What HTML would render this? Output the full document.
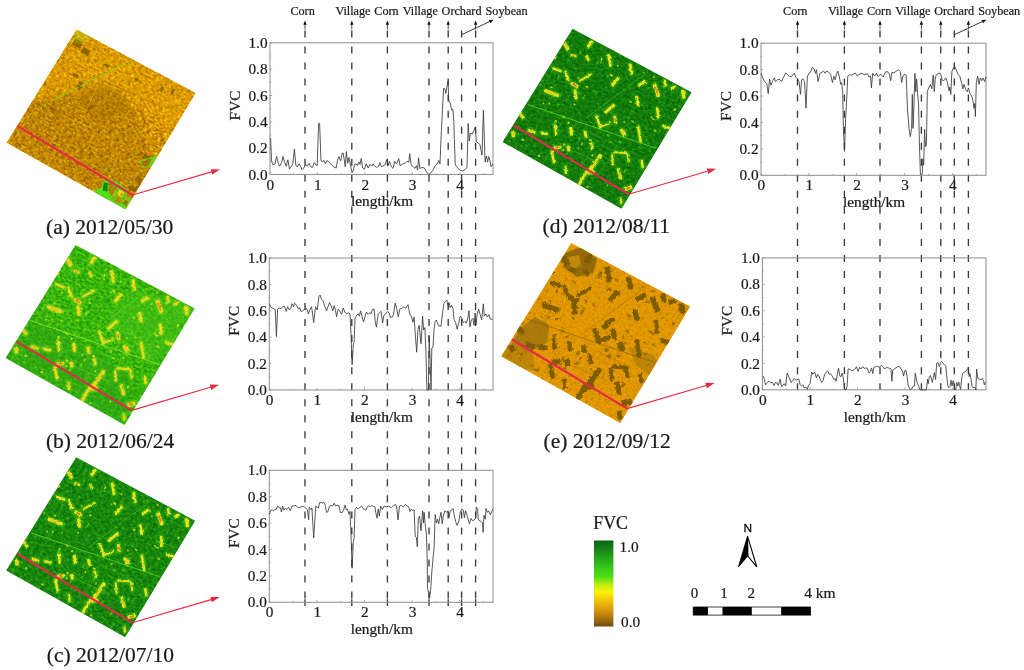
<!DOCTYPE html>
<html lang="en"><head><meta charset="utf-8"><title>FVC profiles 2012</title>
<style>html,body{margin:0;padding:0;background:#fff}body{width:1024px;height:670px;overflow:hidden}svg{display:block}</style></head><body>
<svg width="1024" height="670" viewBox="0 0 1024 670">
<rect width="1024" height="670" fill="#fff"/>
<defs>
<clipPath id="tp"><polygon points="0.0,0.0 119.0,63.5 49.0,180.0 -70.0,113.2"/></clipPath>
<filter id="texA" x="-110" y="-110" width="330" height="330" filterUnits="userSpaceOnUse" color-interpolation-filters="sRGB"><feTurbulence type="fractalNoise" baseFrequency="0.3 0.5" numOctaves="2" seed="3"/><feColorMatrix type="matrix" values="2.6 0 0 0 -0.8  2.6 0 0 0 -0.8  2.6 0 0 0 -0.8  0 0 0 0 1"/><feComponentTransfer><feFuncR type="table" tableValues="0.588 0.690 0.776 0.839 0.878 0.918 0.965"/><feFuncG type="table" tableValues="0.369 0.447 0.518 0.573 0.612 0.690 0.816"/><feFuncB type="table" tableValues="0.000 0.000 0.000 0.000 0.000 0.016 0.055"/></feComponentTransfer></filter>
<filter id="texB" x="-110" y="-110" width="330" height="330" filterUnits="userSpaceOnUse" color-interpolation-filters="sRGB"><feTurbulence type="fractalNoise" baseFrequency="0.3 0.45" numOctaves="2" seed="5"/><feColorMatrix type="matrix" values="2.4 0 0 0 -0.7  2.4 0 0 0 -0.7  2.4 0 0 0 -0.7  0 0 0 0 1"/><feComponentTransfer><feFuncR type="table" tableValues="0.118 0.157 0.196 0.235 0.282 0.361"/><feFuncG type="table" tableValues="0.588 0.635 0.682 0.729 0.776 0.831"/><feFuncB type="table" tableValues="0.039 0.039 0.039 0.047 0.055 0.078"/></feComponentTransfer></filter>
<filter id="texC" x="-110" y="-110" width="330" height="330" filterUnits="userSpaceOnUse" color-interpolation-filters="sRGB"><feTurbulence type="fractalNoise" baseFrequency="0.3 0.45" numOctaves="2" seed="6"/><feColorMatrix type="matrix" values="1.9 0 0 0 -0.44999999999999996  1.9 0 0 0 -0.44999999999999996  1.9 0 0 0 -0.44999999999999996  0 0 0 0 1"/><feComponentTransfer><feFuncR type="table" tableValues="0.031 0.055 0.078 0.102 0.133 0.188"/><feFuncG type="table" tableValues="0.400 0.455 0.502 0.549 0.596 0.675"/><feFuncB type="table" tableValues="0.031 0.039 0.047 0.055 0.063 0.094"/></feComponentTransfer></filter>
<filter id="texD" x="-110" y="-110" width="330" height="330" filterUnits="userSpaceOnUse" color-interpolation-filters="sRGB"><feTurbulence type="fractalNoise" baseFrequency="0.3 0.45" numOctaves="2" seed="7"/><feColorMatrix type="matrix" values="1.9 0 0 0 -0.44999999999999996  1.9 0 0 0 -0.44999999999999996  1.9 0 0 0 -0.44999999999999996  0 0 0 0 1"/><feComponentTransfer><feFuncR type="table" tableValues="0.016 0.039 0.063 0.082 0.110 0.157"/><feFuncG type="table" tableValues="0.361 0.416 0.463 0.502 0.549 0.627"/><feFuncB type="table" tableValues="0.031 0.031 0.039 0.047 0.063 0.086"/></feComponentTransfer></filter>
<filter id="texE" x="-110" y="-110" width="330" height="330" filterUnits="userSpaceOnUse" color-interpolation-filters="sRGB"><feTurbulence type="fractalNoise" baseFrequency="0.35 0.5" numOctaves="2" seed="8"/><feColorMatrix type="matrix" values="1.7 0 0 0 -0.35  1.7 0 0 0 -0.35  1.7 0 0 0 -0.35  0 0 0 0 1"/><feComponentTransfer><feFuncR type="table" tableValues="0.769 0.831 0.871 0.894 0.910 0.933"/><feFuncG type="table" tableValues="0.518 0.557 0.588 0.604 0.620 0.659"/><feFuncB type="table" tableValues="0.000 0.000 0.000 0.000 0.000 0.016"/></feComponentTransfer></filter>
<filter id="spGreenA" x="-110" y="-110" width="330" height="330" filterUnits="userSpaceOnUse" color-interpolation-filters="sRGB"><feTurbulence type="fractalNoise" baseFrequency="0.5" numOctaves="2" seed="21"/><feColorMatrix type="matrix" values="0 0 0 0 0.373  0 0 0 0 0.878  0 0 0 0 0.118  5 0 0 0 -3.25"/></filter>
<filter id="spYellA" x="-110" y="-110" width="330" height="330" filterUnits="userSpaceOnUse" color-interpolation-filters="sRGB"><feTurbulence type="fractalNoise" baseFrequency="0.55" numOctaves="2" seed="22"/><feColorMatrix type="matrix" values="0 0 0 0 1.000  0 0 0 0 0.878  0 0 0 0 0.063  5 0 0 0 -3.0"/></filter>
<filter id="spDarkA" x="-110" y="-110" width="330" height="330" filterUnits="userSpaceOnUse" color-interpolation-filters="sRGB"><feTurbulence type="fractalNoise" baseFrequency="0.35" numOctaves="2" seed="23"/><feColorMatrix type="matrix" values="0 0 0 0 0.478  0 0 0 0 0.314  0 0 0 0 0.000  5 0 0 0 -3.1"/></filter>
<filter id="spLightG" x="-110" y="-110" width="330" height="330" filterUnits="userSpaceOnUse" color-interpolation-filters="sRGB"><feTurbulence type="fractalNoise" baseFrequency="0.45" numOctaves="2" seed="24"/><feColorMatrix type="matrix" values="0 0 0 0 0.431  0 0 0 0 0.878  0 0 0 0 0.118  5 0 0 0 -3.1"/></filter>
<filter id="spDarkE" x="-110" y="-110" width="330" height="330" filterUnits="userSpaceOnUse" color-interpolation-filters="sRGB"><feTurbulence type="fractalNoise" baseFrequency="0.4" numOctaves="2" seed="25"/><feColorMatrix type="matrix" values="0 0 0 0 0.486  0 0 0 0 0.353  0 0 0 0 0.031  5 0 0 0 -3.1"/></filter>
<filter id="rough" x="-110" y="-110" width="330" height="330" filterUnits="userSpaceOnUse"><feTurbulence type="fractalNoise" baseFrequency="0.35" numOctaves="2" seed="31" result="t"/><feDisplacementMap in="SourceGraphic" in2="t" scale="3.2" xChannelSelector="R" yChannelSelector="G"/></filter>
<filter id="roughE" x="-110" y="-110" width="330" height="330" filterUnits="userSpaceOnUse"><feTurbulence type="fractalNoise" baseFrequency="0.3" numOctaves="2" seed="33" result="t"/><feDisplacementMap in="SourceGraphic" in2="t" scale="4" xChannelSelector="R" yChannelSelector="G"/></filter>
<filter id="blur1" x="-50%" y="-50%" width="200%" height="200%"><feGaussianBlur stdDeviation="1.0"/></filter>
<filter id="blur04" x="-110" y="-110" width="330" height="330" filterUnits="userSpaceOnUse"><feGaussianBlur stdDeviation="0.45"/></filter>
<filter id="blur05" x="-50%" y="-50%" width="200%" height="200%"><feGaussianBlur stdDeviation="0.5"/></filter>
<filter id="blur2" x="-50%" y="-50%" width="200%" height="200%"><feGaussianBlur stdDeviation="2.5"/></filter>
</defs>
<g transform="translate(76.6,29.5)">
<g clip-path="url(#tp)">
<rect x="-100" y="-100" width="310" height="310" transform="rotate(28)" filter="url(#texA)"/>
<polygon points="0,0 119,63.5 95,105 40,60 -20,70 -45,72" fill="#f0ac00" opacity="0.38" filter="url(#blur2)"/>
<polygon points="-70,113 -46,74 -10,62 25,52 45,62 62,90 74,118 80,135 49,180" fill="#9a6600" opacity="0.3" filter="url(#blur2)"/>
<polygon points="2,70 22,56 46,66 60,86 40,84 20,96" fill="#a87000" opacity="0.3" filter="url(#blur1)"/>
<line x1="45.8" y1="72.7" x2="65.3" y2="45.2" stroke="#f4c80c" stroke-width="0.7" opacity="0.48"/><line x1="-10.8" y1="28.6" x2="30.8" y2="48.8" stroke="#f4c80c" stroke-width="0.7" opacity="0.37"/><line x1="12.8" y1="48.6" x2="55.7" y2="64.8" stroke="#f4c80c" stroke-width="0.7" opacity="0.38"/><line x1="25.7" y1="80.9" x2="40.9" y2="52.8" stroke="#f4c80c" stroke-width="0.7" opacity="0.27"/><line x1="30.7" y1="72.2" x2="50.9" y2="35.1" stroke="#f4c80c" stroke-width="0.7" opacity="0.48"/><line x1="73.4" y1="108.8" x2="81.3" y2="92.6" stroke="#f4c80c" stroke-width="0.7" opacity="0.51"/><line x1="-24.4" y1="119.3" x2="1.9" y2="131.2" stroke="#f4c80c" stroke-width="0.7" opacity="0.26"/><line x1="67.8" y1="68.2" x2="98.6" y2="23.4" stroke="#f4c80c" stroke-width="0.7" opacity="0.40"/><line x1="-31.3" y1="123.3" x2="-9.5" y2="84.9" stroke="#f4c80c" stroke-width="0.7" opacity="0.38"/><line x1="35.3" y1="110.4" x2="53.4" y2="80.0" stroke="#f4c80c" stroke-width="0.7" opacity="0.55"/><line x1="-12.7" y1="62.8" x2="-18.4" y2="80.3" stroke="#f4c80c" stroke-width="0.7" opacity="0.26"/><line x1="-30.1" y1="137.5" x2="-20.0" y2="120.6" stroke="#f4c80c" stroke-width="0.7" opacity="0.50"/><line x1="43.8" y1="121.3" x2="27.2" y2="160.3" stroke="#f4c80c" stroke-width="0.7" opacity="0.57"/><line x1="-54.6" y1="139.9" x2="-28.2" y2="96.8" stroke="#f4c80c" stroke-width="0.7" opacity="0.30"/><line x1="44.1" y1="157.2" x2="59.9" y2="164.6" stroke="#f4c80c" stroke-width="0.7" opacity="0.44"/><line x1="64.2" y1="106.7" x2="108.6" y2="124.9" stroke="#f4c80c" stroke-width="0.7" opacity="0.28"/><line x1="77.5" y1="80.7" x2="110.5" y2="95.0" stroke="#f4c80c" stroke-width="0.7" opacity="0.53"/><line x1="74.6" y1="77.0" x2="119.5" y2="100.1" stroke="#f4c80c" stroke-width="0.7" opacity="0.25"/><line x1="11.3" y1="144.5" x2="19.5" y2="129.9" stroke="#f4c80c" stroke-width="0.7" opacity="0.37"/><line x1="44.5" y1="96.0" x2="77.7" y2="111.1" stroke="#f4c80c" stroke-width="0.7" opacity="0.37"/><line x1="84.8" y1="106.2" x2="97.9" y2="78.0" stroke="#f4c80c" stroke-width="0.7" opacity="0.47"/><line x1="43.3" y1="102.2" x2="61.8" y2="109.3" stroke="#f4c80c" stroke-width="0.7" opacity="0.37"/><line x1="4.3" y1="93.3" x2="21.1" y2="55.0" stroke="#f4c80c" stroke-width="0.7" opacity="0.54"/><line x1="0.0" y1="96.9" x2="34.4" y2="110.1" stroke="#f4c80c" stroke-width="0.7" opacity="0.36"/><line x1="18.7" y1="120.8" x2="39.3" y2="131.4" stroke="#f4c80c" stroke-width="0.7" opacity="0.59"/><line x1="59.1" y1="93.6" x2="85.3" y2="57.5" stroke="#f4c80c" stroke-width="0.7" opacity="0.40"/><line x1="57.2" y1="80.3" x2="63.8" y2="65.3" stroke="#f4c80c" stroke-width="0.7" opacity="0.56"/><line x1="77.7" y1="117.0" x2="67.7" y2="146.8" stroke="#f4c80c" stroke-width="0.7" opacity="0.41"/><line x1="-32.1" y1="77.6" x2="11.1" y2="96.8" stroke="#f4c80c" stroke-width="0.7" opacity="0.47"/><line x1="-68.3" y1="118.6" x2="-45.0" y2="82.9" stroke="#f4c80c" stroke-width="0.7" opacity="0.59"/><line x1="64.8" y1="104.6" x2="77.7" y2="73.5" stroke="#f4c80c" stroke-width="0.7" opacity="0.59"/><line x1="-9.0" y1="-1.8" x2="33.9" y2="17.1" stroke="#f4c80c" stroke-width="0.7" opacity="0.28"/><line x1="-9.9" y1="27.1" x2="38.2" y2="45.9" stroke="#f4c80c" stroke-width="0.7" opacity="0.52"/><line x1="64.0" y1="64.8" x2="85.1" y2="72.6" stroke="#f4c80c" stroke-width="0.7" opacity="0.43"/><line x1="15.3" y1="157.3" x2="26.3" y2="141.5" stroke="#f4c80c" stroke-width="0.7" opacity="0.43"/><line x1="-72.6" y1="118.4" x2="-50.7" y2="87.3" stroke="#f4c80c" stroke-width="0.7" opacity="0.42"/><line x1="-10.0" y1="13.7" x2="25.2" y2="27.7" stroke="#f4c80c" stroke-width="0.7" opacity="0.56"/><line x1="57.4" y1="44.9" x2="75.8" y2="53.6" stroke="#f4c80c" stroke-width="0.7" opacity="0.27"/><line x1="-14.3" y1="74.1" x2="8.6" y2="82.6" stroke="#f4c80c" stroke-width="0.7" opacity="0.50"/><line x1="-15.3" y1="76.7" x2="29.6" y2="99.0" stroke="#f4c80c" stroke-width="0.7" opacity="0.50"/>
<line x1="-44.3" y1="70.6" x2="-6.6" y2="87.7" stroke="#8a5c00" stroke-width="0.8" opacity="0.31"/><line x1="-3.8" y1="83.1" x2="13.4" y2="51.2" stroke="#8a5c00" stroke-width="0.8" opacity="0.47"/><line x1="-7.5" y1="146.9" x2="8.0" y2="118.2" stroke="#8a5c00" stroke-width="0.8" opacity="0.43"/><line x1="-8.4" y1="4.5" x2="21.2" y2="18.2" stroke="#8a5c00" stroke-width="0.8" opacity="0.43"/><line x1="-25.1" y1="67.8" x2="3.7" y2="80.5" stroke="#8a5c00" stroke-width="0.8" opacity="0.42"/><line x1="-27.1" y1="53.7" x2="-42.1" y2="93.4" stroke="#8a5c00" stroke-width="0.8" opacity="0.43"/><line x1="48.8" y1="117.6" x2="68.8" y2="74.9" stroke="#8a5c00" stroke-width="0.8" opacity="0.38"/><line x1="-24.9" y1="23.4" x2="8.8" y2="39.4" stroke="#8a5c00" stroke-width="0.8" opacity="0.40"/><line x1="25.2" y1="122.1" x2="9.5" y2="164.0" stroke="#8a5c00" stroke-width="0.8" opacity="0.47"/><line x1="7.1" y1="122.1" x2="-1.7" y2="143.7" stroke="#8a5c00" stroke-width="0.8" opacity="0.34"/><line x1="-26.6" y1="94.7" x2="-6.8" y2="64.2" stroke="#8a5c00" stroke-width="0.8" opacity="0.59"/><line x1="29.2" y1="87.9" x2="40.6" y2="69.3" stroke="#8a5c00" stroke-width="0.8" opacity="0.28"/><line x1="32.5" y1="168.1" x2="48.2" y2="140.7" stroke="#8a5c00" stroke-width="0.8" opacity="0.56"/><line x1="-12.3" y1="41.5" x2="9.2" y2="51.7" stroke="#8a5c00" stroke-width="0.8" opacity="0.40"/><line x1="-28.2" y1="59.1" x2="-5.0" y2="67.6" stroke="#8a5c00" stroke-width="0.8" opacity="0.35"/><line x1="-53.5" y1="90.2" x2="-27.7" y2="100.3" stroke="#8a5c00" stroke-width="0.8" opacity="0.50"/><line x1="10.5" y1="43.4" x2="54.1" y2="64.2" stroke="#8a5c00" stroke-width="0.8" opacity="0.49"/><line x1="-3.5" y1="7.4" x2="-17.4" y2="37.9" stroke="#8a5c00" stroke-width="0.8" opacity="0.54"/><line x1="37.7" y1="55.5" x2="83.5" y2="77.4" stroke="#8a5c00" stroke-width="0.8" opacity="0.50"/><line x1="22.9" y1="135.9" x2="29.5" y2="122.2" stroke="#8a5c00" stroke-width="0.8" opacity="0.35"/><line x1="-25.4" y1="98.0" x2="-13.4" y2="76.7" stroke="#8a5c00" stroke-width="0.8" opacity="0.31"/><line x1="-11.7" y1="13.1" x2="11.9" y2="23.9" stroke="#8a5c00" stroke-width="0.8" opacity="0.52"/>
<rect x="-4.5" y="-3.5" width="9" height="7" fill="#8a5e04" opacity="0.9" transform="translate(1,14) rotate(28)"/>
<rect x="-4.0" y="-3.0" width="8" height="6" fill="#8a5e04" opacity="0.9" transform="translate(9,22) rotate(28)"/>
<rect x="-4.0" y="-2.25" width="8" height="4.5" fill="#8a5e04" opacity="0.9" transform="translate(3,56) rotate(-60)"/>
<rect x="-3.0" y="-1.5" width="6" height="3" fill="#8a5e04" opacity="0.9" transform="translate(-1,46) rotate(28)"/>
<rect x="-3.0" y="-1.5" width="6" height="3" fill="#8a5e04" opacity="0.9" transform="translate(-24,80) rotate(30)"/>
<rect x="-2.5" y="-1.5" width="5" height="3" fill="#8a5e04" opacity="0.9" transform="translate(30,36) rotate(28)"/>
<rect x="-3.0" y="-1.5" width="6" height="3" fill="#8a5e04" opacity="0.9" transform="translate(85,60) rotate(-60)"/>
<rect x="-2.5" y="-1.5" width="5" height="3" fill="#8a5e04" opacity="0.9" transform="translate(96,62) rotate(-60)"/>
<rect x="-2.0" y="-1.5" width="4" height="3" fill="#8a5e04" opacity="0.9" transform="translate(60,50) rotate(28)"/>
<rect x="-4.0" y="-2.5" width="8" height="5" fill="#8a5e04" opacity="0.9" transform="translate(70,128) rotate(28)"/>
<rect x="-3.0" y="-2.5" width="6" height="5" fill="#8a5e04" opacity="0.9" transform="translate(62,150) rotate(28)"/>
<rect x="-3.5" y="-1.5" width="7" height="3" fill="#8a5e04" opacity="0.9" transform="translate(14,78) rotate(-30)"/>
<line x1="58" y1="29" x2="-28" y2="73" stroke="#7be01e" stroke-width="1.1" stroke-dasharray="5 2 2 3 7 2" opacity="0.9"/>
<line x1="-30" y1="74" x2="-52" y2="93" stroke="#a8e01e" stroke-width="1" stroke-dasharray="3 3" opacity="0.8"/>
<polygon points="0,0 14,7 6,14 -8,12" fill="#9fe01e" opacity="0.28" filter="url(#blur05)"/>
<polygon points="17.9,160.9 25.2,158.1 27.1,150.6 32.2,151.0 33.1,158.7 32.4,164.0 37.5,168.7 50.4,178.8 48.7,180.5 17.9,163.1" fill="#4fe01a" filter="url(#blur05)"/>
<polygon points="27.4,153.1 31.3,153.6 30.8,162.2 25.9,161.1" fill="#0f8a14" filter="url(#blur05)"/>
<polygon points="34.1,150.6 40.8,152.2 47.0,157.3 50.9,159.8 49.5,163.7 42.7,160.3 35.8,155.5" fill="#58e01c" filter="url(#blur05)" opacity="0.9"/>
<polygon points="35.8,155.3 50.4,159.8 54.8,166.5 53.2,173.2 49.8,179.0 37.5,168.7" fill="#5ade1e" opacity="0.7"/>
<rect x="-3.1" y="-3.1" width="6.3" height="6.3" fill="#b07c06" transform="translate(35.5,158.9) rotate(30)" />
<rect x="-2.8" y="-2.8" width="5.6" height="5.6" fill="#f2d414" transform="translate(43.9,164.0) rotate(30)" />
<rect x="-1.2" y="-1.2" width="2.5" height="2.5" fill="#e89a10" transform="translate(44.8,165.1) rotate(30)" />
<rect x="-1.9" y="-1.9" width="3.8" height="3.8" fill="#b88406" transform="translate(52.0,166.2) rotate(30)" />
<rect x="-2.8" y="-2.8" width="5.6" height="5.6" fill="#b88406" transform="translate(41.4,170.6) rotate(30)" />
<rect x="-2.0" y="-2.0" width="4.0" height="4.0" fill="#9a6c06" transform="translate(49.0,173.0) rotate(30)" />
<polygon points="51.5,157.0 56.5,155.9 59.9,158.7 58.2,162.6 52.6,160.9" fill="#8e6004" filter="url(#blur05)" opacity="0.9"/>
<polygon points="63.2,130.7 81.0,126.0 76.1,137.2 65.8,138.5" fill="#62e01e" opacity="0.85"/>
<polygon points="64.7,132.0 74.8,129.3 72.5,136.5 66.5,137.6" fill="#a47206" filter="url(#blur05)"/>
<polygon points="28.0,139.1 30.2,138.5 30.8,140.5 28.9,141.0" fill="#58e01c" opacity="0.8"/>
<polygon points="53.2,151.4 55.7,151.4 55.7,153.9 53.5,153.9" fill="#7be01c" opacity="0.7"/>
<rect x="-100" y="-100" width="310" height="310" transform="rotate(28)" filter="url(#spDarkA)" opacity="0.6"/>
<rect x="-100" y="-100" width="310" height="310" transform="rotate(28)" filter="url(#spYellA)" opacity="0.6"/>
<rect x="-100" y="-100" width="310" height="310" transform="rotate(28)" filter="url(#spGreenA)" opacity="0.85"/>
<line x1="-59.3" y1="96.4" x2="56" y2="165.5" stroke="#e8284a" stroke-width="2.1"/>
</g>
<line x1="56" y1="165.5" x2="134.9" y2="142.4" stroke="#e82a40" stroke-width="1.1"/>
<polygon points="143.5,139.9 135.6,145.1 134.1,139.7" fill="#e82a40"/>
</g>
<g transform="translate(75.6,244.9)">
<g clip-path="url(#tp)">
<rect x="-100" y="-100" width="310" height="310" transform="rotate(28)" filter="url(#texB)"/>
<polygon points="-70,113 -45,72 60,128 49,180" fill="#2aa012" opacity="0.5" filter="url(#blur2)"/>
<polygon points="30,70 60,44 119,63.5 100,100 75,120" fill="#48c41e" opacity="0.45" filter="url(#blur2)"/>
<line x1="-27.6" y1="35.4" x2="-2.0" y2="46.9" stroke="#86e02e" stroke-width="0.55" opacity="0.45"/><line x1="15.4" y1="102.9" x2="60.1" y2="124.3" stroke="#86e02e" stroke-width="0.55" opacity="0.42"/><line x1="-28.1" y1="84.0" x2="-18.0" y2="62.0" stroke="#86e02e" stroke-width="0.55" opacity="0.51"/><line x1="96.9" y1="55.8" x2="121.0" y2="64.6" stroke="#86e02e" stroke-width="0.55" opacity="0.28"/><line x1="20.1" y1="112.4" x2="66.0" y2="134.0" stroke="#86e02e" stroke-width="0.55" opacity="0.46"/><line x1="60.0" y1="81.3" x2="41.1" y2="123.4" stroke="#86e02e" stroke-width="0.55" opacity="0.44"/><line x1="21.0" y1="41.8" x2="35.6" y2="16.9" stroke="#86e02e" stroke-width="0.55" opacity="0.40"/><line x1="34.9" y1="41.1" x2="50.6" y2="13.5" stroke="#86e02e" stroke-width="0.55" opacity="0.53"/><line x1="-22.3" y1="36.3" x2="-32.4" y2="59.1" stroke="#86e02e" stroke-width="0.55" opacity="0.23"/><line x1="22.0" y1="107.7" x2="48.3" y2="119.1" stroke="#86e02e" stroke-width="0.55" opacity="0.29"/><line x1="9.8" y1="136.5" x2="22.1" y2="112.8" stroke="#86e02e" stroke-width="0.55" opacity="0.49"/><line x1="84.8" y1="76.2" x2="105.2" y2="47.1" stroke="#86e02e" stroke-width="0.55" opacity="0.47"/><line x1="104.0" y1="79.9" x2="118.0" y2="49.8" stroke="#86e02e" stroke-width="0.55" opacity="0.24"/><line x1="25.5" y1="146.6" x2="42.3" y2="122.7" stroke="#86e02e" stroke-width="0.55" opacity="0.47"/><line x1="-39.6" y1="125.0" x2="5.4" y2="140.8" stroke="#86e02e" stroke-width="0.55" opacity="0.26"/><line x1="-33.5" y1="141.6" x2="-10.6" y2="101.5" stroke="#86e02e" stroke-width="0.55" opacity="0.52"/><line x1="2.8" y1="123.3" x2="35.2" y2="137.5" stroke="#86e02e" stroke-width="0.55" opacity="0.53"/><line x1="-8.1" y1="112.5" x2="-23.2" y2="155.1" stroke="#86e02e" stroke-width="0.55" opacity="0.30"/><line x1="63.7" y1="148.7" x2="78.0" y2="128.3" stroke="#86e02e" stroke-width="0.55" opacity="0.28"/><line x1="43.0" y1="77.5" x2="28.2" y2="113.7" stroke="#86e02e" stroke-width="0.55" opacity="0.40"/><line x1="18.9" y1="35.0" x2="50.2" y2="51.9" stroke="#86e02e" stroke-width="0.55" opacity="0.27"/><line x1="-42.2" y1="81.9" x2="-18.7" y2="39.1" stroke="#86e02e" stroke-width="0.55" opacity="0.39"/><line x1="-29.4" y1="80.9" x2="-13.0" y2="55.9" stroke="#86e02e" stroke-width="0.55" opacity="0.28"/><line x1="-17.0" y1="109.1" x2="10.5" y2="121.1" stroke="#86e02e" stroke-width="0.55" opacity="0.26"/><line x1="-41.4" y1="110.6" x2="-22.6" y2="67.1" stroke="#86e02e" stroke-width="0.55" opacity="0.31"/><line x1="-6.5" y1="119.1" x2="8.3" y2="125.2" stroke="#86e02e" stroke-width="0.55" opacity="0.30"/><line x1="-13.3" y1="116.4" x2="32.0" y2="135.7" stroke="#86e02e" stroke-width="0.55" opacity="0.41"/><line x1="102.3" y1="74.1" x2="114.9" y2="51.8" stroke="#86e02e" stroke-width="0.55" opacity="0.49"/><line x1="-6.4" y1="83.3" x2="-19.2" y2="110.8" stroke="#86e02e" stroke-width="0.55" opacity="0.40"/><line x1="18.0" y1="109.8" x2="7.6" y2="137.8" stroke="#86e02e" stroke-width="0.55" opacity="0.24"/><line x1="36.9" y1="80.8" x2="51.1" y2="86.4" stroke="#86e02e" stroke-width="0.55" opacity="0.26"/><line x1="17.3" y1="76.2" x2="53.1" y2="88.7" stroke="#86e02e" stroke-width="0.55" opacity="0.47"/><line x1="-16.8" y1="89.9" x2="11.1" y2="43.4" stroke="#86e02e" stroke-width="0.55" opacity="0.29"/><line x1="78.9" y1="83.3" x2="118.6" y2="96.3" stroke="#86e02e" stroke-width="0.55" opacity="0.46"/>
<line x1="-45.2" y1="75.6" x2="83.8" y2="119.6" stroke="#86e02e" stroke-width="0.95" opacity="0.95"/>
<line x1="12.9" y1="89.8" x2="75.3" y2="43.0" stroke="#86e02e" stroke-width="0.7" opacity="0.7"/>
<line x1="-29.6" y1="38.8" x2="21.4" y2="129.5" stroke="#86e02e" stroke-width="0.5" opacity="0.4"/>
<g filter="url(#blur1)" opacity="0.6"><rect x="-5.4" y="-2.8" width="10.7" height="5.6" rx="1.5" fill="#a4e624" transform="translate(-6.4,17.5) rotate(60)"/><rect x="-4.2" y="-2.3" width="8.4" height="4.6" rx="1.5" fill="#a4e624" transform="translate(1.0,26.8) rotate(20)"/><rect x="-5.4" y="-2.5" width="10.7" height="5.1" rx="1.5" fill="#a4e624" transform="translate(17.2,15.5) rotate(-55)"/><rect x="-3.9" y="-2.3" width="7.9" height="4.6" rx="1.5" fill="#a4e624" transform="translate(15.2,29.7) rotate(60)"/><rect x="-7.5" y="-2.5" width="15.0" height="5.1" rx="1.5" fill="#a4e624" transform="translate(37.0,31.7) rotate(80)"/><rect x="-6.8" y="-2.5" width="13.5" height="5.1" rx="1.5" fill="#a4e624" transform="translate(58.3,40.2) rotate(80)"/><rect x="-6.1" y="-2.3" width="12.1" height="4.6" rx="1.5" fill="#a4e624" transform="translate(-15.5,41.0) rotate(20)"/><rect x="-6.8" y="-2.3" width="13.5" height="4.6" rx="1.5" fill="#a4e624" transform="translate(-5.5,47.3) rotate(70)"/><rect x="-8.2" y="-2.1" width="16.4" height="4.1" rx="1.5" fill="#a4e624" transform="translate(12.9,48.7) rotate(-30)"/><rect x="-5.4" y="-2.8" width="10.7" height="5.6" rx="1.5" fill="#a4e624" transform="translate(2.1,56.3) rotate(30)"/><rect x="-6.1" y="-2.5" width="12.1" height="5.1" rx="1.5" fill="#a4e624" transform="translate(3.0,65.7) rotate(80)"/><rect x="-8.9" y="-2.8" width="17.8" height="5.6" rx="1.5" fill="#a4e624" transform="translate(-21.1,64.3) rotate(20)"/><rect x="-6.8" y="-2.5" width="13.5" height="5.1" rx="1.5" fill="#a4e624" transform="translate(42.7,52.9) rotate(-50)"/><rect x="-5.4" y="-2.5" width="10.7" height="5.1" rx="1.5" fill="#a4e624" transform="translate(69.6,54.4) rotate(-30)"/><rect x="-8.2" y="-2.8" width="16.4" height="5.6" rx="1.5" fill="#a4e624" transform="translate(83.8,61.4) rotate(70)"/><rect x="-4.6" y="-2.3" width="9.3" height="4.6" rx="1.5" fill="#a4e624" transform="translate(92.3,54.4) rotate(80)"/><rect x="-3.9" y="-2.3" width="7.9" height="4.6" rx="1.5" fill="#a4e624" transform="translate(100.8,58.6) rotate(-20)"/><rect x="-5.4" y="-2.8" width="10.7" height="5.6" rx="1.5" fill="#a4e624" transform="translate(110.8,65.7) rotate(80)"/><rect x="-6.1" y="-2.5" width="12.1" height="5.1" rx="1.5" fill="#a4e624" transform="translate(64.8,72.2) rotate(80)"/><rect x="-6.8" y="-2.3" width="13.5" height="4.6" rx="1.5" fill="#a4e624" transform="translate(85.2,84.1) rotate(85)"/><rect x="-5.4" y="-2.3" width="10.7" height="4.6" rx="1.5" fill="#a4e624" transform="translate(93.8,98.3) rotate(15)"/><rect x="-7.5" y="-2.5" width="15.0" height="5.1" rx="1.5" fill="#a4e624" transform="translate(37.0,79.9) rotate(-40)"/><rect x="-8.2" y="-2.3" width="16.4" height="4.6" rx="1.5" fill="#a4e624" transform="translate(25.7,92.7) rotate(70)"/><rect x="-5.4" y="-2.5" width="10.7" height="5.1" rx="1.5" fill="#a4e624" transform="translate(42.7,91.2) rotate(80)"/><rect x="-6.8" y="-2.1" width="13.5" height="4.1" rx="1.5" fill="#a4e624" transform="translate(32.8,96.1) rotate(-20)"/><rect x="-5.4" y="-2.8" width="10.7" height="5.6" rx="1.5" fill="#a4e624" transform="translate(50.4,104.0) rotate(60)"/><rect x="-9.6" y="-2.3" width="19.2" height="4.6" rx="1.5" fill="#a4e624" transform="translate(66.8,105.4) rotate(80)"/><rect x="-4.6" y="-2.5" width="9.3" height="5.1" rx="1.5" fill="#a4e624" transform="translate(-50.9,87.0) rotate(50)"/><rect x="-3.9" y="-2.8" width="7.9" height="5.6" rx="1.5" fill="#a4e624" transform="translate(-59.4,105.4) rotate(80)"/><rect x="-5.4" y="-2.5" width="10.7" height="5.1" rx="1.5" fill="#a4e624" transform="translate(-41.0,102.6) rotate(20)"/><rect x="-4.6" y="-2.5" width="9.3" height="5.1" rx="1.5" fill="#a4e624" transform="translate(-28.2,104.6) rotate(10)"/><rect x="-6.1" y="-2.3" width="12.1" height="4.6" rx="1.5" fill="#a4e624" transform="translate(-16.9,101.2) rotate(85)"/><rect x="-5.4" y="-2.5" width="10.7" height="5.1" rx="1.5" fill="#a4e624" transform="translate(-1.3,102.6) rotate(85)"/><rect x="-4.6" y="-2.5" width="9.3" height="5.1" rx="1.5" fill="#a4e624" transform="translate(12.9,105.4) rotate(80)"/><rect x="-4.6" y="-2.5" width="9.3" height="5.1" rx="1.5" fill="#a4e624" transform="translate(-15.5,118.8) rotate(0)"/><rect x="-3.9" y="-2.5" width="7.9" height="5.1" rx="1.5" fill="#a4e624" transform="translate(-4.1,119.6) rotate(80)"/><rect x="-4.6" y="-2.3" width="9.3" height="4.6" rx="1.5" fill="#a4e624" transform="translate(19.1,116.8) rotate(80)"/><rect x="-7.5" y="-2.3" width="15.0" height="4.6" rx="1.5" fill="#a4e624" transform="translate(-19.7,128.1) rotate(80)"/><rect x="-11.0" y="-2.8" width="22.1" height="5.6" rx="1.5" fill="#a4e624" transform="translate(22.8,133.8) rotate(-55)"/><rect x="-9.6" y="-2.5" width="19.2" height="5.1" rx="1.5" fill="#a4e624" transform="translate(10.1,149.4) rotate(-60)"/><rect x="-5.4" y="-2.3" width="10.7" height="4.6" rx="1.5" fill="#a4e624" transform="translate(-7.0,140.9) rotate(85)"/><rect x="-4.6" y="-2.8" width="9.3" height="5.6" rx="1.5" fill="#a4e624" transform="translate(18.6,143.7) rotate(-10)"/><rect x="-8.2" y="-2.1" width="16.4" height="4.1" rx="1.5" fill="#a4e624" transform="translate(48.4,123.9) rotate(5)"/><rect x="-6.8" y="-2.1" width="13.5" height="4.1" rx="1.5" fill="#a4e624" transform="translate(39.9,131.0) rotate(85)"/><rect x="-5.4" y="-2.1" width="10.7" height="4.1" rx="1.5" fill="#a4e624" transform="translate(55.5,129.5) rotate(80)"/><rect x="-5.4" y="-2.3" width="10.7" height="4.6" rx="1.5" fill="#a4e624" transform="translate(69.6,135.2) rotate(80)"/><rect x="-6.8" y="-2.5" width="13.5" height="5.1" rx="1.5" fill="#a4e624" transform="translate(46.9,145.1) rotate(75)"/><rect x="-5.4" y="-2.8" width="10.7" height="5.6" rx="1.5" fill="#a4e624" transform="translate(55.5,159.3) rotate(-10)"/><rect x="-4.6" y="-2.3" width="9.3" height="4.6" rx="1.5" fill="#a4e624" transform="translate(48.4,172.1) rotate(80)"/></g><g filter="url(#blur04)"><g filter="url(#rough)"><rect x="-4.3" y="-1.7" width="8.5" height="3.4" rx="0.8" fill="#f0d81c" opacity="1" transform="translate(-6.4,17.5) rotate(60)"/><rect x="-3.1" y="-1.2" width="6.2" height="2.4" rx="0.8" fill="#f0d81c" opacity="1" transform="translate(1.0,26.8) rotate(20)"/><rect x="-4.3" y="-1.4" width="8.5" height="2.9" rx="0.8" fill="#f0d81c" opacity="1" transform="translate(17.2,15.5) rotate(-55)"/><rect x="-2.8" y="-1.2" width="5.7" height="2.4" rx="0.8" fill="#f0d81c" opacity="1" transform="translate(15.2,29.7) rotate(60)"/><rect x="-6.4" y="-1.4" width="12.8" height="2.9" rx="0.8" fill="#f0d81c" opacity="1" transform="translate(37.0,31.7) rotate(80)"/><rect x="-5.7" y="-1.4" width="11.3" height="2.9" rx="0.8" fill="#f0d81c" opacity="1" transform="translate(58.3,40.2) rotate(80)"/><rect x="-5.0" y="-1.2" width="9.9" height="2.4" rx="0.8" fill="#f0d81c" opacity="1" transform="translate(-15.5,41.0) rotate(20)"/><rect x="-5.7" y="-1.2" width="11.3" height="2.4" rx="0.8" fill="#f0d81c" opacity="1" transform="translate(-5.5,47.3) rotate(70)"/><rect x="-7.1" y="-1.0" width="14.2" height="1.9" rx="0.8" fill="#f0d81c" opacity="1" transform="translate(12.9,48.7) rotate(-30)"/><rect x="-4.3" y="-1.7" width="8.5" height="3.4" rx="0.8" fill="#f0d81c" opacity="1" transform="translate(2.1,56.3) rotate(30)"/><rect x="-5.0" y="-1.4" width="9.9" height="2.9" rx="0.8" fill="#f0d81c" opacity="1" transform="translate(3.0,65.7) rotate(80)"/><rect x="-7.8" y="-1.7" width="15.6" height="3.4" rx="0.8" fill="#f0d81c" opacity="1" transform="translate(-21.1,64.3) rotate(20)"/><rect x="-5.7" y="-1.4" width="11.3" height="2.9" rx="0.8" fill="#f0d81c" opacity="1" transform="translate(42.7,52.9) rotate(-50)"/><rect x="-4.3" y="-1.4" width="8.5" height="2.9" rx="0.8" fill="#f0d81c" opacity="1" transform="translate(69.6,54.4) rotate(-30)"/><rect x="-7.1" y="-1.7" width="14.2" height="3.4" rx="0.8" fill="#f0d81c" opacity="1" transform="translate(83.8,61.4) rotate(70)"/><rect x="-3.5" y="-1.2" width="7.1" height="2.4" rx="0.8" fill="#f0d81c" opacity="1" transform="translate(92.3,54.4) rotate(80)"/><rect x="-2.8" y="-1.2" width="5.7" height="2.4" rx="0.8" fill="#f0d81c" opacity="1" transform="translate(100.8,58.6) rotate(-20)"/><rect x="-4.3" y="-1.7" width="8.5" height="3.4" rx="0.8" fill="#f0d81c" opacity="1" transform="translate(110.8,65.7) rotate(80)"/><rect x="-5.0" y="-1.4" width="9.9" height="2.9" rx="0.8" fill="#f0d81c" opacity="1" transform="translate(64.8,72.2) rotate(80)"/><rect x="-5.7" y="-1.2" width="11.3" height="2.4" rx="0.8" fill="#f0d81c" opacity="1" transform="translate(85.2,84.1) rotate(85)"/><rect x="-4.3" y="-1.2" width="8.5" height="2.4" rx="0.8" fill="#f0d81c" opacity="1" transform="translate(93.8,98.3) rotate(15)"/><rect x="-6.4" y="-1.4" width="12.8" height="2.9" rx="0.8" fill="#f0d81c" opacity="1" transform="translate(37.0,79.9) rotate(-40)"/><rect x="-7.1" y="-1.2" width="14.2" height="2.4" rx="0.8" fill="#f0d81c" opacity="1" transform="translate(25.7,92.7) rotate(70)"/><rect x="-4.3" y="-1.4" width="8.5" height="2.9" rx="0.8" fill="#f0d81c" opacity="1" transform="translate(42.7,91.2) rotate(80)"/><rect x="-5.7" y="-1.0" width="11.3" height="1.9" rx="0.8" fill="#f0d81c" opacity="1" transform="translate(32.8,96.1) rotate(-20)"/><rect x="-4.3" y="-1.7" width="8.5" height="3.4" rx="0.8" fill="#f0d81c" opacity="1" transform="translate(50.4,104.0) rotate(60)"/><rect x="-8.5" y="-1.2" width="17.0" height="2.4" rx="0.8" fill="#f0d81c" opacity="1" transform="translate(66.8,105.4) rotate(80)"/><rect x="-3.5" y="-1.4" width="7.1" height="2.9" rx="0.8" fill="#f0d81c" opacity="1" transform="translate(-50.9,87.0) rotate(50)"/><rect x="-2.8" y="-1.7" width="5.7" height="3.4" rx="0.8" fill="#f0d81c" opacity="1" transform="translate(-59.4,105.4) rotate(80)"/><rect x="-4.3" y="-1.4" width="8.5" height="2.9" rx="0.8" fill="#f0d81c" opacity="1" transform="translate(-41.0,102.6) rotate(20)"/><rect x="-3.5" y="-1.4" width="7.1" height="2.9" rx="0.8" fill="#f0d81c" opacity="1" transform="translate(-28.2,104.6) rotate(10)"/><rect x="-5.0" y="-1.2" width="9.9" height="2.4" rx="0.8" fill="#f0d81c" opacity="1" transform="translate(-16.9,101.2) rotate(85)"/><rect x="-4.3" y="-1.4" width="8.5" height="2.9" rx="0.8" fill="#f0d81c" opacity="1" transform="translate(-1.3,102.6) rotate(85)"/><rect x="-3.5" y="-1.4" width="7.1" height="2.9" rx="0.8" fill="#f0d81c" opacity="1" transform="translate(12.9,105.4) rotate(80)"/><rect x="-3.5" y="-1.4" width="7.1" height="2.9" rx="0.8" fill="#f0d81c" opacity="1" transform="translate(-15.5,118.8) rotate(0)"/><rect x="-2.8" y="-1.4" width="5.7" height="2.9" rx="0.8" fill="#f0d81c" opacity="1" transform="translate(-4.1,119.6) rotate(80)"/><rect x="-3.5" y="-1.2" width="7.1" height="2.4" rx="0.8" fill="#f0d81c" opacity="1" transform="translate(19.1,116.8) rotate(80)"/><rect x="-6.4" y="-1.2" width="12.8" height="2.4" rx="0.8" fill="#f0d81c" opacity="1" transform="translate(-19.7,128.1) rotate(80)"/><rect x="-9.9" y="-1.7" width="19.9" height="3.4" rx="0.8" fill="#f0d81c" opacity="1" transform="translate(22.8,133.8) rotate(-55)"/><rect x="-8.5" y="-1.4" width="17.0" height="2.9" rx="0.8" fill="#f0d81c" opacity="1" transform="translate(10.1,149.4) rotate(-60)"/><rect x="-4.3" y="-1.2" width="8.5" height="2.4" rx="0.8" fill="#f0d81c" opacity="1" transform="translate(-7.0,140.9) rotate(85)"/><rect x="-3.5" y="-1.7" width="7.1" height="3.4" rx="0.8" fill="#f0d81c" opacity="1" transform="translate(18.6,143.7) rotate(-10)"/><rect x="-7.1" y="-1.0" width="14.2" height="1.9" rx="0.8" fill="#f0d81c" opacity="1" transform="translate(48.4,123.9) rotate(5)"/><rect x="-5.7" y="-1.0" width="11.3" height="1.9" rx="0.8" fill="#f0d81c" opacity="1" transform="translate(39.9,131.0) rotate(85)"/><rect x="-4.3" y="-1.0" width="8.5" height="1.9" rx="0.8" fill="#f0d81c" opacity="1" transform="translate(55.5,129.5) rotate(80)"/><rect x="-4.3" y="-1.2" width="8.5" height="2.4" rx="0.8" fill="#f0d81c" opacity="1" transform="translate(69.6,135.2) rotate(80)"/><rect x="-5.7" y="-1.4" width="11.3" height="2.9" rx="0.8" fill="#f0d81c" opacity="1" transform="translate(46.9,145.1) rotate(75)"/><rect x="-4.3" y="-1.7" width="8.5" height="3.4" rx="0.8" fill="#f0d81c" opacity="1" transform="translate(55.5,159.3) rotate(-10)"/><rect x="-3.5" y="-1.2" width="7.1" height="2.4" rx="0.8" fill="#f0d81c" opacity="1" transform="translate(48.4,172.1) rotate(80)"/><rect x="-2.1" y="-0.8" width="4.3" height="1.7" rx="0.6" fill="#f4c018" transform="translate(-6.4,17.5) rotate(60)"/><rect x="-1.6" y="-0.6" width="3.1" height="1.2" rx="0.6" fill="#e07a1a" transform="translate(1.0,26.8) rotate(20)"/><rect x="-2.1" y="-0.8" width="4.3" height="1.7" rx="0.6" fill="#e07a1a" transform="translate(2.1,56.3) rotate(30)"/><rect x="-3.9" y="-0.8" width="7.8" height="1.7" rx="0.6" fill="#f4c018" transform="translate(-21.1,64.3) rotate(20)"/><rect x="-3.5" y="-0.8" width="7.1" height="1.7" rx="0.6" fill="#e07a1a" transform="translate(83.8,61.4) rotate(70)"/><rect x="-2.1" y="-0.7" width="4.3" height="1.4" rx="0.6" fill="#e07a1a" transform="translate(42.7,91.2) rotate(80)"/><rect x="-2.1" y="-0.8" width="4.3" height="1.7" rx="0.6" fill="#f4c018" transform="translate(50.4,104.0) rotate(60)"/><rect x="-1.8" y="-0.7" width="3.5" height="1.4" rx="0.6" fill="#f4c018" transform="translate(-50.9,87.0) rotate(50)"/><rect x="-1.4" y="-0.8" width="2.8" height="1.7" rx="0.6" fill="#f4c018" transform="translate(-59.4,105.4) rotate(80)"/><rect x="-2.1" y="-0.7" width="4.3" height="1.4" rx="0.6" fill="#f4c018" transform="translate(-41.0,102.6) rotate(20)"/><rect x="-1.8" y="-0.7" width="3.5" height="1.4" rx="0.6" fill="#e07a1a" transform="translate(-15.5,118.8) rotate(0)"/><rect x="-5.0" y="-0.8" width="9.9" height="1.7" rx="0.6" fill="#f4c018" transform="translate(22.8,133.8) rotate(-55)"/><rect x="-1.8" y="-0.8" width="3.5" height="1.7" rx="0.6" fill="#e07a1a" transform="translate(18.6,143.7) rotate(-10)"/><rect x="-2.8" y="-0.7" width="5.7" height="1.4" rx="0.6" fill="#f4c018" transform="translate(46.9,145.1) rotate(75)"/><rect x="-2.1" y="-0.8" width="4.3" height="1.7" rx="0.6" fill="#e07a1a" transform="translate(55.5,159.3) rotate(-10)"/><rect x="-1.8" y="-0.6" width="3.5" height="1.2" rx="0.6" fill="#f4c018" transform="translate(48.4,172.1) rotate(80)"/></g></g>
<g filter="url(#blur05)"><rect x="-1.3" y="-1.1" width="2.5" height="2.2" fill="#e6e61e" opacity="0.76" transform="translate(-8.5,115.8) rotate(-61)"/><rect x="-1.0" y="-0.9" width="2.1" height="1.8" fill="#e6e61e" opacity="0.88" transform="translate(-49.9,111.1) rotate(22)"/><rect x="-1.2" y="-0.8" width="2.3" height="1.5" fill="#e6e61e" opacity="0.71" transform="translate(78.8,88.7) rotate(25)"/><rect x="-0.6" y="-1.1" width="1.2" height="2.2" fill="#e6e61e" opacity="0.84" transform="translate(19.7,126.4) rotate(32)"/><rect x="-1.2" y="-0.9" width="2.3" height="1.8" fill="#e6e61e" opacity="0.86" transform="translate(-33.7,127.2) rotate(32)"/><rect x="-0.7" y="-0.8" width="1.4" height="1.7" fill="#e6e61e" opacity="0.64" transform="translate(71.2,43.6) rotate(-67)"/><rect x="-1.5" y="-1.0" width="2.9" height="2.0" fill="#e6e61e" opacity="0.64" transform="translate(82.5,101.8) rotate(31)"/><rect x="-0.9" y="-1.1" width="1.8" height="2.1" fill="#e6e61e" opacity="0.65" transform="translate(45.3,37.0) rotate(-61)"/><rect x="-1.0" y="-0.7" width="2.0" height="1.4" fill="#e6e61e" opacity="0.71" transform="translate(-23.2,74.7) rotate(-54)"/><rect x="-0.9" y="-0.7" width="1.8" height="1.5" fill="#e6e61e" opacity="0.80" transform="translate(-29.2,74.6) rotate(21)"/><rect x="-1.0" y="-1.0" width="2.0" height="2.1" fill="#e6e61e" opacity="0.66" transform="translate(81.3,48.0) rotate(-61)"/><rect x="-1.0" y="-0.9" width="2.1" height="1.9" fill="#e6e61e" opacity="0.90" transform="translate(-5.9,50.7) rotate(-62)"/><rect x="-0.7" y="-1.0" width="1.3" height="2.0" fill="#e6e61e" opacity="0.55" transform="translate(-12.0,117.6) rotate(31)"/><rect x="-1.1" y="-1.0" width="2.2" height="2.0" fill="#e6e61e" opacity="0.68" transform="translate(-9.3,121.2) rotate(-55)"/><rect x="-1.1" y="-1.0" width="2.2" height="2.1" fill="#e6e61e" opacity="0.82" transform="translate(-4.0,93.9) rotate(-55)"/><rect x="-1.1" y="-0.8" width="2.3" height="1.6" fill="#e6e61e" opacity="0.76" transform="translate(-21.1,58.4) rotate(35)"/><rect x="-0.7" y="-1.1" width="1.5" height="2.2" fill="#e6e61e" opacity="0.86" transform="translate(57.4,36.1) rotate(33)"/><rect x="-0.8" y="-0.7" width="1.6" height="1.4" fill="#e6e61e" opacity="0.82" transform="translate(0.3,102.1) rotate(26)"/><rect x="-1.3" y="-0.8" width="2.6" height="1.5" fill="#e6e61e" opacity="0.88" transform="translate(14.2,58.1) rotate(32)"/><rect x="-1.6" y="-0.8" width="3.1" height="1.7" fill="#e6e61e" opacity="0.71" transform="translate(80.8,90.4) rotate(21)"/><rect x="-0.8" y="-0.6" width="1.6" height="1.3" fill="#e6e61e" opacity="0.75" transform="translate(-0.4,132.6) rotate(25)"/><rect x="-1.5" y="-0.9" width="3.0" height="1.9" fill="#e6e61e" opacity="0.55" transform="translate(-9.0,88.3) rotate(36)"/><rect x="-1.1" y="-0.9" width="2.2" height="1.8" fill="#e6e61e" opacity="0.64" transform="translate(-2.7,99.8) rotate(20)"/><rect x="-0.7" y="-1.0" width="1.4" height="2.1" fill="#e6e61e" opacity="0.85" transform="translate(1.9,75.5) rotate(-66)"/><rect x="-1.4" y="-0.9" width="2.9" height="1.8" fill="#e6e61e" opacity="0.75" transform="translate(102.3,80.7) rotate(-57)"/><rect x="-0.7" y="-1.1" width="1.3" height="2.2" fill="#e6e61e" opacity="0.60" transform="translate(-32.1,55.9) rotate(36)"/><rect x="-1.5" y="-1.0" width="3.1" height="2.1" fill="#e6e61e" opacity="0.73" transform="translate(38.5,46.3) rotate(35)"/><rect x="-1.4" y="-0.8" width="2.8" height="1.7" fill="#e6e61e" opacity="0.89" transform="translate(18.0,111.2) rotate(22)"/><rect x="-1.5" y="-0.7" width="2.9" height="1.4" fill="#e6e61e" opacity="0.85" transform="translate(29.0,30.6) rotate(-65)"/><rect x="-1.3" y="-1.1" width="2.6" height="2.1" fill="#e6e61e" opacity="0.64" transform="translate(58.0,72.9) rotate(21)"/><rect x="-0.7" y="-1.0" width="1.4" height="2.0" fill="#e6e61e" opacity="0.83" transform="translate(-16.6,91.9) rotate(-69)"/><rect x="-1.6" y="-0.6" width="3.2" height="1.2" fill="#e6e61e" opacity="0.74" transform="translate(60.0,92.6) rotate(31)"/><rect x="-1.4" y="-0.7" width="2.7" height="1.4" fill="#e6e61e" opacity="0.76" transform="translate(9.3,115.0) rotate(-61)"/><rect x="-1.1" y="-0.7" width="2.2" height="1.4" fill="#e6e61e" opacity="0.63" transform="translate(34.7,156.7) rotate(-60)"/><rect x="-0.7" y="-1.1" width="1.3" height="2.2" fill="#e6e61e" opacity="0.63" transform="translate(5.5,48.8) rotate(-60)"/><rect x="-1.5" y="-1.1" width="3.0" height="2.1" fill="#e6e61e" opacity="0.89" transform="translate(-17.4,29.2) rotate(-58)"/><rect x="-0.9" y="-0.9" width="1.8" height="1.9" fill="#e6e61e" opacity="0.66" transform="translate(51.8,93.4) rotate(-70)"/><rect x="-0.7" y="-0.7" width="1.4" height="1.5" fill="#e6e61e" opacity="0.75" transform="translate(-57.4,104.5) rotate(24)"/><rect x="-1.1" y="-0.9" width="2.1" height="1.9" fill="#e6e61e" opacity="0.68" transform="translate(15.0,158.1) rotate(29)"/><rect x="-0.8" y="-1.1" width="1.6" height="2.1" fill="#e6e61e" opacity="0.86" transform="translate(17.0,13.5) rotate(-56)"/><rect x="-0.8" y="-0.6" width="1.6" height="1.2" fill="#a4e624" opacity="0.61" transform="translate(77.1,122.3) rotate(-62)"/><rect x="-1.3" y="-1.0" width="2.7" height="2.0" fill="#a4e624" opacity="0.65" transform="translate(5.7,119.7) rotate(-58)"/><rect x="-1.2" y="-1.1" width="2.5" height="2.3" fill="#a4e624" opacity="0.78" transform="translate(35.3,106.6) rotate(31)"/><rect x="-1.7" y="-0.9" width="3.4" height="1.7" fill="#a4e624" opacity="0.72" transform="translate(-15.4,121.5) rotate(-61)"/><rect x="-0.8" y="-0.8" width="1.7" height="1.6" fill="#a4e624" opacity="0.56" transform="translate(24.7,34.2) rotate(32)"/><rect x="-0.9" y="-0.6" width="1.8" height="1.2" fill="#a4e624" opacity="0.49" transform="translate(-32.2,124.9) rotate(-60)"/><rect x="-1.4" y="-0.7" width="2.9" height="1.4" fill="#a4e624" opacity="0.50" transform="translate(73.6,99.8) rotate(28)"/><rect x="-0.9" y="-0.7" width="1.8" height="1.4" fill="#a4e624" opacity="0.68" transform="translate(-40.1,122.0) rotate(32)"/><rect x="-1.7" y="-0.6" width="3.4" height="1.3" fill="#a4e624" opacity="0.78" transform="translate(-17.0,63.8) rotate(24)"/><rect x="-1.0" y="-1.0" width="1.9" height="2.1" fill="#a4e624" opacity="0.57" transform="translate(-62.9,112.1) rotate(-65)"/><rect x="-1.0" y="-1.0" width="1.9" height="2.1" fill="#a4e624" opacity="0.63" transform="translate(91.3,58.4) rotate(24)"/><rect x="-0.9" y="-0.8" width="1.7" height="1.7" fill="#a4e624" opacity="0.66" transform="translate(68.1,103.5) rotate(-61)"/><rect x="-1.6" y="-1.2" width="3.2" height="2.3" fill="#a4e624" opacity="0.59" transform="translate(6.9,109.7) rotate(-66)"/><rect x="-1.1" y="-0.7" width="2.3" height="1.3" fill="#a4e624" opacity="0.70" transform="translate(74.0,111.2) rotate(-64)"/><rect x="-1.1" y="-1.1" width="2.2" height="2.3" fill="#a4e624" opacity="0.65" transform="translate(75.9,59.0) rotate(21)"/><rect x="-1.1" y="-1.1" width="2.2" height="2.1" fill="#a4e624" opacity="0.66" transform="translate(28.4,33.9) rotate(24)"/><rect x="-1.4" y="-1.2" width="2.8" height="2.3" fill="#a4e624" opacity="0.64" transform="translate(-32.6,103.4) rotate(34)"/><rect x="-1.3" y="-1.0" width="2.6" height="2.0" fill="#a4e624" opacity="0.60" transform="translate(-12.2,66.9) rotate(-65)"/><rect x="-1.1" y="-1.2" width="2.3" height="2.4" fill="#a4e624" opacity="0.54" transform="translate(-49.6,80.3) rotate(-64)"/><rect x="-1.4" y="-1.0" width="2.9" height="2.0" fill="#a4e624" opacity="0.71" transform="translate(6.2,64.0) rotate(34)"/><rect x="-1.5" y="-0.9" width="3.0" height="1.8" fill="#a4e624" opacity="0.56" transform="translate(53.6,101.0) rotate(-64)"/><rect x="-1.0" y="-1.0" width="2.0" height="2.0" fill="#a4e624" opacity="0.79" transform="translate(-14.3,75.7) rotate(-58)"/><rect x="-1.7" y="-1.0" width="3.4" height="2.1" fill="#a4e624" opacity="0.75" transform="translate(52.2,142.0) rotate(-55)"/><rect x="-1.2" y="-0.7" width="2.5" height="1.5" fill="#a4e624" opacity="0.70" transform="translate(-54.2,105.2) rotate(-65)"/><rect x="-1.3" y="-0.8" width="2.7" height="1.7" fill="#a4e624" opacity="0.78" transform="translate(-17.3,93.0) rotate(31)"/><rect x="-1.5" y="-0.6" width="3.0" height="1.3" fill="#a4e624" opacity="0.70" transform="translate(35.1,47.4) rotate(-66)"/><rect x="-1.3" y="-0.6" width="2.7" height="1.3" fill="#a4e624" opacity="0.58" transform="translate(-51.1,117.3) rotate(28)"/><rect x="-1.4" y="-0.8" width="2.7" height="1.6" fill="#a4e624" opacity="0.58" transform="translate(3.1,39.7) rotate(29)"/><rect x="-1.4" y="-0.9" width="2.7" height="1.7" fill="#a4e624" opacity="0.58" transform="translate(7.7,23.7) rotate(-69)"/><rect x="-1.2" y="-0.8" width="2.5" height="1.6" fill="#a4e624" opacity="0.58" transform="translate(-5.9,125.1) rotate(-60)"/><rect x="-1.7" y="-1.0" width="3.4" height="2.1" fill="#a4e624" opacity="0.69" transform="translate(38.1,113.1) rotate(31)"/><rect x="-0.9" y="-0.7" width="1.8" height="1.4" fill="#a4e624" opacity="0.65" transform="translate(91.5,74.7) rotate(-65)"/><rect x="-1.5" y="-0.9" width="3.0" height="1.8" fill="#a4e624" opacity="0.69" transform="translate(-18.0,94.8) rotate(-59)"/><rect x="-1.3" y="-0.6" width="2.5" height="1.3" fill="#a4e624" opacity="0.57" transform="translate(23.0,62.4) rotate(28)"/><rect x="-1.5" y="-1.2" width="2.9" height="2.3" fill="#a4e624" opacity="0.67" transform="translate(10.6,69.1) rotate(-65)"/><rect x="-1.6" y="-0.7" width="3.2" height="1.4" fill="#a4e624" opacity="0.77" transform="translate(-14.0,48.0) rotate(-67)"/><rect x="-1.2" y="-1.2" width="2.3" height="2.3" fill="#a4e624" opacity="0.79" transform="translate(47.8,113.0) rotate(-56)"/><rect x="-0.8" y="-1.1" width="1.5" height="2.2" fill="#a4e624" opacity="0.63" transform="translate(-50.4,111.1) rotate(-56)"/><rect x="-1.1" y="-0.8" width="2.3" height="1.6" fill="#a4e624" opacity="0.67" transform="translate(55.9,88.5) rotate(21)"/><rect x="-1.1" y="-0.7" width="2.1" height="1.5" fill="#a4e624" opacity="0.75" transform="translate(12.3,66.7) rotate(-70)"/></g>
<rect x="-100" y="-100" width="310" height="310" transform="rotate(28)" filter="url(#spLightG)" opacity="0.55"/>
<line x1="-59.3" y1="96.4" x2="56" y2="165.5" stroke="#e8284a" stroke-width="2.1"/>
</g>
<line x1="56" y1="165.5" x2="134.9" y2="142.4" stroke="#e82a40" stroke-width="1.1"/>
<polygon points="143.5,139.9 135.6,145.1 134.1,139.7" fill="#e82a40"/>
</g>
<g transform="translate(76.2,457.2)">
<g clip-path="url(#tp)">
<rect x="-100" y="-100" width="310" height="310" transform="rotate(28)" filter="url(#texC)"/>
<line x1="-27.6" y1="35.4" x2="-2.0" y2="46.9" stroke="#5ad226" stroke-width="0.55" opacity="0.49"/><line x1="15.4" y1="102.9" x2="60.1" y2="124.3" stroke="#5ad226" stroke-width="0.55" opacity="0.46"/><line x1="-28.1" y1="84.0" x2="-18.0" y2="62.0" stroke="#5ad226" stroke-width="0.55" opacity="0.57"/><line x1="96.9" y1="55.8" x2="121.0" y2="64.6" stroke="#5ad226" stroke-width="0.55" opacity="0.31"/><line x1="20.1" y1="112.4" x2="66.0" y2="134.0" stroke="#5ad226" stroke-width="0.55" opacity="0.52"/><line x1="60.0" y1="81.3" x2="41.1" y2="123.4" stroke="#5ad226" stroke-width="0.55" opacity="0.49"/><line x1="21.0" y1="41.8" x2="35.6" y2="16.9" stroke="#5ad226" stroke-width="0.55" opacity="0.45"/><line x1="34.9" y1="41.1" x2="50.6" y2="13.5" stroke="#5ad226" stroke-width="0.55" opacity="0.59"/><line x1="-22.3" y1="36.3" x2="-32.4" y2="59.1" stroke="#5ad226" stroke-width="0.55" opacity="0.25"/><line x1="22.0" y1="107.7" x2="48.3" y2="119.1" stroke="#5ad226" stroke-width="0.55" opacity="0.32"/><line x1="9.8" y1="136.5" x2="22.1" y2="112.8" stroke="#5ad226" stroke-width="0.55" opacity="0.54"/><line x1="84.8" y1="76.2" x2="105.2" y2="47.1" stroke="#5ad226" stroke-width="0.55" opacity="0.52"/><line x1="104.0" y1="79.9" x2="118.0" y2="49.8" stroke="#5ad226" stroke-width="0.55" opacity="0.26"/><line x1="25.5" y1="146.6" x2="42.3" y2="122.7" stroke="#5ad226" stroke-width="0.55" opacity="0.53"/><line x1="-39.6" y1="125.0" x2="5.4" y2="140.8" stroke="#5ad226" stroke-width="0.55" opacity="0.29"/><line x1="-33.5" y1="141.6" x2="-10.6" y2="101.5" stroke="#5ad226" stroke-width="0.55" opacity="0.57"/><line x1="2.8" y1="123.3" x2="35.2" y2="137.5" stroke="#5ad226" stroke-width="0.55" opacity="0.59"/><line x1="-8.1" y1="112.5" x2="-23.2" y2="155.1" stroke="#5ad226" stroke-width="0.55" opacity="0.33"/><line x1="63.7" y1="148.7" x2="78.0" y2="128.3" stroke="#5ad226" stroke-width="0.55" opacity="0.31"/><line x1="43.0" y1="77.5" x2="28.2" y2="113.7" stroke="#5ad226" stroke-width="0.55" opacity="0.44"/><line x1="18.9" y1="35.0" x2="50.2" y2="51.9" stroke="#5ad226" stroke-width="0.55" opacity="0.30"/><line x1="-42.2" y1="81.9" x2="-18.7" y2="39.1" stroke="#5ad226" stroke-width="0.55" opacity="0.44"/><line x1="-29.4" y1="80.9" x2="-13.0" y2="55.9" stroke="#5ad226" stroke-width="0.55" opacity="0.31"/><line x1="-17.0" y1="109.1" x2="10.5" y2="121.1" stroke="#5ad226" stroke-width="0.55" opacity="0.29"/><line x1="-41.4" y1="110.6" x2="-22.6" y2="67.1" stroke="#5ad226" stroke-width="0.55" opacity="0.34"/><line x1="-6.5" y1="119.1" x2="8.3" y2="125.2" stroke="#5ad226" stroke-width="0.55" opacity="0.33"/><line x1="-13.3" y1="116.4" x2="32.0" y2="135.7" stroke="#5ad226" stroke-width="0.55" opacity="0.45"/><line x1="102.3" y1="74.1" x2="114.9" y2="51.8" stroke="#5ad226" stroke-width="0.55" opacity="0.55"/><line x1="-6.4" y1="83.3" x2="-19.2" y2="110.8" stroke="#5ad226" stroke-width="0.55" opacity="0.44"/><line x1="18.0" y1="109.8" x2="7.6" y2="137.8" stroke="#5ad226" stroke-width="0.55" opacity="0.27"/><line x1="36.9" y1="80.8" x2="51.1" y2="86.4" stroke="#5ad226" stroke-width="0.55" opacity="0.29"/><line x1="17.3" y1="76.2" x2="53.1" y2="88.7" stroke="#5ad226" stroke-width="0.55" opacity="0.53"/><line x1="-16.8" y1="89.9" x2="11.1" y2="43.4" stroke="#5ad226" stroke-width="0.55" opacity="0.32"/><line x1="78.9" y1="83.3" x2="118.6" y2="96.3" stroke="#5ad226" stroke-width="0.55" opacity="0.51"/>
<line x1="-45.2" y1="75.6" x2="83.8" y2="119.6" stroke="#5ad226" stroke-width="0.95" opacity="0.95"/>
<line x1="12.9" y1="89.8" x2="75.3" y2="43.0" stroke="#5ad226" stroke-width="0.7" opacity="0.7"/>
<line x1="-29.6" y1="38.8" x2="21.4" y2="129.5" stroke="#5ad226" stroke-width="0.5" opacity="0.4"/>
<g filter="url(#blur1)" opacity="0.6"><rect x="-5.4" y="-2.8" width="10.7" height="5.6" rx="1.5" fill="#56d01e" transform="translate(-6.4,17.5) rotate(60)"/><rect x="-4.2" y="-2.3" width="8.4" height="4.6" rx="1.5" fill="#56d01e" transform="translate(1.0,26.8) rotate(20)"/><rect x="-5.4" y="-2.5" width="10.7" height="5.1" rx="1.5" fill="#56d01e" transform="translate(17.2,15.5) rotate(-55)"/><rect x="-3.9" y="-2.3" width="7.9" height="4.6" rx="1.5" fill="#56d01e" transform="translate(15.2,29.7) rotate(60)"/><rect x="-7.5" y="-2.5" width="15.0" height="5.1" rx="1.5" fill="#56d01e" transform="translate(37.0,31.7) rotate(80)"/><rect x="-6.8" y="-2.5" width="13.5" height="5.1" rx="1.5" fill="#56d01e" transform="translate(58.3,40.2) rotate(80)"/><rect x="-6.1" y="-2.3" width="12.1" height="4.6" rx="1.5" fill="#56d01e" transform="translate(-15.5,41.0) rotate(20)"/><rect x="-6.8" y="-2.3" width="13.5" height="4.6" rx="1.5" fill="#56d01e" transform="translate(-5.5,47.3) rotate(70)"/><rect x="-8.2" y="-2.1" width="16.4" height="4.1" rx="1.5" fill="#56d01e" transform="translate(12.9,48.7) rotate(-30)"/><rect x="-5.4" y="-2.8" width="10.7" height="5.6" rx="1.5" fill="#56d01e" transform="translate(2.1,56.3) rotate(30)"/><rect x="-6.1" y="-2.5" width="12.1" height="5.1" rx="1.5" fill="#56d01e" transform="translate(3.0,65.7) rotate(80)"/><rect x="-8.9" y="-2.8" width="17.8" height="5.6" rx="1.5" fill="#56d01e" transform="translate(-21.1,64.3) rotate(20)"/><rect x="-6.8" y="-2.5" width="13.5" height="5.1" rx="1.5" fill="#56d01e" transform="translate(42.7,52.9) rotate(-50)"/><rect x="-5.4" y="-2.5" width="10.7" height="5.1" rx="1.5" fill="#56d01e" transform="translate(69.6,54.4) rotate(-30)"/><rect x="-8.2" y="-2.8" width="16.4" height="5.6" rx="1.5" fill="#56d01e" transform="translate(83.8,61.4) rotate(70)"/><rect x="-4.6" y="-2.3" width="9.3" height="4.6" rx="1.5" fill="#56d01e" transform="translate(92.3,54.4) rotate(80)"/><rect x="-3.9" y="-2.3" width="7.9" height="4.6" rx="1.5" fill="#56d01e" transform="translate(100.8,58.6) rotate(-20)"/><rect x="-5.4" y="-2.8" width="10.7" height="5.6" rx="1.5" fill="#56d01e" transform="translate(110.8,65.7) rotate(80)"/><rect x="-6.1" y="-2.5" width="12.1" height="5.1" rx="1.5" fill="#56d01e" transform="translate(64.8,72.2) rotate(80)"/><rect x="-6.8" y="-2.3" width="13.5" height="4.6" rx="1.5" fill="#56d01e" transform="translate(85.2,84.1) rotate(85)"/><rect x="-5.4" y="-2.3" width="10.7" height="4.6" rx="1.5" fill="#56d01e" transform="translate(93.8,98.3) rotate(15)"/><rect x="-7.5" y="-2.5" width="15.0" height="5.1" rx="1.5" fill="#56d01e" transform="translate(37.0,79.9) rotate(-40)"/><rect x="-8.2" y="-2.3" width="16.4" height="4.6" rx="1.5" fill="#56d01e" transform="translate(25.7,92.7) rotate(70)"/><rect x="-5.4" y="-2.5" width="10.7" height="5.1" rx="1.5" fill="#56d01e" transform="translate(42.7,91.2) rotate(80)"/><rect x="-6.8" y="-2.1" width="13.5" height="4.1" rx="1.5" fill="#56d01e" transform="translate(32.8,96.1) rotate(-20)"/><rect x="-5.4" y="-2.8" width="10.7" height="5.6" rx="1.5" fill="#56d01e" transform="translate(50.4,104.0) rotate(60)"/><rect x="-9.6" y="-2.3" width="19.2" height="4.6" rx="1.5" fill="#56d01e" transform="translate(66.8,105.4) rotate(80)"/><rect x="-4.6" y="-2.5" width="9.3" height="5.1" rx="1.5" fill="#56d01e" transform="translate(-50.9,87.0) rotate(50)"/><rect x="-3.9" y="-2.8" width="7.9" height="5.6" rx="1.5" fill="#56d01e" transform="translate(-59.4,105.4) rotate(80)"/><rect x="-5.4" y="-2.5" width="10.7" height="5.1" rx="1.5" fill="#56d01e" transform="translate(-41.0,102.6) rotate(20)"/><rect x="-4.6" y="-2.5" width="9.3" height="5.1" rx="1.5" fill="#56d01e" transform="translate(-28.2,104.6) rotate(10)"/><rect x="-6.1" y="-2.3" width="12.1" height="4.6" rx="1.5" fill="#56d01e" transform="translate(-16.9,101.2) rotate(85)"/><rect x="-5.4" y="-2.5" width="10.7" height="5.1" rx="1.5" fill="#56d01e" transform="translate(-1.3,102.6) rotate(85)"/><rect x="-4.6" y="-2.5" width="9.3" height="5.1" rx="1.5" fill="#56d01e" transform="translate(12.9,105.4) rotate(80)"/><rect x="-4.6" y="-2.5" width="9.3" height="5.1" rx="1.5" fill="#56d01e" transform="translate(-15.5,118.8) rotate(0)"/><rect x="-3.9" y="-2.5" width="7.9" height="5.1" rx="1.5" fill="#56d01e" transform="translate(-4.1,119.6) rotate(80)"/><rect x="-4.6" y="-2.3" width="9.3" height="4.6" rx="1.5" fill="#56d01e" transform="translate(19.1,116.8) rotate(80)"/><rect x="-7.5" y="-2.3" width="15.0" height="4.6" rx="1.5" fill="#56d01e" transform="translate(-19.7,128.1) rotate(80)"/><rect x="-11.0" y="-2.8" width="22.1" height="5.6" rx="1.5" fill="#56d01e" transform="translate(22.8,133.8) rotate(-55)"/><rect x="-9.6" y="-2.5" width="19.2" height="5.1" rx="1.5" fill="#56d01e" transform="translate(10.1,149.4) rotate(-60)"/><rect x="-5.4" y="-2.3" width="10.7" height="4.6" rx="1.5" fill="#56d01e" transform="translate(-7.0,140.9) rotate(85)"/><rect x="-4.6" y="-2.8" width="9.3" height="5.6" rx="1.5" fill="#56d01e" transform="translate(18.6,143.7) rotate(-10)"/><rect x="-8.2" y="-2.1" width="16.4" height="4.1" rx="1.5" fill="#56d01e" transform="translate(48.4,123.9) rotate(5)"/><rect x="-6.8" y="-2.1" width="13.5" height="4.1" rx="1.5" fill="#56d01e" transform="translate(39.9,131.0) rotate(85)"/><rect x="-5.4" y="-2.1" width="10.7" height="4.1" rx="1.5" fill="#56d01e" transform="translate(55.5,129.5) rotate(80)"/><rect x="-5.4" y="-2.3" width="10.7" height="4.6" rx="1.5" fill="#56d01e" transform="translate(69.6,135.2) rotate(80)"/><rect x="-6.8" y="-2.5" width="13.5" height="5.1" rx="1.5" fill="#56d01e" transform="translate(46.9,145.1) rotate(75)"/><rect x="-5.4" y="-2.8" width="10.7" height="5.6" rx="1.5" fill="#56d01e" transform="translate(55.5,159.3) rotate(-10)"/><rect x="-4.6" y="-2.3" width="9.3" height="4.6" rx="1.5" fill="#56d01e" transform="translate(48.4,172.1) rotate(80)"/></g><g filter="url(#blur04)"><g filter="url(#rough)"><rect x="-4.3" y="-1.7" width="8.5" height="3.4" rx="0.8" fill="#eae21c" opacity="1" transform="translate(-6.4,17.5) rotate(60)"/><rect x="-3.1" y="-1.2" width="6.2" height="2.4" rx="0.8" fill="#eae21c" opacity="1" transform="translate(1.0,26.8) rotate(20)"/><rect x="-4.3" y="-1.4" width="8.5" height="2.9" rx="0.8" fill="#eae21c" opacity="1" transform="translate(17.2,15.5) rotate(-55)"/><rect x="-2.8" y="-1.2" width="5.7" height="2.4" rx="0.8" fill="#eae21c" opacity="1" transform="translate(15.2,29.7) rotate(60)"/><rect x="-6.4" y="-1.4" width="12.8" height="2.9" rx="0.8" fill="#eae21c" opacity="1" transform="translate(37.0,31.7) rotate(80)"/><rect x="-5.7" y="-1.4" width="11.3" height="2.9" rx="0.8" fill="#eae21c" opacity="1" transform="translate(58.3,40.2) rotate(80)"/><rect x="-5.0" y="-1.2" width="9.9" height="2.4" rx="0.8" fill="#eae21c" opacity="1" transform="translate(-15.5,41.0) rotate(20)"/><rect x="-5.7" y="-1.2" width="11.3" height="2.4" rx="0.8" fill="#eae21c" opacity="1" transform="translate(-5.5,47.3) rotate(70)"/><rect x="-7.1" y="-1.0" width="14.2" height="1.9" rx="0.8" fill="#eae21c" opacity="1" transform="translate(12.9,48.7) rotate(-30)"/><rect x="-4.3" y="-1.7" width="8.5" height="3.4" rx="0.8" fill="#eae21c" opacity="1" transform="translate(2.1,56.3) rotate(30)"/><rect x="-5.0" y="-1.4" width="9.9" height="2.9" rx="0.8" fill="#eae21c" opacity="1" transform="translate(3.0,65.7) rotate(80)"/><rect x="-7.8" y="-1.7" width="15.6" height="3.4" rx="0.8" fill="#eae21c" opacity="1" transform="translate(-21.1,64.3) rotate(20)"/><rect x="-5.7" y="-1.4" width="11.3" height="2.9" rx="0.8" fill="#eae21c" opacity="1" transform="translate(42.7,52.9) rotate(-50)"/><rect x="-4.3" y="-1.4" width="8.5" height="2.9" rx="0.8" fill="#eae21c" opacity="1" transform="translate(69.6,54.4) rotate(-30)"/><rect x="-7.1" y="-1.7" width="14.2" height="3.4" rx="0.8" fill="#eae21c" opacity="1" transform="translate(83.8,61.4) rotate(70)"/><rect x="-3.5" y="-1.2" width="7.1" height="2.4" rx="0.8" fill="#eae21c" opacity="1" transform="translate(92.3,54.4) rotate(80)"/><rect x="-2.8" y="-1.2" width="5.7" height="2.4" rx="0.8" fill="#eae21c" opacity="1" transform="translate(100.8,58.6) rotate(-20)"/><rect x="-4.3" y="-1.7" width="8.5" height="3.4" rx="0.8" fill="#eae21c" opacity="1" transform="translate(110.8,65.7) rotate(80)"/><rect x="-5.0" y="-1.4" width="9.9" height="2.9" rx="0.8" fill="#eae21c" opacity="1" transform="translate(64.8,72.2) rotate(80)"/><rect x="-5.7" y="-1.2" width="11.3" height="2.4" rx="0.8" fill="#eae21c" opacity="1" transform="translate(85.2,84.1) rotate(85)"/><rect x="-4.3" y="-1.2" width="8.5" height="2.4" rx="0.8" fill="#eae21c" opacity="1" transform="translate(93.8,98.3) rotate(15)"/><rect x="-6.4" y="-1.4" width="12.8" height="2.9" rx="0.8" fill="#eae21c" opacity="1" transform="translate(37.0,79.9) rotate(-40)"/><rect x="-7.1" y="-1.2" width="14.2" height="2.4" rx="0.8" fill="#eae21c" opacity="1" transform="translate(25.7,92.7) rotate(70)"/><rect x="-4.3" y="-1.4" width="8.5" height="2.9" rx="0.8" fill="#eae21c" opacity="1" transform="translate(42.7,91.2) rotate(80)"/><rect x="-5.7" y="-1.0" width="11.3" height="1.9" rx="0.8" fill="#eae21c" opacity="1" transform="translate(32.8,96.1) rotate(-20)"/><rect x="-4.3" y="-1.7" width="8.5" height="3.4" rx="0.8" fill="#eae21c" opacity="1" transform="translate(50.4,104.0) rotate(60)"/><rect x="-8.5" y="-1.2" width="17.0" height="2.4" rx="0.8" fill="#eae21c" opacity="1" transform="translate(66.8,105.4) rotate(80)"/><rect x="-3.5" y="-1.4" width="7.1" height="2.9" rx="0.8" fill="#eae21c" opacity="1" transform="translate(-50.9,87.0) rotate(50)"/><rect x="-2.8" y="-1.7" width="5.7" height="3.4" rx="0.8" fill="#eae21c" opacity="1" transform="translate(-59.4,105.4) rotate(80)"/><rect x="-4.3" y="-1.4" width="8.5" height="2.9" rx="0.8" fill="#eae21c" opacity="1" transform="translate(-41.0,102.6) rotate(20)"/><rect x="-3.5" y="-1.4" width="7.1" height="2.9" rx="0.8" fill="#eae21c" opacity="1" transform="translate(-28.2,104.6) rotate(10)"/><rect x="-5.0" y="-1.2" width="9.9" height="2.4" rx="0.8" fill="#eae21c" opacity="1" transform="translate(-16.9,101.2) rotate(85)"/><rect x="-4.3" y="-1.4" width="8.5" height="2.9" rx="0.8" fill="#eae21c" opacity="1" transform="translate(-1.3,102.6) rotate(85)"/><rect x="-3.5" y="-1.4" width="7.1" height="2.9" rx="0.8" fill="#eae21c" opacity="1" transform="translate(12.9,105.4) rotate(80)"/><rect x="-3.5" y="-1.4" width="7.1" height="2.9" rx="0.8" fill="#eae21c" opacity="1" transform="translate(-15.5,118.8) rotate(0)"/><rect x="-2.8" y="-1.4" width="5.7" height="2.9" rx="0.8" fill="#eae21c" opacity="1" transform="translate(-4.1,119.6) rotate(80)"/><rect x="-3.5" y="-1.2" width="7.1" height="2.4" rx="0.8" fill="#eae21c" opacity="1" transform="translate(19.1,116.8) rotate(80)"/><rect x="-6.4" y="-1.2" width="12.8" height="2.4" rx="0.8" fill="#eae21c" opacity="1" transform="translate(-19.7,128.1) rotate(80)"/><rect x="-9.9" y="-1.7" width="19.9" height="3.4" rx="0.8" fill="#eae21c" opacity="1" transform="translate(22.8,133.8) rotate(-55)"/><rect x="-8.5" y="-1.4" width="17.0" height="2.9" rx="0.8" fill="#eae21c" opacity="1" transform="translate(10.1,149.4) rotate(-60)"/><rect x="-4.3" y="-1.2" width="8.5" height="2.4" rx="0.8" fill="#eae21c" opacity="1" transform="translate(-7.0,140.9) rotate(85)"/><rect x="-3.5" y="-1.7" width="7.1" height="3.4" rx="0.8" fill="#eae21c" opacity="1" transform="translate(18.6,143.7) rotate(-10)"/><rect x="-7.1" y="-1.0" width="14.2" height="1.9" rx="0.8" fill="#eae21c" opacity="1" transform="translate(48.4,123.9) rotate(5)"/><rect x="-5.7" y="-1.0" width="11.3" height="1.9" rx="0.8" fill="#eae21c" opacity="1" transform="translate(39.9,131.0) rotate(85)"/><rect x="-4.3" y="-1.0" width="8.5" height="1.9" rx="0.8" fill="#eae21c" opacity="1" transform="translate(55.5,129.5) rotate(80)"/><rect x="-4.3" y="-1.2" width="8.5" height="2.4" rx="0.8" fill="#eae21c" opacity="1" transform="translate(69.6,135.2) rotate(80)"/><rect x="-5.7" y="-1.4" width="11.3" height="2.9" rx="0.8" fill="#eae21c" opacity="1" transform="translate(46.9,145.1) rotate(75)"/><rect x="-4.3" y="-1.7" width="8.5" height="3.4" rx="0.8" fill="#eae21c" opacity="1" transform="translate(55.5,159.3) rotate(-10)"/><rect x="-3.5" y="-1.2" width="7.1" height="2.4" rx="0.8" fill="#eae21c" opacity="1" transform="translate(48.4,172.1) rotate(80)"/><rect x="-2.1" y="-0.8" width="4.3" height="1.7" rx="0.6" fill="#f4c018" transform="translate(-6.4,17.5) rotate(60)"/><rect x="-1.6" y="-0.6" width="3.1" height="1.2" rx="0.6" fill="#e07a1a" transform="translate(1.0,26.8) rotate(20)"/><rect x="-2.1" y="-0.8" width="4.3" height="1.7" rx="0.6" fill="#e07a1a" transform="translate(2.1,56.3) rotate(30)"/><rect x="-3.9" y="-0.8" width="7.8" height="1.7" rx="0.6" fill="#f4c018" transform="translate(-21.1,64.3) rotate(20)"/><rect x="-3.5" y="-0.8" width="7.1" height="1.7" rx="0.6" fill="#e07a1a" transform="translate(83.8,61.4) rotate(70)"/><rect x="-2.1" y="-0.7" width="4.3" height="1.4" rx="0.6" fill="#e07a1a" transform="translate(42.7,91.2) rotate(80)"/><rect x="-2.1" y="-0.8" width="4.3" height="1.7" rx="0.6" fill="#f4c018" transform="translate(50.4,104.0) rotate(60)"/><rect x="-1.8" y="-0.7" width="3.5" height="1.4" rx="0.6" fill="#f4c018" transform="translate(-50.9,87.0) rotate(50)"/><rect x="-1.4" y="-0.8" width="2.8" height="1.7" rx="0.6" fill="#f4c018" transform="translate(-59.4,105.4) rotate(80)"/><rect x="-2.1" y="-0.7" width="4.3" height="1.4" rx="0.6" fill="#f4c018" transform="translate(-41.0,102.6) rotate(20)"/><rect x="-1.8" y="-0.7" width="3.5" height="1.4" rx="0.6" fill="#e07a1a" transform="translate(-15.5,118.8) rotate(0)"/><rect x="-5.0" y="-0.8" width="9.9" height="1.7" rx="0.6" fill="#f4c018" transform="translate(22.8,133.8) rotate(-55)"/><rect x="-1.8" y="-0.8" width="3.5" height="1.7" rx="0.6" fill="#e07a1a" transform="translate(18.6,143.7) rotate(-10)"/><rect x="-2.8" y="-0.7" width="5.7" height="1.4" rx="0.6" fill="#f4c018" transform="translate(46.9,145.1) rotate(75)"/><rect x="-2.1" y="-0.8" width="4.3" height="1.7" rx="0.6" fill="#e07a1a" transform="translate(55.5,159.3) rotate(-10)"/><rect x="-1.8" y="-0.6" width="3.5" height="1.2" rx="0.6" fill="#f4c018" transform="translate(48.4,172.1) rotate(80)"/></g></g>
<g filter="url(#blur05)"><rect x="-1.3" y="-1.1" width="2.5" height="2.2" fill="#e6e61e" opacity="0.76" transform="translate(-8.5,115.8) rotate(-61)"/><rect x="-1.0" y="-0.9" width="2.1" height="1.8" fill="#e6e61e" opacity="0.88" transform="translate(-49.9,111.1) rotate(22)"/><rect x="-1.2" y="-0.8" width="2.3" height="1.5" fill="#e6e61e" opacity="0.71" transform="translate(78.8,88.7) rotate(25)"/><rect x="-0.6" y="-1.1" width="1.2" height="2.2" fill="#e6e61e" opacity="0.84" transform="translate(19.7,126.4) rotate(32)"/><rect x="-1.2" y="-0.9" width="2.3" height="1.8" fill="#e6e61e" opacity="0.86" transform="translate(-33.7,127.2) rotate(32)"/><rect x="-0.7" y="-0.8" width="1.4" height="1.7" fill="#e6e61e" opacity="0.64" transform="translate(71.2,43.6) rotate(-67)"/><rect x="-1.5" y="-1.0" width="2.9" height="2.0" fill="#e6e61e" opacity="0.64" transform="translate(82.5,101.8) rotate(31)"/><rect x="-0.9" y="-1.1" width="1.8" height="2.1" fill="#e6e61e" opacity="0.65" transform="translate(45.3,37.0) rotate(-61)"/><rect x="-1.0" y="-0.7" width="2.0" height="1.4" fill="#e6e61e" opacity="0.71" transform="translate(-23.2,74.7) rotate(-54)"/><rect x="-0.9" y="-0.7" width="1.8" height="1.5" fill="#e6e61e" opacity="0.80" transform="translate(-29.2,74.6) rotate(21)"/><rect x="-1.0" y="-1.0" width="2.0" height="2.1" fill="#e6e61e" opacity="0.66" transform="translate(81.3,48.0) rotate(-61)"/><rect x="-1.0" y="-0.9" width="2.1" height="1.9" fill="#e6e61e" opacity="0.90" transform="translate(-5.9,50.7) rotate(-62)"/><rect x="-0.7" y="-1.0" width="1.3" height="2.0" fill="#e6e61e" opacity="0.55" transform="translate(-12.0,117.6) rotate(31)"/><rect x="-1.1" y="-1.0" width="2.2" height="2.0" fill="#e6e61e" opacity="0.68" transform="translate(-9.3,121.2) rotate(-55)"/><rect x="-1.1" y="-1.0" width="2.2" height="2.1" fill="#e6e61e" opacity="0.82" transform="translate(-4.0,93.9) rotate(-55)"/><rect x="-1.1" y="-0.8" width="2.3" height="1.6" fill="#e6e61e" opacity="0.76" transform="translate(-21.1,58.4) rotate(35)"/><rect x="-0.7" y="-1.1" width="1.5" height="2.2" fill="#e6e61e" opacity="0.86" transform="translate(57.4,36.1) rotate(33)"/><rect x="-0.8" y="-0.7" width="1.6" height="1.4" fill="#e6e61e" opacity="0.82" transform="translate(0.3,102.1) rotate(26)"/><rect x="-1.3" y="-0.8" width="2.6" height="1.5" fill="#e6e61e" opacity="0.88" transform="translate(14.2,58.1) rotate(32)"/><rect x="-1.6" y="-0.8" width="3.1" height="1.7" fill="#e6e61e" opacity="0.71" transform="translate(80.8,90.4) rotate(21)"/><rect x="-0.8" y="-0.6" width="1.6" height="1.3" fill="#e6e61e" opacity="0.75" transform="translate(-0.4,132.6) rotate(25)"/><rect x="-1.5" y="-0.9" width="3.0" height="1.9" fill="#e6e61e" opacity="0.55" transform="translate(-9.0,88.3) rotate(36)"/><rect x="-1.1" y="-0.9" width="2.2" height="1.8" fill="#e6e61e" opacity="0.64" transform="translate(-2.7,99.8) rotate(20)"/><rect x="-0.7" y="-1.0" width="1.4" height="2.1" fill="#e6e61e" opacity="0.85" transform="translate(1.9,75.5) rotate(-66)"/><rect x="-1.4" y="-0.9" width="2.9" height="1.8" fill="#e6e61e" opacity="0.75" transform="translate(102.3,80.7) rotate(-57)"/><rect x="-0.7" y="-1.1" width="1.3" height="2.2" fill="#e6e61e" opacity="0.60" transform="translate(-32.1,55.9) rotate(36)"/><rect x="-1.5" y="-1.0" width="3.1" height="2.1" fill="#e6e61e" opacity="0.73" transform="translate(38.5,46.3) rotate(35)"/><rect x="-1.4" y="-0.8" width="2.8" height="1.7" fill="#e6e61e" opacity="0.89" transform="translate(18.0,111.2) rotate(22)"/><rect x="-1.5" y="-0.7" width="2.9" height="1.4" fill="#e6e61e" opacity="0.85" transform="translate(29.0,30.6) rotate(-65)"/><rect x="-1.3" y="-1.1" width="2.6" height="2.1" fill="#e6e61e" opacity="0.64" transform="translate(58.0,72.9) rotate(21)"/><rect x="-0.7" y="-1.0" width="1.4" height="2.0" fill="#e6e61e" opacity="0.83" transform="translate(-16.6,91.9) rotate(-69)"/><rect x="-1.6" y="-0.6" width="3.2" height="1.2" fill="#e6e61e" opacity="0.74" transform="translate(60.0,92.6) rotate(31)"/><rect x="-1.4" y="-0.7" width="2.7" height="1.4" fill="#e6e61e" opacity="0.76" transform="translate(9.3,115.0) rotate(-61)"/><rect x="-1.1" y="-0.7" width="2.2" height="1.4" fill="#e6e61e" opacity="0.63" transform="translate(34.7,156.7) rotate(-60)"/><rect x="-0.7" y="-1.1" width="1.3" height="2.2" fill="#e6e61e" opacity="0.63" transform="translate(5.5,48.8) rotate(-60)"/><rect x="-1.5" y="-1.1" width="3.0" height="2.1" fill="#e6e61e" opacity="0.89" transform="translate(-17.4,29.2) rotate(-58)"/><rect x="-0.9" y="-0.9" width="1.8" height="1.9" fill="#e6e61e" opacity="0.66" transform="translate(51.8,93.4) rotate(-70)"/><rect x="-0.7" y="-0.7" width="1.4" height="1.5" fill="#e6e61e" opacity="0.75" transform="translate(-57.4,104.5) rotate(24)"/><rect x="-1.1" y="-0.9" width="2.1" height="1.9" fill="#e6e61e" opacity="0.68" transform="translate(15.0,158.1) rotate(29)"/><rect x="-0.8" y="-1.1" width="1.6" height="2.1" fill="#e6e61e" opacity="0.86" transform="translate(17.0,13.5) rotate(-56)"/><rect x="-0.8" y="-0.6" width="1.6" height="1.2" fill="#56d01e" opacity="0.61" transform="translate(77.1,122.3) rotate(-62)"/><rect x="-1.3" y="-1.0" width="2.7" height="2.0" fill="#56d01e" opacity="0.65" transform="translate(5.7,119.7) rotate(-58)"/><rect x="-1.2" y="-1.1" width="2.5" height="2.3" fill="#56d01e" opacity="0.78" transform="translate(35.3,106.6) rotate(31)"/><rect x="-1.7" y="-0.9" width="3.4" height="1.7" fill="#56d01e" opacity="0.72" transform="translate(-15.4,121.5) rotate(-61)"/><rect x="-0.8" y="-0.8" width="1.7" height="1.6" fill="#56d01e" opacity="0.56" transform="translate(24.7,34.2) rotate(32)"/><rect x="-0.9" y="-0.6" width="1.8" height="1.2" fill="#56d01e" opacity="0.49" transform="translate(-32.2,124.9) rotate(-60)"/><rect x="-1.4" y="-0.7" width="2.9" height="1.4" fill="#56d01e" opacity="0.50" transform="translate(73.6,99.8) rotate(28)"/><rect x="-0.9" y="-0.7" width="1.8" height="1.4" fill="#56d01e" opacity="0.68" transform="translate(-40.1,122.0) rotate(32)"/><rect x="-1.7" y="-0.6" width="3.4" height="1.3" fill="#56d01e" opacity="0.78" transform="translate(-17.0,63.8) rotate(24)"/><rect x="-1.0" y="-1.0" width="1.9" height="2.1" fill="#56d01e" opacity="0.57" transform="translate(-62.9,112.1) rotate(-65)"/><rect x="-1.0" y="-1.0" width="1.9" height="2.1" fill="#56d01e" opacity="0.63" transform="translate(91.3,58.4) rotate(24)"/><rect x="-0.9" y="-0.8" width="1.7" height="1.7" fill="#56d01e" opacity="0.66" transform="translate(68.1,103.5) rotate(-61)"/><rect x="-1.6" y="-1.2" width="3.2" height="2.3" fill="#56d01e" opacity="0.59" transform="translate(6.9,109.7) rotate(-66)"/><rect x="-1.1" y="-0.7" width="2.3" height="1.3" fill="#56d01e" opacity="0.70" transform="translate(74.0,111.2) rotate(-64)"/><rect x="-1.1" y="-1.1" width="2.2" height="2.3" fill="#56d01e" opacity="0.65" transform="translate(75.9,59.0) rotate(21)"/><rect x="-1.1" y="-1.1" width="2.2" height="2.1" fill="#56d01e" opacity="0.66" transform="translate(28.4,33.9) rotate(24)"/><rect x="-1.4" y="-1.2" width="2.8" height="2.3" fill="#56d01e" opacity="0.64" transform="translate(-32.6,103.4) rotate(34)"/><rect x="-1.3" y="-1.0" width="2.6" height="2.0" fill="#56d01e" opacity="0.60" transform="translate(-12.2,66.9) rotate(-65)"/><rect x="-1.1" y="-1.2" width="2.3" height="2.4" fill="#56d01e" opacity="0.54" transform="translate(-49.6,80.3) rotate(-64)"/><rect x="-1.4" y="-1.0" width="2.9" height="2.0" fill="#56d01e" opacity="0.71" transform="translate(6.2,64.0) rotate(34)"/><rect x="-1.5" y="-0.9" width="3.0" height="1.8" fill="#56d01e" opacity="0.56" transform="translate(53.6,101.0) rotate(-64)"/><rect x="-1.0" y="-1.0" width="2.0" height="2.0" fill="#56d01e" opacity="0.79" transform="translate(-14.3,75.7) rotate(-58)"/><rect x="-1.7" y="-1.0" width="3.4" height="2.1" fill="#56d01e" opacity="0.75" transform="translate(52.2,142.0) rotate(-55)"/><rect x="-1.2" y="-0.7" width="2.5" height="1.5" fill="#56d01e" opacity="0.70" transform="translate(-54.2,105.2) rotate(-65)"/><rect x="-1.3" y="-0.8" width="2.7" height="1.7" fill="#56d01e" opacity="0.78" transform="translate(-17.3,93.0) rotate(31)"/><rect x="-1.5" y="-0.6" width="3.0" height="1.3" fill="#56d01e" opacity="0.70" transform="translate(35.1,47.4) rotate(-66)"/><rect x="-1.3" y="-0.6" width="2.7" height="1.3" fill="#56d01e" opacity="0.58" transform="translate(-51.1,117.3) rotate(28)"/><rect x="-1.4" y="-0.8" width="2.7" height="1.6" fill="#56d01e" opacity="0.58" transform="translate(3.1,39.7) rotate(29)"/><rect x="-1.4" y="-0.9" width="2.7" height="1.7" fill="#56d01e" opacity="0.58" transform="translate(7.7,23.7) rotate(-69)"/><rect x="-1.2" y="-0.8" width="2.5" height="1.6" fill="#56d01e" opacity="0.58" transform="translate(-5.9,125.1) rotate(-60)"/><rect x="-1.7" y="-1.0" width="3.4" height="2.1" fill="#56d01e" opacity="0.69" transform="translate(38.1,113.1) rotate(31)"/><rect x="-0.9" y="-0.7" width="1.8" height="1.4" fill="#56d01e" opacity="0.65" transform="translate(91.5,74.7) rotate(-65)"/><rect x="-1.5" y="-0.9" width="3.0" height="1.8" fill="#56d01e" opacity="0.69" transform="translate(-18.0,94.8) rotate(-59)"/><rect x="-1.3" y="-0.6" width="2.5" height="1.3" fill="#56d01e" opacity="0.57" transform="translate(23.0,62.4) rotate(28)"/><rect x="-1.5" y="-1.2" width="2.9" height="2.3" fill="#56d01e" opacity="0.67" transform="translate(10.6,69.1) rotate(-65)"/><rect x="-1.6" y="-0.7" width="3.2" height="1.4" fill="#56d01e" opacity="0.77" transform="translate(-14.0,48.0) rotate(-67)"/><rect x="-1.2" y="-1.2" width="2.3" height="2.3" fill="#56d01e" opacity="0.79" transform="translate(47.8,113.0) rotate(-56)"/><rect x="-0.8" y="-1.1" width="1.5" height="2.2" fill="#56d01e" opacity="0.63" transform="translate(-50.4,111.1) rotate(-56)"/><rect x="-1.1" y="-0.8" width="2.3" height="1.6" fill="#56d01e" opacity="0.67" transform="translate(55.9,88.5) rotate(21)"/><rect x="-1.1" y="-0.7" width="2.1" height="1.5" fill="#56d01e" opacity="0.75" transform="translate(12.3,66.7) rotate(-70)"/></g>
<rect x="-100" y="-100" width="310" height="310" transform="rotate(28)" filter="url(#spLightG)" opacity="0.4"/>
<line x1="-59.3" y1="96.4" x2="56" y2="165.5" stroke="#e8284a" stroke-width="2.1"/>
</g>
<line x1="56" y1="165.5" x2="134.9" y2="142.4" stroke="#e82a40" stroke-width="1.1"/>
<polygon points="143.5,139.9 135.6,145.1 134.1,139.7" fill="#e82a40"/>
</g>
<g transform="translate(572.6,28.8)">
<g clip-path="url(#tp)">
<rect x="-100" y="-100" width="310" height="310" transform="rotate(28)" filter="url(#texD)"/>
<line x1="-27.6" y1="35.4" x2="-2.0" y2="46.9" stroke="#56ce24" stroke-width="0.55" opacity="0.49"/><line x1="15.4" y1="102.9" x2="60.1" y2="124.3" stroke="#56ce24" stroke-width="0.55" opacity="0.46"/><line x1="-28.1" y1="84.0" x2="-18.0" y2="62.0" stroke="#56ce24" stroke-width="0.55" opacity="0.57"/><line x1="96.9" y1="55.8" x2="121.0" y2="64.6" stroke="#56ce24" stroke-width="0.55" opacity="0.31"/><line x1="20.1" y1="112.4" x2="66.0" y2="134.0" stroke="#56ce24" stroke-width="0.55" opacity="0.52"/><line x1="60.0" y1="81.3" x2="41.1" y2="123.4" stroke="#56ce24" stroke-width="0.55" opacity="0.49"/><line x1="21.0" y1="41.8" x2="35.6" y2="16.9" stroke="#56ce24" stroke-width="0.55" opacity="0.45"/><line x1="34.9" y1="41.1" x2="50.6" y2="13.5" stroke="#56ce24" stroke-width="0.55" opacity="0.59"/><line x1="-22.3" y1="36.3" x2="-32.4" y2="59.1" stroke="#56ce24" stroke-width="0.55" opacity="0.25"/><line x1="22.0" y1="107.7" x2="48.3" y2="119.1" stroke="#56ce24" stroke-width="0.55" opacity="0.32"/><line x1="9.8" y1="136.5" x2="22.1" y2="112.8" stroke="#56ce24" stroke-width="0.55" opacity="0.54"/><line x1="84.8" y1="76.2" x2="105.2" y2="47.1" stroke="#56ce24" stroke-width="0.55" opacity="0.52"/><line x1="104.0" y1="79.9" x2="118.0" y2="49.8" stroke="#56ce24" stroke-width="0.55" opacity="0.26"/><line x1="25.5" y1="146.6" x2="42.3" y2="122.7" stroke="#56ce24" stroke-width="0.55" opacity="0.53"/><line x1="-39.6" y1="125.0" x2="5.4" y2="140.8" stroke="#56ce24" stroke-width="0.55" opacity="0.29"/><line x1="-33.5" y1="141.6" x2="-10.6" y2="101.5" stroke="#56ce24" stroke-width="0.55" opacity="0.57"/><line x1="2.8" y1="123.3" x2="35.2" y2="137.5" stroke="#56ce24" stroke-width="0.55" opacity="0.59"/><line x1="-8.1" y1="112.5" x2="-23.2" y2="155.1" stroke="#56ce24" stroke-width="0.55" opacity="0.33"/><line x1="63.7" y1="148.7" x2="78.0" y2="128.3" stroke="#56ce24" stroke-width="0.55" opacity="0.31"/><line x1="43.0" y1="77.5" x2="28.2" y2="113.7" stroke="#56ce24" stroke-width="0.55" opacity="0.44"/><line x1="18.9" y1="35.0" x2="50.2" y2="51.9" stroke="#56ce24" stroke-width="0.55" opacity="0.30"/><line x1="-42.2" y1="81.9" x2="-18.7" y2="39.1" stroke="#56ce24" stroke-width="0.55" opacity="0.44"/><line x1="-29.4" y1="80.9" x2="-13.0" y2="55.9" stroke="#56ce24" stroke-width="0.55" opacity="0.31"/><line x1="-17.0" y1="109.1" x2="10.5" y2="121.1" stroke="#56ce24" stroke-width="0.55" opacity="0.29"/><line x1="-41.4" y1="110.6" x2="-22.6" y2="67.1" stroke="#56ce24" stroke-width="0.55" opacity="0.34"/><line x1="-6.5" y1="119.1" x2="8.3" y2="125.2" stroke="#56ce24" stroke-width="0.55" opacity="0.33"/><line x1="-13.3" y1="116.4" x2="32.0" y2="135.7" stroke="#56ce24" stroke-width="0.55" opacity="0.45"/><line x1="102.3" y1="74.1" x2="114.9" y2="51.8" stroke="#56ce24" stroke-width="0.55" opacity="0.55"/><line x1="-6.4" y1="83.3" x2="-19.2" y2="110.8" stroke="#56ce24" stroke-width="0.55" opacity="0.44"/><line x1="18.0" y1="109.8" x2="7.6" y2="137.8" stroke="#56ce24" stroke-width="0.55" opacity="0.27"/><line x1="36.9" y1="80.8" x2="51.1" y2="86.4" stroke="#56ce24" stroke-width="0.55" opacity="0.29"/><line x1="17.3" y1="76.2" x2="53.1" y2="88.7" stroke="#56ce24" stroke-width="0.55" opacity="0.53"/><line x1="-16.8" y1="89.9" x2="11.1" y2="43.4" stroke="#56ce24" stroke-width="0.55" opacity="0.32"/><line x1="78.9" y1="83.3" x2="118.6" y2="96.3" stroke="#56ce24" stroke-width="0.55" opacity="0.51"/>
<line x1="-45.2" y1="75.6" x2="83.8" y2="119.6" stroke="#56ce24" stroke-width="0.95" opacity="0.95"/>
<line x1="12.9" y1="89.8" x2="75.3" y2="43.0" stroke="#56ce24" stroke-width="0.7" opacity="0.7"/>
<line x1="-29.6" y1="38.8" x2="21.4" y2="129.5" stroke="#56ce24" stroke-width="0.5" opacity="0.4"/>
<g filter="url(#blur1)" opacity="0.6"><rect x="-5.4" y="-2.8" width="10.7" height="5.6" rx="1.5" fill="#4ccc1c" transform="translate(-6.4,17.5) rotate(60)"/><rect x="-4.2" y="-2.3" width="8.4" height="4.6" rx="1.5" fill="#4ccc1c" transform="translate(1.0,26.8) rotate(20)"/><rect x="-5.4" y="-2.5" width="10.7" height="5.1" rx="1.5" fill="#4ccc1c" transform="translate(17.2,15.5) rotate(-55)"/><rect x="-3.9" y="-2.3" width="7.9" height="4.6" rx="1.5" fill="#4ccc1c" transform="translate(15.2,29.7) rotate(60)"/><rect x="-7.5" y="-2.5" width="15.0" height="5.1" rx="1.5" fill="#4ccc1c" transform="translate(37.0,31.7) rotate(80)"/><rect x="-6.8" y="-2.5" width="13.5" height="5.1" rx="1.5" fill="#4ccc1c" transform="translate(58.3,40.2) rotate(80)"/><rect x="-6.1" y="-2.3" width="12.1" height="4.6" rx="1.5" fill="#4ccc1c" transform="translate(-15.5,41.0) rotate(20)"/><rect x="-6.8" y="-2.3" width="13.5" height="4.6" rx="1.5" fill="#4ccc1c" transform="translate(-5.5,47.3) rotate(70)"/><rect x="-8.2" y="-2.1" width="16.4" height="4.1" rx="1.5" fill="#4ccc1c" transform="translate(12.9,48.7) rotate(-30)"/><rect x="-5.4" y="-2.8" width="10.7" height="5.6" rx="1.5" fill="#4ccc1c" transform="translate(2.1,56.3) rotate(30)"/><rect x="-6.1" y="-2.5" width="12.1" height="5.1" rx="1.5" fill="#4ccc1c" transform="translate(3.0,65.7) rotate(80)"/><rect x="-8.9" y="-2.8" width="17.8" height="5.6" rx="1.5" fill="#4ccc1c" transform="translate(-21.1,64.3) rotate(20)"/><rect x="-6.8" y="-2.5" width="13.5" height="5.1" rx="1.5" fill="#4ccc1c" transform="translate(42.7,52.9) rotate(-50)"/><rect x="-5.4" y="-2.5" width="10.7" height="5.1" rx="1.5" fill="#4ccc1c" transform="translate(69.6,54.4) rotate(-30)"/><rect x="-8.2" y="-2.8" width="16.4" height="5.6" rx="1.5" fill="#4ccc1c" transform="translate(83.8,61.4) rotate(70)"/><rect x="-4.6" y="-2.3" width="9.3" height="4.6" rx="1.5" fill="#4ccc1c" transform="translate(92.3,54.4) rotate(80)"/><rect x="-3.9" y="-2.3" width="7.9" height="4.6" rx="1.5" fill="#4ccc1c" transform="translate(100.8,58.6) rotate(-20)"/><rect x="-5.4" y="-2.8" width="10.7" height="5.6" rx="1.5" fill="#4ccc1c" transform="translate(110.8,65.7) rotate(80)"/><rect x="-6.1" y="-2.5" width="12.1" height="5.1" rx="1.5" fill="#4ccc1c" transform="translate(64.8,72.2) rotate(80)"/><rect x="-6.8" y="-2.3" width="13.5" height="4.6" rx="1.5" fill="#4ccc1c" transform="translate(85.2,84.1) rotate(85)"/><rect x="-5.4" y="-2.3" width="10.7" height="4.6" rx="1.5" fill="#4ccc1c" transform="translate(93.8,98.3) rotate(15)"/><rect x="-7.5" y="-2.5" width="15.0" height="5.1" rx="1.5" fill="#4ccc1c" transform="translate(37.0,79.9) rotate(-40)"/><rect x="-8.2" y="-2.3" width="16.4" height="4.6" rx="1.5" fill="#4ccc1c" transform="translate(25.7,92.7) rotate(70)"/><rect x="-5.4" y="-2.5" width="10.7" height="5.1" rx="1.5" fill="#4ccc1c" transform="translate(42.7,91.2) rotate(80)"/><rect x="-6.8" y="-2.1" width="13.5" height="4.1" rx="1.5" fill="#4ccc1c" transform="translate(32.8,96.1) rotate(-20)"/><rect x="-5.4" y="-2.8" width="10.7" height="5.6" rx="1.5" fill="#4ccc1c" transform="translate(50.4,104.0) rotate(60)"/><rect x="-9.6" y="-2.3" width="19.2" height="4.6" rx="1.5" fill="#4ccc1c" transform="translate(66.8,105.4) rotate(80)"/><rect x="-4.6" y="-2.5" width="9.3" height="5.1" rx="1.5" fill="#4ccc1c" transform="translate(-50.9,87.0) rotate(50)"/><rect x="-3.9" y="-2.8" width="7.9" height="5.6" rx="1.5" fill="#4ccc1c" transform="translate(-59.4,105.4) rotate(80)"/><rect x="-5.4" y="-2.5" width="10.7" height="5.1" rx="1.5" fill="#4ccc1c" transform="translate(-41.0,102.6) rotate(20)"/><rect x="-4.6" y="-2.5" width="9.3" height="5.1" rx="1.5" fill="#4ccc1c" transform="translate(-28.2,104.6) rotate(10)"/><rect x="-6.1" y="-2.3" width="12.1" height="4.6" rx="1.5" fill="#4ccc1c" transform="translate(-16.9,101.2) rotate(85)"/><rect x="-5.4" y="-2.5" width="10.7" height="5.1" rx="1.5" fill="#4ccc1c" transform="translate(-1.3,102.6) rotate(85)"/><rect x="-4.6" y="-2.5" width="9.3" height="5.1" rx="1.5" fill="#4ccc1c" transform="translate(12.9,105.4) rotate(80)"/><rect x="-4.6" y="-2.5" width="9.3" height="5.1" rx="1.5" fill="#4ccc1c" transform="translate(-15.5,118.8) rotate(0)"/><rect x="-3.9" y="-2.5" width="7.9" height="5.1" rx="1.5" fill="#4ccc1c" transform="translate(-4.1,119.6) rotate(80)"/><rect x="-4.6" y="-2.3" width="9.3" height="4.6" rx="1.5" fill="#4ccc1c" transform="translate(19.1,116.8) rotate(80)"/><rect x="-7.5" y="-2.3" width="15.0" height="4.6" rx="1.5" fill="#4ccc1c" transform="translate(-19.7,128.1) rotate(80)"/><rect x="-11.0" y="-2.8" width="22.1" height="5.6" rx="1.5" fill="#4ccc1c" transform="translate(22.8,133.8) rotate(-55)"/><rect x="-9.6" y="-2.5" width="19.2" height="5.1" rx="1.5" fill="#4ccc1c" transform="translate(10.1,149.4) rotate(-60)"/><rect x="-5.4" y="-2.3" width="10.7" height="4.6" rx="1.5" fill="#4ccc1c" transform="translate(-7.0,140.9) rotate(85)"/><rect x="-4.6" y="-2.8" width="9.3" height="5.6" rx="1.5" fill="#4ccc1c" transform="translate(18.6,143.7) rotate(-10)"/><rect x="-8.2" y="-2.1" width="16.4" height="4.1" rx="1.5" fill="#4ccc1c" transform="translate(48.4,123.9) rotate(5)"/><rect x="-6.8" y="-2.1" width="13.5" height="4.1" rx="1.5" fill="#4ccc1c" transform="translate(39.9,131.0) rotate(85)"/><rect x="-5.4" y="-2.1" width="10.7" height="4.1" rx="1.5" fill="#4ccc1c" transform="translate(55.5,129.5) rotate(80)"/><rect x="-5.4" y="-2.3" width="10.7" height="4.6" rx="1.5" fill="#4ccc1c" transform="translate(69.6,135.2) rotate(80)"/><rect x="-6.8" y="-2.5" width="13.5" height="5.1" rx="1.5" fill="#4ccc1c" transform="translate(46.9,145.1) rotate(75)"/><rect x="-5.4" y="-2.8" width="10.7" height="5.6" rx="1.5" fill="#4ccc1c" transform="translate(55.5,159.3) rotate(-10)"/><rect x="-4.6" y="-2.3" width="9.3" height="4.6" rx="1.5" fill="#4ccc1c" transform="translate(48.4,172.1) rotate(80)"/></g><g filter="url(#blur04)"><g filter="url(#rough)"><rect x="-4.3" y="-1.7" width="8.5" height="3.4" rx="0.8" fill="#eae21c" opacity="1" transform="translate(-6.4,17.5) rotate(60)"/><rect x="-3.1" y="-1.2" width="6.2" height="2.4" rx="0.8" fill="#eae21c" opacity="1" transform="translate(1.0,26.8) rotate(20)"/><rect x="-4.3" y="-1.4" width="8.5" height="2.9" rx="0.8" fill="#eae21c" opacity="1" transform="translate(17.2,15.5) rotate(-55)"/><rect x="-2.8" y="-1.2" width="5.7" height="2.4" rx="0.8" fill="#eae21c" opacity="1" transform="translate(15.2,29.7) rotate(60)"/><rect x="-6.4" y="-1.4" width="12.8" height="2.9" rx="0.8" fill="#eae21c" opacity="1" transform="translate(37.0,31.7) rotate(80)"/><rect x="-5.7" y="-1.4" width="11.3" height="2.9" rx="0.8" fill="#eae21c" opacity="1" transform="translate(58.3,40.2) rotate(80)"/><rect x="-5.0" y="-1.2" width="9.9" height="2.4" rx="0.8" fill="#eae21c" opacity="1" transform="translate(-15.5,41.0) rotate(20)"/><rect x="-5.7" y="-1.2" width="11.3" height="2.4" rx="0.8" fill="#eae21c" opacity="1" transform="translate(-5.5,47.3) rotate(70)"/><rect x="-7.1" y="-1.0" width="14.2" height="1.9" rx="0.8" fill="#eae21c" opacity="1" transform="translate(12.9,48.7) rotate(-30)"/><rect x="-4.3" y="-1.7" width="8.5" height="3.4" rx="0.8" fill="#eae21c" opacity="1" transform="translate(2.1,56.3) rotate(30)"/><rect x="-5.0" y="-1.4" width="9.9" height="2.9" rx="0.8" fill="#eae21c" opacity="1" transform="translate(3.0,65.7) rotate(80)"/><rect x="-7.8" y="-1.7" width="15.6" height="3.4" rx="0.8" fill="#eae21c" opacity="1" transform="translate(-21.1,64.3) rotate(20)"/><rect x="-5.7" y="-1.4" width="11.3" height="2.9" rx="0.8" fill="#eae21c" opacity="1" transform="translate(42.7,52.9) rotate(-50)"/><rect x="-4.3" y="-1.4" width="8.5" height="2.9" rx="0.8" fill="#eae21c" opacity="1" transform="translate(69.6,54.4) rotate(-30)"/><rect x="-7.1" y="-1.7" width="14.2" height="3.4" rx="0.8" fill="#eae21c" opacity="1" transform="translate(83.8,61.4) rotate(70)"/><rect x="-3.5" y="-1.2" width="7.1" height="2.4" rx="0.8" fill="#eae21c" opacity="1" transform="translate(92.3,54.4) rotate(80)"/><rect x="-2.8" y="-1.2" width="5.7" height="2.4" rx="0.8" fill="#eae21c" opacity="1" transform="translate(100.8,58.6) rotate(-20)"/><rect x="-4.3" y="-1.7" width="8.5" height="3.4" rx="0.8" fill="#eae21c" opacity="1" transform="translate(110.8,65.7) rotate(80)"/><rect x="-5.0" y="-1.4" width="9.9" height="2.9" rx="0.8" fill="#eae21c" opacity="1" transform="translate(64.8,72.2) rotate(80)"/><rect x="-5.7" y="-1.2" width="11.3" height="2.4" rx="0.8" fill="#eae21c" opacity="1" transform="translate(85.2,84.1) rotate(85)"/><rect x="-4.3" y="-1.2" width="8.5" height="2.4" rx="0.8" fill="#eae21c" opacity="1" transform="translate(93.8,98.3) rotate(15)"/><rect x="-6.4" y="-1.4" width="12.8" height="2.9" rx="0.8" fill="#eae21c" opacity="1" transform="translate(37.0,79.9) rotate(-40)"/><rect x="-7.1" y="-1.2" width="14.2" height="2.4" rx="0.8" fill="#eae21c" opacity="1" transform="translate(25.7,92.7) rotate(70)"/><rect x="-4.3" y="-1.4" width="8.5" height="2.9" rx="0.8" fill="#eae21c" opacity="1" transform="translate(42.7,91.2) rotate(80)"/><rect x="-5.7" y="-1.0" width="11.3" height="1.9" rx="0.8" fill="#eae21c" opacity="1" transform="translate(32.8,96.1) rotate(-20)"/><rect x="-4.3" y="-1.7" width="8.5" height="3.4" rx="0.8" fill="#eae21c" opacity="1" transform="translate(50.4,104.0) rotate(60)"/><rect x="-8.5" y="-1.2" width="17.0" height="2.4" rx="0.8" fill="#eae21c" opacity="1" transform="translate(66.8,105.4) rotate(80)"/><rect x="-3.5" y="-1.4" width="7.1" height="2.9" rx="0.8" fill="#eae21c" opacity="1" transform="translate(-50.9,87.0) rotate(50)"/><rect x="-2.8" y="-1.7" width="5.7" height="3.4" rx="0.8" fill="#eae21c" opacity="1" transform="translate(-59.4,105.4) rotate(80)"/><rect x="-4.3" y="-1.4" width="8.5" height="2.9" rx="0.8" fill="#eae21c" opacity="1" transform="translate(-41.0,102.6) rotate(20)"/><rect x="-3.5" y="-1.4" width="7.1" height="2.9" rx="0.8" fill="#eae21c" opacity="1" transform="translate(-28.2,104.6) rotate(10)"/><rect x="-5.0" y="-1.2" width="9.9" height="2.4" rx="0.8" fill="#eae21c" opacity="1" transform="translate(-16.9,101.2) rotate(85)"/><rect x="-4.3" y="-1.4" width="8.5" height="2.9" rx="0.8" fill="#eae21c" opacity="1" transform="translate(-1.3,102.6) rotate(85)"/><rect x="-3.5" y="-1.4" width="7.1" height="2.9" rx="0.8" fill="#eae21c" opacity="1" transform="translate(12.9,105.4) rotate(80)"/><rect x="-3.5" y="-1.4" width="7.1" height="2.9" rx="0.8" fill="#eae21c" opacity="1" transform="translate(-15.5,118.8) rotate(0)"/><rect x="-2.8" y="-1.4" width="5.7" height="2.9" rx="0.8" fill="#eae21c" opacity="1" transform="translate(-4.1,119.6) rotate(80)"/><rect x="-3.5" y="-1.2" width="7.1" height="2.4" rx="0.8" fill="#eae21c" opacity="1" transform="translate(19.1,116.8) rotate(80)"/><rect x="-6.4" y="-1.2" width="12.8" height="2.4" rx="0.8" fill="#eae21c" opacity="1" transform="translate(-19.7,128.1) rotate(80)"/><rect x="-9.9" y="-1.7" width="19.9" height="3.4" rx="0.8" fill="#eae21c" opacity="1" transform="translate(22.8,133.8) rotate(-55)"/><rect x="-8.5" y="-1.4" width="17.0" height="2.9" rx="0.8" fill="#eae21c" opacity="1" transform="translate(10.1,149.4) rotate(-60)"/><rect x="-4.3" y="-1.2" width="8.5" height="2.4" rx="0.8" fill="#eae21c" opacity="1" transform="translate(-7.0,140.9) rotate(85)"/><rect x="-3.5" y="-1.7" width="7.1" height="3.4" rx="0.8" fill="#eae21c" opacity="1" transform="translate(18.6,143.7) rotate(-10)"/><rect x="-7.1" y="-1.0" width="14.2" height="1.9" rx="0.8" fill="#eae21c" opacity="1" transform="translate(48.4,123.9) rotate(5)"/><rect x="-5.7" y="-1.0" width="11.3" height="1.9" rx="0.8" fill="#eae21c" opacity="1" transform="translate(39.9,131.0) rotate(85)"/><rect x="-4.3" y="-1.0" width="8.5" height="1.9" rx="0.8" fill="#eae21c" opacity="1" transform="translate(55.5,129.5) rotate(80)"/><rect x="-4.3" y="-1.2" width="8.5" height="2.4" rx="0.8" fill="#eae21c" opacity="1" transform="translate(69.6,135.2) rotate(80)"/><rect x="-5.7" y="-1.4" width="11.3" height="2.9" rx="0.8" fill="#eae21c" opacity="1" transform="translate(46.9,145.1) rotate(75)"/><rect x="-4.3" y="-1.7" width="8.5" height="3.4" rx="0.8" fill="#eae21c" opacity="1" transform="translate(55.5,159.3) rotate(-10)"/><rect x="-3.5" y="-1.2" width="7.1" height="2.4" rx="0.8" fill="#eae21c" opacity="1" transform="translate(48.4,172.1) rotate(80)"/><rect x="-2.1" y="-0.8" width="4.3" height="1.7" rx="0.6" fill="#f4c018" transform="translate(-6.4,17.5) rotate(60)"/><rect x="-1.6" y="-0.6" width="3.1" height="1.2" rx="0.6" fill="#e07a1a" transform="translate(1.0,26.8) rotate(20)"/><rect x="-2.1" y="-0.8" width="4.3" height="1.7" rx="0.6" fill="#e07a1a" transform="translate(2.1,56.3) rotate(30)"/><rect x="-3.9" y="-0.8" width="7.8" height="1.7" rx="0.6" fill="#f4c018" transform="translate(-21.1,64.3) rotate(20)"/><rect x="-3.5" y="-0.8" width="7.1" height="1.7" rx="0.6" fill="#e07a1a" transform="translate(83.8,61.4) rotate(70)"/><rect x="-2.1" y="-0.7" width="4.3" height="1.4" rx="0.6" fill="#e07a1a" transform="translate(42.7,91.2) rotate(80)"/><rect x="-2.1" y="-0.8" width="4.3" height="1.7" rx="0.6" fill="#f4c018" transform="translate(50.4,104.0) rotate(60)"/><rect x="-1.8" y="-0.7" width="3.5" height="1.4" rx="0.6" fill="#f4c018" transform="translate(-50.9,87.0) rotate(50)"/><rect x="-1.4" y="-0.8" width="2.8" height="1.7" rx="0.6" fill="#f4c018" transform="translate(-59.4,105.4) rotate(80)"/><rect x="-2.1" y="-0.7" width="4.3" height="1.4" rx="0.6" fill="#f4c018" transform="translate(-41.0,102.6) rotate(20)"/><rect x="-1.8" y="-0.7" width="3.5" height="1.4" rx="0.6" fill="#e07a1a" transform="translate(-15.5,118.8) rotate(0)"/><rect x="-5.0" y="-0.8" width="9.9" height="1.7" rx="0.6" fill="#f4c018" transform="translate(22.8,133.8) rotate(-55)"/><rect x="-1.8" y="-0.8" width="3.5" height="1.7" rx="0.6" fill="#e07a1a" transform="translate(18.6,143.7) rotate(-10)"/><rect x="-2.8" y="-0.7" width="5.7" height="1.4" rx="0.6" fill="#f4c018" transform="translate(46.9,145.1) rotate(75)"/><rect x="-2.1" y="-0.8" width="4.3" height="1.7" rx="0.6" fill="#e07a1a" transform="translate(55.5,159.3) rotate(-10)"/><rect x="-1.8" y="-0.6" width="3.5" height="1.2" rx="0.6" fill="#f4c018" transform="translate(48.4,172.1) rotate(80)"/></g></g>
<g filter="url(#blur05)"><rect x="-1.3" y="-1.1" width="2.5" height="2.2" fill="#e6e61e" opacity="0.76" transform="translate(-8.5,115.8) rotate(-61)"/><rect x="-1.0" y="-0.9" width="2.1" height="1.8" fill="#e6e61e" opacity="0.88" transform="translate(-49.9,111.1) rotate(22)"/><rect x="-1.2" y="-0.8" width="2.3" height="1.5" fill="#e6e61e" opacity="0.71" transform="translate(78.8,88.7) rotate(25)"/><rect x="-0.6" y="-1.1" width="1.2" height="2.2" fill="#e6e61e" opacity="0.84" transform="translate(19.7,126.4) rotate(32)"/><rect x="-1.2" y="-0.9" width="2.3" height="1.8" fill="#e6e61e" opacity="0.86" transform="translate(-33.7,127.2) rotate(32)"/><rect x="-0.7" y="-0.8" width="1.4" height="1.7" fill="#e6e61e" opacity="0.64" transform="translate(71.2,43.6) rotate(-67)"/><rect x="-1.5" y="-1.0" width="2.9" height="2.0" fill="#e6e61e" opacity="0.64" transform="translate(82.5,101.8) rotate(31)"/><rect x="-0.9" y="-1.1" width="1.8" height="2.1" fill="#e6e61e" opacity="0.65" transform="translate(45.3,37.0) rotate(-61)"/><rect x="-1.0" y="-0.7" width="2.0" height="1.4" fill="#e6e61e" opacity="0.71" transform="translate(-23.2,74.7) rotate(-54)"/><rect x="-0.9" y="-0.7" width="1.8" height="1.5" fill="#e6e61e" opacity="0.80" transform="translate(-29.2,74.6) rotate(21)"/><rect x="-1.0" y="-1.0" width="2.0" height="2.1" fill="#e6e61e" opacity="0.66" transform="translate(81.3,48.0) rotate(-61)"/><rect x="-1.0" y="-0.9" width="2.1" height="1.9" fill="#e6e61e" opacity="0.90" transform="translate(-5.9,50.7) rotate(-62)"/><rect x="-0.7" y="-1.0" width="1.3" height="2.0" fill="#e6e61e" opacity="0.55" transform="translate(-12.0,117.6) rotate(31)"/><rect x="-1.1" y="-1.0" width="2.2" height="2.0" fill="#e6e61e" opacity="0.68" transform="translate(-9.3,121.2) rotate(-55)"/><rect x="-1.1" y="-1.0" width="2.2" height="2.1" fill="#e6e61e" opacity="0.82" transform="translate(-4.0,93.9) rotate(-55)"/><rect x="-1.1" y="-0.8" width="2.3" height="1.6" fill="#e6e61e" opacity="0.76" transform="translate(-21.1,58.4) rotate(35)"/><rect x="-0.7" y="-1.1" width="1.5" height="2.2" fill="#e6e61e" opacity="0.86" transform="translate(57.4,36.1) rotate(33)"/><rect x="-0.8" y="-0.7" width="1.6" height="1.4" fill="#e6e61e" opacity="0.82" transform="translate(0.3,102.1) rotate(26)"/><rect x="-1.3" y="-0.8" width="2.6" height="1.5" fill="#e6e61e" opacity="0.88" transform="translate(14.2,58.1) rotate(32)"/><rect x="-1.6" y="-0.8" width="3.1" height="1.7" fill="#e6e61e" opacity="0.71" transform="translate(80.8,90.4) rotate(21)"/><rect x="-0.8" y="-0.6" width="1.6" height="1.3" fill="#e6e61e" opacity="0.75" transform="translate(-0.4,132.6) rotate(25)"/><rect x="-1.5" y="-0.9" width="3.0" height="1.9" fill="#e6e61e" opacity="0.55" transform="translate(-9.0,88.3) rotate(36)"/><rect x="-1.1" y="-0.9" width="2.2" height="1.8" fill="#e6e61e" opacity="0.64" transform="translate(-2.7,99.8) rotate(20)"/><rect x="-0.7" y="-1.0" width="1.4" height="2.1" fill="#e6e61e" opacity="0.85" transform="translate(1.9,75.5) rotate(-66)"/><rect x="-1.4" y="-0.9" width="2.9" height="1.8" fill="#e6e61e" opacity="0.75" transform="translate(102.3,80.7) rotate(-57)"/><rect x="-0.7" y="-1.1" width="1.3" height="2.2" fill="#e6e61e" opacity="0.60" transform="translate(-32.1,55.9) rotate(36)"/><rect x="-1.5" y="-1.0" width="3.1" height="2.1" fill="#e6e61e" opacity="0.73" transform="translate(38.5,46.3) rotate(35)"/><rect x="-1.4" y="-0.8" width="2.8" height="1.7" fill="#e6e61e" opacity="0.89" transform="translate(18.0,111.2) rotate(22)"/><rect x="-1.5" y="-0.7" width="2.9" height="1.4" fill="#e6e61e" opacity="0.85" transform="translate(29.0,30.6) rotate(-65)"/><rect x="-1.3" y="-1.1" width="2.6" height="2.1" fill="#e6e61e" opacity="0.64" transform="translate(58.0,72.9) rotate(21)"/><rect x="-0.7" y="-1.0" width="1.4" height="2.0" fill="#e6e61e" opacity="0.83" transform="translate(-16.6,91.9) rotate(-69)"/><rect x="-1.6" y="-0.6" width="3.2" height="1.2" fill="#e6e61e" opacity="0.74" transform="translate(60.0,92.6) rotate(31)"/><rect x="-1.4" y="-0.7" width="2.7" height="1.4" fill="#e6e61e" opacity="0.76" transform="translate(9.3,115.0) rotate(-61)"/><rect x="-1.1" y="-0.7" width="2.2" height="1.4" fill="#e6e61e" opacity="0.63" transform="translate(34.7,156.7) rotate(-60)"/><rect x="-0.7" y="-1.1" width="1.3" height="2.2" fill="#e6e61e" opacity="0.63" transform="translate(5.5,48.8) rotate(-60)"/><rect x="-1.5" y="-1.1" width="3.0" height="2.1" fill="#e6e61e" opacity="0.89" transform="translate(-17.4,29.2) rotate(-58)"/><rect x="-0.9" y="-0.9" width="1.8" height="1.9" fill="#e6e61e" opacity="0.66" transform="translate(51.8,93.4) rotate(-70)"/><rect x="-0.7" y="-0.7" width="1.4" height="1.5" fill="#e6e61e" opacity="0.75" transform="translate(-57.4,104.5) rotate(24)"/><rect x="-1.1" y="-0.9" width="2.1" height="1.9" fill="#e6e61e" opacity="0.68" transform="translate(15.0,158.1) rotate(29)"/><rect x="-0.8" y="-1.1" width="1.6" height="2.1" fill="#e6e61e" opacity="0.86" transform="translate(17.0,13.5) rotate(-56)"/><rect x="-0.8" y="-0.6" width="1.6" height="1.2" fill="#4ccc1c" opacity="0.61" transform="translate(77.1,122.3) rotate(-62)"/><rect x="-1.3" y="-1.0" width="2.7" height="2.0" fill="#4ccc1c" opacity="0.65" transform="translate(5.7,119.7) rotate(-58)"/><rect x="-1.2" y="-1.1" width="2.5" height="2.3" fill="#4ccc1c" opacity="0.78" transform="translate(35.3,106.6) rotate(31)"/><rect x="-1.7" y="-0.9" width="3.4" height="1.7" fill="#4ccc1c" opacity="0.72" transform="translate(-15.4,121.5) rotate(-61)"/><rect x="-0.8" y="-0.8" width="1.7" height="1.6" fill="#4ccc1c" opacity="0.56" transform="translate(24.7,34.2) rotate(32)"/><rect x="-0.9" y="-0.6" width="1.8" height="1.2" fill="#4ccc1c" opacity="0.49" transform="translate(-32.2,124.9) rotate(-60)"/><rect x="-1.4" y="-0.7" width="2.9" height="1.4" fill="#4ccc1c" opacity="0.50" transform="translate(73.6,99.8) rotate(28)"/><rect x="-0.9" y="-0.7" width="1.8" height="1.4" fill="#4ccc1c" opacity="0.68" transform="translate(-40.1,122.0) rotate(32)"/><rect x="-1.7" y="-0.6" width="3.4" height="1.3" fill="#4ccc1c" opacity="0.78" transform="translate(-17.0,63.8) rotate(24)"/><rect x="-1.0" y="-1.0" width="1.9" height="2.1" fill="#4ccc1c" opacity="0.57" transform="translate(-62.9,112.1) rotate(-65)"/><rect x="-1.0" y="-1.0" width="1.9" height="2.1" fill="#4ccc1c" opacity="0.63" transform="translate(91.3,58.4) rotate(24)"/><rect x="-0.9" y="-0.8" width="1.7" height="1.7" fill="#4ccc1c" opacity="0.66" transform="translate(68.1,103.5) rotate(-61)"/><rect x="-1.6" y="-1.2" width="3.2" height="2.3" fill="#4ccc1c" opacity="0.59" transform="translate(6.9,109.7) rotate(-66)"/><rect x="-1.1" y="-0.7" width="2.3" height="1.3" fill="#4ccc1c" opacity="0.70" transform="translate(74.0,111.2) rotate(-64)"/><rect x="-1.1" y="-1.1" width="2.2" height="2.3" fill="#4ccc1c" opacity="0.65" transform="translate(75.9,59.0) rotate(21)"/><rect x="-1.1" y="-1.1" width="2.2" height="2.1" fill="#4ccc1c" opacity="0.66" transform="translate(28.4,33.9) rotate(24)"/><rect x="-1.4" y="-1.2" width="2.8" height="2.3" fill="#4ccc1c" opacity="0.64" transform="translate(-32.6,103.4) rotate(34)"/><rect x="-1.3" y="-1.0" width="2.6" height="2.0" fill="#4ccc1c" opacity="0.60" transform="translate(-12.2,66.9) rotate(-65)"/><rect x="-1.1" y="-1.2" width="2.3" height="2.4" fill="#4ccc1c" opacity="0.54" transform="translate(-49.6,80.3) rotate(-64)"/><rect x="-1.4" y="-1.0" width="2.9" height="2.0" fill="#4ccc1c" opacity="0.71" transform="translate(6.2,64.0) rotate(34)"/><rect x="-1.5" y="-0.9" width="3.0" height="1.8" fill="#4ccc1c" opacity="0.56" transform="translate(53.6,101.0) rotate(-64)"/><rect x="-1.0" y="-1.0" width="2.0" height="2.0" fill="#4ccc1c" opacity="0.79" transform="translate(-14.3,75.7) rotate(-58)"/><rect x="-1.7" y="-1.0" width="3.4" height="2.1" fill="#4ccc1c" opacity="0.75" transform="translate(52.2,142.0) rotate(-55)"/><rect x="-1.2" y="-0.7" width="2.5" height="1.5" fill="#4ccc1c" opacity="0.70" transform="translate(-54.2,105.2) rotate(-65)"/><rect x="-1.3" y="-0.8" width="2.7" height="1.7" fill="#4ccc1c" opacity="0.78" transform="translate(-17.3,93.0) rotate(31)"/><rect x="-1.5" y="-0.6" width="3.0" height="1.3" fill="#4ccc1c" opacity="0.70" transform="translate(35.1,47.4) rotate(-66)"/><rect x="-1.3" y="-0.6" width="2.7" height="1.3" fill="#4ccc1c" opacity="0.58" transform="translate(-51.1,117.3) rotate(28)"/><rect x="-1.4" y="-0.8" width="2.7" height="1.6" fill="#4ccc1c" opacity="0.58" transform="translate(3.1,39.7) rotate(29)"/><rect x="-1.4" y="-0.9" width="2.7" height="1.7" fill="#4ccc1c" opacity="0.58" transform="translate(7.7,23.7) rotate(-69)"/><rect x="-1.2" y="-0.8" width="2.5" height="1.6" fill="#4ccc1c" opacity="0.58" transform="translate(-5.9,125.1) rotate(-60)"/><rect x="-1.7" y="-1.0" width="3.4" height="2.1" fill="#4ccc1c" opacity="0.69" transform="translate(38.1,113.1) rotate(31)"/><rect x="-0.9" y="-0.7" width="1.8" height="1.4" fill="#4ccc1c" opacity="0.65" transform="translate(91.5,74.7) rotate(-65)"/><rect x="-1.5" y="-0.9" width="3.0" height="1.8" fill="#4ccc1c" opacity="0.69" transform="translate(-18.0,94.8) rotate(-59)"/><rect x="-1.3" y="-0.6" width="2.5" height="1.3" fill="#4ccc1c" opacity="0.57" transform="translate(23.0,62.4) rotate(28)"/><rect x="-1.5" y="-1.2" width="2.9" height="2.3" fill="#4ccc1c" opacity="0.67" transform="translate(10.6,69.1) rotate(-65)"/><rect x="-1.6" y="-0.7" width="3.2" height="1.4" fill="#4ccc1c" opacity="0.77" transform="translate(-14.0,48.0) rotate(-67)"/><rect x="-1.2" y="-1.2" width="2.3" height="2.3" fill="#4ccc1c" opacity="0.79" transform="translate(47.8,113.0) rotate(-56)"/><rect x="-0.8" y="-1.1" width="1.5" height="2.2" fill="#4ccc1c" opacity="0.63" transform="translate(-50.4,111.1) rotate(-56)"/><rect x="-1.1" y="-0.8" width="2.3" height="1.6" fill="#4ccc1c" opacity="0.67" transform="translate(55.9,88.5) rotate(21)"/><rect x="-1.1" y="-0.7" width="2.1" height="1.5" fill="#4ccc1c" opacity="0.75" transform="translate(12.3,66.7) rotate(-70)"/></g>
<rect x="-100" y="-100" width="310" height="310" transform="rotate(28)" filter="url(#spLightG)" opacity="0.4"/>
<line x1="-59.3" y1="96.4" x2="56" y2="165.5" stroke="#e8284a" stroke-width="2.1"/>
</g>
<line x1="56" y1="165.5" x2="134.9" y2="142.4" stroke="#e82a40" stroke-width="1.1"/>
<polygon points="143.5,139.9 135.6,145.1 134.1,139.7" fill="#e82a40"/>
</g>
<g transform="translate(571.2,243.1)">
<g clip-path="url(#tp)">
<rect x="-100" y="-100" width="310" height="310" transform="rotate(28)" filter="url(#texE)"/>
<polygon points="-52,86 -36,74 -22,82 -24,100 -46,110 -58,98" fill="#a0760a" opacity="0.85" filter="url(#blur05)"/>
<polygon points="-70,113 -58,98 -38,110 -36,128 -52,124" fill="#b07e0a" opacity="0.7"/>
<polygon points="58,104 82,112 92,126 84,136 64,122" fill="#b07e0a" opacity="0.7" filter="url(#blur05)"/>
<polygon points="-6,10 10,4 26,16 22,30 6,34 -8,24" fill="#86620a" opacity="0.85" filter="url(#blur05)"/>
<polygon points="-3,14 8,12 10,24 0,26" fill="#c8920c" opacity="0.8"/>
<line x1="-27.6" y1="35.4" x2="-2.0" y2="46.9" stroke="#8a660c" stroke-width="0.5" opacity="0.45"/><line x1="15.4" y1="102.9" x2="60.1" y2="124.3" stroke="#8a660c" stroke-width="0.5" opacity="0.42"/><line x1="-28.1" y1="84.0" x2="-18.0" y2="62.0" stroke="#8a660c" stroke-width="0.5" opacity="0.51"/><line x1="96.9" y1="55.8" x2="121.0" y2="64.6" stroke="#8a660c" stroke-width="0.5" opacity="0.28"/><line x1="20.1" y1="112.4" x2="66.0" y2="134.0" stroke="#8a660c" stroke-width="0.5" opacity="0.46"/><line x1="60.0" y1="81.3" x2="41.1" y2="123.4" stroke="#8a660c" stroke-width="0.5" opacity="0.44"/><line x1="21.0" y1="41.8" x2="35.6" y2="16.9" stroke="#8a660c" stroke-width="0.5" opacity="0.40"/><line x1="34.9" y1="41.1" x2="50.6" y2="13.5" stroke="#8a660c" stroke-width="0.5" opacity="0.53"/><line x1="-22.3" y1="36.3" x2="-32.4" y2="59.1" stroke="#8a660c" stroke-width="0.5" opacity="0.23"/><line x1="22.0" y1="107.7" x2="48.3" y2="119.1" stroke="#8a660c" stroke-width="0.5" opacity="0.29"/><line x1="9.8" y1="136.5" x2="22.1" y2="112.8" stroke="#8a660c" stroke-width="0.5" opacity="0.49"/><line x1="84.8" y1="76.2" x2="105.2" y2="47.1" stroke="#8a660c" stroke-width="0.5" opacity="0.47"/><line x1="104.0" y1="79.9" x2="118.0" y2="49.8" stroke="#8a660c" stroke-width="0.5" opacity="0.24"/><line x1="25.5" y1="146.6" x2="42.3" y2="122.7" stroke="#8a660c" stroke-width="0.5" opacity="0.47"/><line x1="-39.6" y1="125.0" x2="5.4" y2="140.8" stroke="#8a660c" stroke-width="0.5" opacity="0.26"/><line x1="-33.5" y1="141.6" x2="-10.6" y2="101.5" stroke="#8a660c" stroke-width="0.5" opacity="0.52"/><line x1="2.8" y1="123.3" x2="35.2" y2="137.5" stroke="#8a660c" stroke-width="0.5" opacity="0.53"/><line x1="-8.1" y1="112.5" x2="-23.2" y2="155.1" stroke="#8a660c" stroke-width="0.5" opacity="0.30"/><line x1="63.7" y1="148.7" x2="78.0" y2="128.3" stroke="#8a660c" stroke-width="0.5" opacity="0.28"/><line x1="43.0" y1="77.5" x2="28.2" y2="113.7" stroke="#8a660c" stroke-width="0.5" opacity="0.40"/><line x1="18.9" y1="35.0" x2="50.2" y2="51.9" stroke="#8a660c" stroke-width="0.5" opacity="0.27"/><line x1="-42.2" y1="81.9" x2="-18.7" y2="39.1" stroke="#8a660c" stroke-width="0.5" opacity="0.39"/><line x1="-29.4" y1="80.9" x2="-13.0" y2="55.9" stroke="#8a660c" stroke-width="0.5" opacity="0.28"/><line x1="-17.0" y1="109.1" x2="10.5" y2="121.1" stroke="#8a660c" stroke-width="0.5" opacity="0.26"/><line x1="-41.4" y1="110.6" x2="-22.6" y2="67.1" stroke="#8a660c" stroke-width="0.5" opacity="0.31"/><line x1="-6.5" y1="119.1" x2="8.3" y2="125.2" stroke="#8a660c" stroke-width="0.5" opacity="0.30"/><line x1="-13.3" y1="116.4" x2="32.0" y2="135.7" stroke="#8a660c" stroke-width="0.5" opacity="0.41"/><line x1="102.3" y1="74.1" x2="114.9" y2="51.8" stroke="#8a660c" stroke-width="0.5" opacity="0.49"/><line x1="-6.4" y1="83.3" x2="-19.2" y2="110.8" stroke="#8a660c" stroke-width="0.5" opacity="0.40"/><line x1="18.0" y1="109.8" x2="7.6" y2="137.8" stroke="#8a660c" stroke-width="0.5" opacity="0.24"/>
<line x1="-45.2" y1="75.6" x2="83.8" y2="119.6" stroke="#86620a" stroke-width="0.8" opacity="0.85"/>
<line x1="12.9" y1="89.8" x2="75.3" y2="43.0" stroke="#86620a" stroke-width="0.6" opacity="0.7"/>
<g filter="url(#blur04)"><g filter="url(#roughE)"><rect x="-5.2" y="-2.9" width="10.3" height="5.8" rx="0.8" fill="#7e5c06" opacity="1" transform="translate(-6.4,17.5) rotate(60)"/><rect x="-4.0" y="-2.3" width="8.0" height="4.6" rx="0.8" fill="#7e5c06" opacity="1" transform="translate(1.0,26.8) rotate(20)"/><rect x="-5.2" y="-2.6" width="10.3" height="5.2" rx="0.8" fill="#7e5c06" opacity="1" transform="translate(17.2,15.5) rotate(-55)"/><rect x="-3.7" y="-2.3" width="7.5" height="4.6" rx="0.8" fill="#7e5c06" opacity="1" transform="translate(15.2,29.7) rotate(60)"/><rect x="-7.3" y="-2.6" width="14.6" height="5.2" rx="0.8" fill="#7e5c06" opacity="1" transform="translate(37.0,31.7) rotate(80)"/><rect x="-6.6" y="-2.6" width="13.1" height="5.2" rx="0.8" fill="#7e5c06" opacity="1" transform="translate(58.3,40.2) rotate(80)"/><rect x="-5.9" y="-2.3" width="11.7" height="4.6" rx="0.8" fill="#7e5c06" opacity="1" transform="translate(-15.5,41.0) rotate(20)"/><rect x="-6.6" y="-2.3" width="13.1" height="4.6" rx="0.8" fill="#7e5c06" opacity="1" transform="translate(-5.5,47.3) rotate(70)"/><rect x="-8.0" y="-2.0" width="16.0" height="4.1" rx="0.8" fill="#7e5c06" opacity="1" transform="translate(12.9,48.7) rotate(-30)"/><rect x="-5.2" y="-2.9" width="10.3" height="5.8" rx="0.8" fill="#7e5c06" opacity="1" transform="translate(2.1,56.3) rotate(30)"/><rect x="-5.9" y="-2.6" width="11.7" height="5.2" rx="0.8" fill="#7e5c06" opacity="1" transform="translate(3.0,65.7) rotate(80)"/><rect x="-8.7" y="-2.9" width="17.4" height="5.8" rx="0.8" fill="#7e5c06" opacity="1" transform="translate(-21.1,64.3) rotate(20)"/><rect x="-6.6" y="-2.6" width="13.1" height="5.2" rx="0.8" fill="#7e5c06" opacity="1" transform="translate(42.7,52.9) rotate(-50)"/><rect x="-5.2" y="-2.6" width="10.3" height="5.2" rx="0.8" fill="#7e5c06" opacity="1" transform="translate(69.6,54.4) rotate(-30)"/><rect x="-8.0" y="-2.9" width="16.0" height="5.8" rx="0.8" fill="#7e5c06" opacity="1" transform="translate(83.8,61.4) rotate(70)"/><rect x="-4.4" y="-2.3" width="8.9" height="4.6" rx="0.8" fill="#7e5c06" opacity="1" transform="translate(92.3,54.4) rotate(80)"/><rect x="-3.7" y="-2.3" width="7.5" height="4.6" rx="0.8" fill="#7e5c06" opacity="1" transform="translate(100.8,58.6) rotate(-20)"/><rect x="-5.2" y="-2.9" width="10.3" height="5.8" rx="0.8" fill="#7e5c06" opacity="1" transform="translate(110.8,65.7) rotate(80)"/><rect x="-5.9" y="-2.6" width="11.7" height="5.2" rx="0.8" fill="#7e5c06" opacity="1" transform="translate(64.8,72.2) rotate(80)"/><rect x="-6.6" y="-2.3" width="13.1" height="4.6" rx="0.8" fill="#7e5c06" opacity="1" transform="translate(85.2,84.1) rotate(85)"/><rect x="-5.2" y="-2.3" width="10.3" height="4.6" rx="0.8" fill="#7e5c06" opacity="1" transform="translate(93.8,98.3) rotate(15)"/><rect x="-7.3" y="-2.6" width="14.6" height="5.2" rx="0.8" fill="#7e5c06" opacity="1" transform="translate(37.0,79.9) rotate(-40)"/><rect x="-8.0" y="-2.3" width="16.0" height="4.6" rx="0.8" fill="#7e5c06" opacity="1" transform="translate(25.7,92.7) rotate(70)"/><rect x="-5.2" y="-2.6" width="10.3" height="5.2" rx="0.8" fill="#7e5c06" opacity="1" transform="translate(42.7,91.2) rotate(80)"/><rect x="-6.6" y="-2.0" width="13.1" height="4.1" rx="0.8" fill="#7e5c06" opacity="1" transform="translate(32.8,96.1) rotate(-20)"/><rect x="-5.2" y="-2.9" width="10.3" height="5.8" rx="0.8" fill="#7e5c06" opacity="1" transform="translate(50.4,104.0) rotate(60)"/><rect x="-9.4" y="-2.3" width="18.8" height="4.6" rx="0.8" fill="#7e5c06" opacity="1" transform="translate(66.8,105.4) rotate(80)"/><rect x="-4.4" y="-2.6" width="8.9" height="5.2" rx="0.8" fill="#7e5c06" opacity="1" transform="translate(-50.9,87.0) rotate(50)"/><rect x="-3.7" y="-2.9" width="7.5" height="5.8" rx="0.8" fill="#7e5c06" opacity="1" transform="translate(-59.4,105.4) rotate(80)"/><rect x="-5.2" y="-2.6" width="10.3" height="5.2" rx="0.8" fill="#7e5c06" opacity="1" transform="translate(-41.0,102.6) rotate(20)"/><rect x="-4.4" y="-2.6" width="8.9" height="5.2" rx="0.8" fill="#7e5c06" opacity="1" transform="translate(-28.2,104.6) rotate(10)"/><rect x="-5.9" y="-2.3" width="11.7" height="4.6" rx="0.8" fill="#7e5c06" opacity="1" transform="translate(-16.9,101.2) rotate(85)"/><rect x="-5.2" y="-2.6" width="10.3" height="5.2" rx="0.8" fill="#7e5c06" opacity="1" transform="translate(-1.3,102.6) rotate(85)"/><rect x="-4.4" y="-2.6" width="8.9" height="5.2" rx="0.8" fill="#7e5c06" opacity="1" transform="translate(12.9,105.4) rotate(80)"/><rect x="-4.4" y="-2.6" width="8.9" height="5.2" rx="0.8" fill="#7e5c06" opacity="1" transform="translate(-15.5,118.8) rotate(0)"/><rect x="-3.7" y="-2.6" width="7.5" height="5.2" rx="0.8" fill="#7e5c06" opacity="1" transform="translate(-4.1,119.6) rotate(80)"/><rect x="-4.4" y="-2.3" width="8.9" height="4.6" rx="0.8" fill="#7e5c06" opacity="1" transform="translate(19.1,116.8) rotate(80)"/><rect x="-7.3" y="-2.3" width="14.6" height="4.6" rx="0.8" fill="#7e5c06" opacity="1" transform="translate(-19.7,128.1) rotate(80)"/><rect x="-10.8" y="-2.9" width="21.7" height="5.8" rx="0.8" fill="#7e5c06" opacity="1" transform="translate(22.8,133.8) rotate(-55)"/><rect x="-9.4" y="-2.6" width="18.8" height="5.2" rx="0.8" fill="#7e5c06" opacity="1" transform="translate(10.1,149.4) rotate(-60)"/><rect x="-5.2" y="-2.3" width="10.3" height="4.6" rx="0.8" fill="#7e5c06" opacity="1" transform="translate(-7.0,140.9) rotate(85)"/><rect x="-4.4" y="-2.9" width="8.9" height="5.8" rx="0.8" fill="#7e5c06" opacity="1" transform="translate(18.6,143.7) rotate(-10)"/><rect x="-8.0" y="-2.0" width="16.0" height="4.1" rx="0.8" fill="#7e5c06" opacity="1" transform="translate(48.4,123.9) rotate(5)"/><rect x="-6.6" y="-2.0" width="13.1" height="4.1" rx="0.8" fill="#7e5c06" opacity="1" transform="translate(39.9,131.0) rotate(85)"/><rect x="-5.2" y="-2.0" width="10.3" height="4.1" rx="0.8" fill="#7e5c06" opacity="1" transform="translate(55.5,129.5) rotate(80)"/><rect x="-5.2" y="-2.3" width="10.3" height="4.6" rx="0.8" fill="#7e5c06" opacity="1" transform="translate(69.6,135.2) rotate(80)"/><rect x="-6.6" y="-2.6" width="13.1" height="5.2" rx="0.8" fill="#7e5c06" opacity="1" transform="translate(46.9,145.1) rotate(75)"/><rect x="-5.2" y="-2.9" width="10.3" height="5.8" rx="0.8" fill="#7e5c06" opacity="1" transform="translate(55.5,159.3) rotate(-10)"/><rect x="-4.4" y="-2.3" width="8.9" height="4.6" rx="0.8" fill="#7e5c06" opacity="1" transform="translate(48.4,172.1) rotate(80)"/></g></g>
<g filter="url(#roughE)"><rect x="-1.6" y="-1.4" width="3.1" height="2.7" fill="#7e5c06" opacity="0.76" transform="translate(-8.5,115.8) rotate(-61)"/><rect x="-1.3" y="-1.1" width="2.6" height="2.2" fill="#7e5c06" opacity="0.88" transform="translate(-49.9,111.1) rotate(22)"/><rect x="-1.4" y="-1.0" width="2.9" height="1.9" fill="#7e5c06" opacity="0.71" transform="translate(78.8,88.7) rotate(25)"/><rect x="-0.8" y="-1.4" width="1.5" height="2.7" fill="#7e5c06" opacity="0.84" transform="translate(19.7,126.4) rotate(32)"/><rect x="-1.5" y="-1.1" width="2.9" height="2.3" fill="#7e5c06" opacity="0.86" transform="translate(-33.7,127.2) rotate(32)"/><rect x="-0.9" y="-1.0" width="1.7" height="2.1" fill="#7e5c06" opacity="0.64" transform="translate(71.2,43.6) rotate(-67)"/><rect x="-1.8" y="-1.3" width="3.6" height="2.5" fill="#7e5c06" opacity="0.64" transform="translate(82.5,101.8) rotate(31)"/><rect x="-1.1" y="-1.3" width="2.2" height="2.7" fill="#7e5c06" opacity="0.65" transform="translate(45.3,37.0) rotate(-61)"/><rect x="-1.2" y="-0.9" width="2.4" height="1.8" fill="#7e5c06" opacity="0.71" transform="translate(-23.2,74.7) rotate(-54)"/><rect x="-1.1" y="-0.9" width="2.2" height="1.8" fill="#7e5c06" opacity="0.80" transform="translate(-29.2,74.6) rotate(21)"/><rect x="-1.3" y="-1.3" width="2.5" height="2.6" fill="#7e5c06" opacity="0.66" transform="translate(81.3,48.0) rotate(-61)"/><rect x="-1.3" y="-1.2" width="2.6" height="2.3" fill="#7e5c06" opacity="0.90" transform="translate(-5.9,50.7) rotate(-62)"/><rect x="-0.8" y="-1.3" width="1.6" height="2.5" fill="#7e5c06" opacity="0.55" transform="translate(-12.0,117.6) rotate(31)"/><rect x="-1.4" y="-1.3" width="2.8" height="2.5" fill="#7e5c06" opacity="0.68" transform="translate(-9.3,121.2) rotate(-55)"/><rect x="-1.4" y="-1.3" width="2.8" height="2.6" fill="#7e5c06" opacity="0.82" transform="translate(-4.0,93.9) rotate(-55)"/><rect x="-1.4" y="-1.0" width="2.8" height="2.0" fill="#7e5c06" opacity="0.76" transform="translate(-21.1,58.4) rotate(35)"/><rect x="-0.9" y="-1.4" width="1.8" height="2.8" fill="#7e5c06" opacity="0.86" transform="translate(57.4,36.1) rotate(33)"/><rect x="-1.0" y="-0.9" width="2.0" height="1.8" fill="#7e5c06" opacity="0.82" transform="translate(0.3,102.1) rotate(26)"/><rect x="-1.6" y="-1.0" width="3.3" height="1.9" fill="#7e5c06" opacity="0.88" transform="translate(14.2,58.1) rotate(32)"/><rect x="-1.9" y="-1.1" width="3.9" height="2.1" fill="#7e5c06" opacity="0.71" transform="translate(80.8,90.4) rotate(21)"/><rect x="-1.0" y="-0.8" width="2.0" height="1.6" fill="#7e5c06" opacity="0.75" transform="translate(-0.4,132.6) rotate(25)"/><rect x="-1.9" y="-1.2" width="3.8" height="2.4" fill="#7e5c06" opacity="0.55" transform="translate(-9.0,88.3) rotate(36)"/><rect x="-1.4" y="-1.1" width="2.8" height="2.3" fill="#7e5c06" opacity="0.64" transform="translate(-2.7,99.8) rotate(20)"/><rect x="-0.9" y="-1.3" width="1.7" height="2.6" fill="#7e5c06" opacity="0.85" transform="translate(1.9,75.5) rotate(-66)"/><rect x="-1.8" y="-1.1" width="3.6" height="2.2" fill="#7e5c06" opacity="0.75" transform="translate(102.3,80.7) rotate(-57)"/><rect x="-0.8" y="-1.4" width="1.6" height="2.8" fill="#7e5c06" opacity="0.60" transform="translate(-32.1,55.9) rotate(36)"/><rect x="-1.9" y="-1.3" width="3.9" height="2.6" fill="#7e5c06" opacity="0.73" transform="translate(38.5,46.3) rotate(35)"/><rect x="-1.8" y="-1.0" width="3.5" height="2.1" fill="#7e5c06" opacity="0.89" transform="translate(18.0,111.2) rotate(22)"/><rect x="-1.8" y="-0.9" width="3.7" height="1.8" fill="#7e5c06" opacity="0.85" transform="translate(29.0,30.6) rotate(-65)"/><rect x="-1.6" y="-1.3" width="3.2" height="2.7" fill="#7e5c06" opacity="0.64" transform="translate(58.0,72.9) rotate(21)"/><rect x="-0.9" y="-1.3" width="1.8" height="2.6" fill="#7e5c06" opacity="0.83" transform="translate(-16.6,91.9) rotate(-69)"/><rect x="-2.0" y="-0.8" width="4.0" height="1.5" fill="#7e5c06" opacity="0.74" transform="translate(60.0,92.6) rotate(31)"/><rect x="-1.7" y="-0.9" width="3.4" height="1.7" fill="#7e5c06" opacity="0.76" transform="translate(9.3,115.0) rotate(-61)"/><rect x="-1.4" y="-0.9" width="2.8" height="1.8" fill="#7e5c06" opacity="0.63" transform="translate(34.7,156.7) rotate(-60)"/><rect x="-0.8" y="-1.3" width="1.7" height="2.7" fill="#7e5c06" opacity="0.63" transform="translate(5.5,48.8) rotate(-60)"/><rect x="-1.9" y="-1.3" width="3.8" height="2.6" fill="#7e5c06" opacity="0.89" transform="translate(-17.4,29.2) rotate(-58)"/><rect x="-1.1" y="-1.2" width="2.3" height="2.3" fill="#7e5c06" opacity="0.66" transform="translate(51.8,93.4) rotate(-70)"/><rect x="-0.9" y="-0.9" width="1.7" height="1.9" fill="#7e5c06" opacity="0.75" transform="translate(-57.4,104.5) rotate(24)"/><rect x="-1.3" y="-1.2" width="2.7" height="2.3" fill="#7e5c06" opacity="0.68" transform="translate(15.0,158.1) rotate(29)"/><rect x="-1.0" y="-1.3" width="2.0" height="2.6" fill="#7e5c06" opacity="0.86" transform="translate(17.0,13.5) rotate(-56)"/><rect x="-1.1" y="-0.8" width="2.2" height="1.6" fill="#86620a" opacity="0.68" transform="translate(77.1,122.3) rotate(-62)"/><rect x="-1.9" y="-1.4" width="3.7" height="2.8" fill="#86620a" opacity="0.74" transform="translate(5.7,119.7) rotate(-58)"/><rect x="-1.7" y="-1.6" width="3.4" height="3.2" fill="#86620a" opacity="0.88" transform="translate(35.3,106.6) rotate(31)"/><rect x="-2.4" y="-1.2" width="4.8" height="2.4" fill="#86620a" opacity="0.82" transform="translate(-15.4,121.5) rotate(-61)"/><rect x="-1.1" y="-1.0" width="2.2" height="2.1" fill="#86620a" opacity="0.63" transform="translate(24.7,34.2) rotate(32)"/><rect x="-1.2" y="-0.8" width="2.4" height="1.6" fill="#86620a" opacity="0.55" transform="translate(-32.2,124.9) rotate(-60)"/><rect x="-2.0" y="-0.9" width="4.0" height="1.8" fill="#86620a" opacity="0.56" transform="translate(73.6,99.8) rotate(28)"/><rect x="-1.2" y="-0.9" width="2.4" height="1.9" fill="#86620a" opacity="0.76" transform="translate(-40.1,122.0) rotate(32)"/><rect x="-2.4" y="-0.8" width="4.9" height="1.6" fill="#86620a" opacity="0.87" transform="translate(-17.0,63.8) rotate(24)"/><rect x="-1.3" y="-1.5" width="2.6" height="2.9" fill="#86620a" opacity="0.64" transform="translate(-62.9,112.1) rotate(-65)"/><rect x="-1.3" y="-1.4" width="2.6" height="2.9" fill="#86620a" opacity="0.70" transform="translate(91.3,58.4) rotate(24)"/><rect x="-1.2" y="-1.1" width="2.3" height="2.2" fill="#86620a" opacity="0.74" transform="translate(68.1,103.5) rotate(-61)"/><rect x="-2.3" y="-1.7" width="4.5" height="3.3" fill="#86620a" opacity="0.67" transform="translate(6.9,109.7) rotate(-66)"/><rect x="-1.6" y="-0.9" width="3.1" height="1.7" fill="#86620a" opacity="0.79" transform="translate(74.0,111.2) rotate(-64)"/><rect x="-1.5" y="-1.6" width="3.0" height="3.2" fill="#86620a" opacity="0.74" transform="translate(75.9,59.0) rotate(21)"/><rect x="-1.5" y="-1.5" width="3.0" height="3.0" fill="#86620a" opacity="0.74" transform="translate(28.4,33.9) rotate(24)"/><rect x="-2.0" y="-1.7" width="3.9" height="3.3" fill="#86620a" opacity="0.72" transform="translate(-32.6,103.4) rotate(34)"/><rect x="-1.8" y="-1.4" width="3.7" height="2.8" fill="#86620a" opacity="0.67" transform="translate(-12.2,66.9) rotate(-65)"/><rect x="-1.6" y="-1.7" width="3.1" height="3.4" fill="#86620a" opacity="0.60" transform="translate(-49.6,80.3) rotate(-64)"/><rect x="-2.0" y="-1.4" width="4.0" height="2.8" fill="#86620a" opacity="0.80" transform="translate(6.2,64.0) rotate(34)"/><rect x="-2.1" y="-1.2" width="4.2" height="2.5" fill="#86620a" opacity="0.63" transform="translate(53.6,101.0) rotate(-64)"/><rect x="-1.4" y="-1.4" width="2.7" height="2.8" fill="#86620a" opacity="0.89" transform="translate(-14.3,75.7) rotate(-58)"/><rect x="-2.4" y="-1.5" width="4.9" height="2.9" fill="#86620a" opacity="0.84" transform="translate(52.2,142.0) rotate(-55)"/><rect x="-1.7" y="-1.0" width="3.4" height="1.9" fill="#86620a" opacity="0.79" transform="translate(-54.2,105.2) rotate(-65)"/><rect x="-1.9" y="-1.1" width="3.7" height="2.2" fill="#86620a" opacity="0.88" transform="translate(-17.3,93.0) rotate(31)"/><rect x="-2.1" y="-0.8" width="4.3" height="1.6" fill="#86620a" opacity="0.79" transform="translate(35.1,47.4) rotate(-66)"/><rect x="-1.9" y="-0.8" width="3.7" height="1.7" fill="#86620a" opacity="0.65" transform="translate(-51.1,117.3) rotate(28)"/><rect x="-1.9" y="-1.0" width="3.8" height="2.1" fill="#86620a" opacity="0.66" transform="translate(3.1,39.7) rotate(29)"/><rect x="-1.9" y="-1.2" width="3.8" height="2.3" fill="#86620a" opacity="0.65" transform="translate(7.7,23.7) rotate(-69)"/><rect x="-1.7" y="-1.1" width="3.4" height="2.1" fill="#86620a" opacity="0.65" transform="translate(-5.9,125.1) rotate(-60)"/><rect x="-2.4" y="-1.4" width="4.9" height="2.9" fill="#86620a" opacity="0.77" transform="translate(38.1,113.1) rotate(31)"/><rect x="-1.2" y="-0.9" width="2.4" height="1.8" fill="#86620a" opacity="0.73" transform="translate(91.5,74.7) rotate(-65)"/><rect x="-2.1" y="-1.2" width="4.3" height="2.4" fill="#86620a" opacity="0.78" transform="translate(-18.0,94.8) rotate(-59)"/><rect x="-1.8" y="-0.8" width="3.5" height="1.6" fill="#86620a" opacity="0.64" transform="translate(23.0,62.4) rotate(28)"/><rect x="-2.1" y="-1.7" width="4.1" height="3.3" fill="#86620a" opacity="0.75" transform="translate(10.6,69.1) rotate(-65)"/><rect x="-2.3" y="-0.9" width="4.6" height="1.8" fill="#86620a" opacity="0.87" transform="translate(-14.0,48.0) rotate(-67)"/><rect x="-1.6" y="-1.7" width="3.2" height="3.3" fill="#86620a" opacity="0.89" transform="translate(47.8,113.0) rotate(-56)"/><rect x="-1.0" y="-1.6" width="2.0" height="3.1" fill="#86620a" opacity="0.71" transform="translate(-50.4,111.1) rotate(-56)"/><rect x="-1.6" y="-1.1" width="3.1" height="2.2" fill="#86620a" opacity="0.76" transform="translate(55.9,88.5) rotate(21)"/><rect x="-1.5" y="-1.0" width="2.9" height="1.9" fill="#86620a" opacity="0.85" transform="translate(12.3,66.7) rotate(-70)"/></g>
<rect x="-100" y="-100" width="310" height="310" transform="rotate(28)" filter="url(#spDarkE)" opacity="0.5"/>
<line x1="-59.3" y1="96.4" x2="56" y2="165.5" stroke="#e8284a" stroke-width="2.1"/>
</g>
<line x1="56" y1="165.5" x2="134.9" y2="142.4" stroke="#e82a40" stroke-width="1.1"/>
<polygon points="143.5,139.9 135.6,145.1 134.1,139.7" fill="#e82a40"/>
</g>
<text x="46.1" y="233.9" font-size="21.5" font-family="Liberation Serif, serif" stroke="#1a1a1a" stroke-width="0.22" fill="#1a1a1a">(a) 2012/05/30</text>
<text x="45.9" y="447.9" font-size="21.5" font-family="Liberation Serif, serif" stroke="#1a1a1a" stroke-width="0.22" fill="#1a1a1a">(b) 2012/06/24</text>
<text x="46.8" y="661.9" font-size="21.5" font-family="Liberation Serif, serif" stroke="#1a1a1a" stroke-width="0.22" fill="#1a1a1a">(c) 2012/07/10</text>
<text x="542.5" y="232.8" font-size="21.5" font-family="Liberation Serif, serif" stroke="#1a1a1a" stroke-width="0.22" fill="#1a1a1a">(d) 2012/08/11</text>
<text x="543.5" y="447.8" font-size="21.5" font-family="Liberation Serif, serif" stroke="#1a1a1a" stroke-width="0.22" fill="#1a1a1a">(e) 2012/09/12</text>
<line x1="305" y1="23" x2="305" y2="29.6" stroke="#3a3a3a" stroke-width="0.9"/>
<polygon points="305,20.6 303.3,24.8 306.7,24.8" fill="#111"/>
<line x1="305" y1="30.5" x2="305" y2="606" stroke="#3a3a3a" stroke-width="1.35" stroke-dasharray="7 9.03"/>
<line x1="305" y1="599.2" x2="305" y2="606" stroke="#3a3a3a" stroke-width="1.35"/>
<line x1="351.8" y1="23" x2="351.8" y2="29.6" stroke="#3a3a3a" stroke-width="0.9"/>
<polygon points="351.8,20.6 350.1,24.8 353.5,24.8" fill="#111"/>
<line x1="351.8" y1="30.5" x2="351.8" y2="606" stroke="#3a3a3a" stroke-width="1.35" stroke-dasharray="7 9.03"/>
<line x1="351.8" y1="599.2" x2="351.8" y2="606" stroke="#3a3a3a" stroke-width="1.35"/>
<line x1="387.4" y1="23" x2="387.4" y2="29.6" stroke="#3a3a3a" stroke-width="0.9"/>
<polygon points="387.4,20.6 385.7,24.8 389.09999999999997,24.8" fill="#111"/>
<line x1="387.4" y1="30.5" x2="387.4" y2="606" stroke="#3a3a3a" stroke-width="1.35" stroke-dasharray="7 9.03"/>
<line x1="387.4" y1="599.2" x2="387.4" y2="606" stroke="#3a3a3a" stroke-width="1.35"/>
<line x1="429" y1="23" x2="429" y2="29.6" stroke="#3a3a3a" stroke-width="0.9"/>
<polygon points="429,20.6 427.3,24.8 430.7,24.8" fill="#111"/>
<line x1="429" y1="30.5" x2="429" y2="606" stroke="#3a3a3a" stroke-width="1.35" stroke-dasharray="7 9.03"/>
<line x1="429" y1="599.2" x2="429" y2="606" stroke="#3a3a3a" stroke-width="1.35"/>
<line x1="448.2" y1="23" x2="448.2" y2="29.6" stroke="#3a3a3a" stroke-width="0.9"/>
<polygon points="448.2,20.6 446.5,24.8 449.9,24.8" fill="#111"/>
<line x1="448.2" y1="30.5" x2="448.2" y2="606" stroke="#3a3a3a" stroke-width="1.35" stroke-dasharray="7 9.03"/>
<line x1="448.2" y1="599.2" x2="448.2" y2="606" stroke="#3a3a3a" stroke-width="1.35"/>
<line x1="461.6" y1="30.5" x2="461.6" y2="606" stroke="#3a3a3a" stroke-width="1.35" stroke-dasharray="7 9.03"/>
<line x1="461.6" y1="599.2" x2="461.6" y2="606" stroke="#3a3a3a" stroke-width="1.35"/>
<line x1="475.6" y1="23" x2="475.6" y2="29.6" stroke="#3a3a3a" stroke-width="0.9"/>
<polygon points="475.6,20.6 473.90000000000003,24.8 477.3,24.8" fill="#111"/>
<line x1="475.6" y1="30.5" x2="475.6" y2="606" stroke="#3a3a3a" stroke-width="1.35" stroke-dasharray="7 9.03"/>
<line x1="475.6" y1="599.2" x2="475.6" y2="606" stroke="#3a3a3a" stroke-width="1.35"/>
<line x1="461.9" y1="34.6" x2="489.5" y2="21.6" stroke="#222" stroke-width="0.9"/>
<polygon points="493.6,19.7 490.3,23.2 488.8,20.0" fill="#111"/>
<text x="290.4" y="14.8" font-size="12.2" font-family="Liberation Serif, serif" stroke="#1a1a1a" stroke-width="0.22" fill="#1a1a1a">Corn</text>
<text x="335.4" y="14.8" font-size="12.2" font-family="Liberation Serif, serif" stroke="#1a1a1a" stroke-width="0.22" fill="#1a1a1a">Village</text>
<text x="374.3" y="14.8" font-size="12.2" font-family="Liberation Serif, serif" stroke="#1a1a1a" stroke-width="0.22" fill="#1a1a1a">Corn</text>
<text x="402.7" y="14.8" font-size="12.2" font-family="Liberation Serif, serif" stroke="#1a1a1a" stroke-width="0.22" fill="#1a1a1a">Village</text>
<text x="441.6" y="14.8" font-size="12.2" font-family="Liberation Serif, serif" stroke="#1a1a1a" stroke-width="0.22" fill="#1a1a1a">Orchard</text>
<text x="485.6" y="14.8" font-size="12.2" font-family="Liberation Serif, serif" stroke="#1a1a1a" stroke-width="0.22" fill="#1a1a1a">Soybean</text>
<line x1="797.5" y1="23" x2="797.5" y2="29.6" stroke="#3a3a3a" stroke-width="0.9"/>
<polygon points="797.5,20.6 795.8,24.8 799.2,24.8" fill="#111"/>
<line x1="797.5" y1="30.5" x2="797.5" y2="390" stroke="#3a3a3a" stroke-width="1.35" stroke-dasharray="7 9.03"/>
<line x1="844.4" y1="23" x2="844.4" y2="29.6" stroke="#3a3a3a" stroke-width="0.9"/>
<polygon points="844.4,20.6 842.6999999999999,24.8 846.1,24.8" fill="#111"/>
<line x1="844.4" y1="30.5" x2="844.4" y2="390" stroke="#3a3a3a" stroke-width="1.35" stroke-dasharray="7 9.03"/>
<line x1="880" y1="23" x2="880" y2="29.6" stroke="#3a3a3a" stroke-width="0.9"/>
<polygon points="880,20.6 878.3,24.8 881.7,24.8" fill="#111"/>
<line x1="880" y1="30.5" x2="880" y2="390" stroke="#3a3a3a" stroke-width="1.35" stroke-dasharray="7 9.03"/>
<line x1="921.4" y1="23" x2="921.4" y2="29.6" stroke="#3a3a3a" stroke-width="0.9"/>
<polygon points="921.4,20.6 919.6999999999999,24.8 923.1,24.8" fill="#111"/>
<line x1="921.4" y1="30.5" x2="921.4" y2="390" stroke="#3a3a3a" stroke-width="1.35" stroke-dasharray="7 9.03"/>
<line x1="940.8" y1="23" x2="940.8" y2="29.6" stroke="#3a3a3a" stroke-width="0.9"/>
<polygon points="940.8,20.6 939.0999999999999,24.8 942.5,24.8" fill="#111"/>
<line x1="940.8" y1="30.5" x2="940.8" y2="390" stroke="#3a3a3a" stroke-width="1.35" stroke-dasharray="7 9.03"/>
<line x1="954.3" y1="30.5" x2="954.3" y2="390" stroke="#3a3a3a" stroke-width="1.35" stroke-dasharray="7 9.03"/>
<line x1="968.4" y1="23" x2="968.4" y2="29.6" stroke="#3a3a3a" stroke-width="0.9"/>
<polygon points="968.4,20.6 966.6999999999999,24.8 970.1,24.8" fill="#111"/>
<line x1="968.4" y1="30.5" x2="968.4" y2="390" stroke="#3a3a3a" stroke-width="1.35" stroke-dasharray="7 9.03"/>
<line x1="954.6" y1="34.6" x2="982.2" y2="21.6" stroke="#222" stroke-width="0.9"/>
<polygon points="986.3,19.7 983.0,23.2 981.5,20.0" fill="#111"/>
<text x="783.0" y="14.8" font-size="12.2" font-family="Liberation Serif, serif" stroke="#1a1a1a" stroke-width="0.22" fill="#1a1a1a">Corn</text>
<text x="828.0" y="14.8" font-size="12.2" font-family="Liberation Serif, serif" stroke="#1a1a1a" stroke-width="0.22" fill="#1a1a1a">Village</text>
<text x="866.9" y="14.8" font-size="12.2" font-family="Liberation Serif, serif" stroke="#1a1a1a" stroke-width="0.22" fill="#1a1a1a">Corn</text>
<text x="895.3" y="14.8" font-size="12.2" font-family="Liberation Serif, serif" stroke="#1a1a1a" stroke-width="0.22" fill="#1a1a1a">Village</text>
<text x="934.2" y="14.8" font-size="12.2" font-family="Liberation Serif, serif" stroke="#1a1a1a" stroke-width="0.22" fill="#1a1a1a">Orchard</text>
<text x="978.2" y="14.8" font-size="12.2" font-family="Liberation Serif, serif" stroke="#1a1a1a" stroke-width="0.22" fill="#1a1a1a">Soybean</text>
<rect x="270.0" y="42.8" width="223.0" height="131.7" fill="none" stroke="#929292" stroke-width="1.05"/>
<line x1="270.0" y1="174.5" x2="272.2" y2="174.5" stroke="#929292" stroke-width="0.8"/>
<text x="267.6" y="179.6" font-size="15.3" text-anchor="end" font-family="Liberation Serif, serif" stroke="#1a1a1a" stroke-width="0.22" fill="#1a1a1a">0.0</text>
<line x1="270.0" y1="161.3" x2="271.2" y2="161.3" stroke="#929292" stroke-width="0.8"/>
<line x1="270.0" y1="148.2" x2="272.2" y2="148.2" stroke="#929292" stroke-width="0.8"/>
<text x="267.6" y="153.3" font-size="15.3" text-anchor="end" font-family="Liberation Serif, serif" stroke="#1a1a1a" stroke-width="0.22" fill="#1a1a1a">0.2</text>
<line x1="270.0" y1="135.0" x2="271.2" y2="135.0" stroke="#929292" stroke-width="0.8"/>
<line x1="270.0" y1="121.8" x2="272.2" y2="121.8" stroke="#929292" stroke-width="0.8"/>
<text x="267.6" y="126.9" font-size="15.3" text-anchor="end" font-family="Liberation Serif, serif" stroke="#1a1a1a" stroke-width="0.22" fill="#1a1a1a">0.4</text>
<line x1="270.0" y1="108.7" x2="271.2" y2="108.7" stroke="#929292" stroke-width="0.8"/>
<line x1="270.0" y1="95.5" x2="272.2" y2="95.5" stroke="#929292" stroke-width="0.8"/>
<text x="267.6" y="100.6" font-size="15.3" text-anchor="end" font-family="Liberation Serif, serif" stroke="#1a1a1a" stroke-width="0.22" fill="#1a1a1a">0.6</text>
<line x1="270.0" y1="82.3" x2="271.2" y2="82.3" stroke="#929292" stroke-width="0.8"/>
<line x1="270.0" y1="69.1" x2="272.2" y2="69.1" stroke="#929292" stroke-width="0.8"/>
<text x="267.6" y="74.2" font-size="15.3" text-anchor="end" font-family="Liberation Serif, serif" stroke="#1a1a1a" stroke-width="0.22" fill="#1a1a1a">0.8</text>
<line x1="270.0" y1="56.0" x2="271.2" y2="56.0" stroke="#929292" stroke-width="0.8"/>
<line x1="270.0" y1="42.8" x2="272.2" y2="42.8" stroke="#929292" stroke-width="0.8"/>
<text x="267.6" y="47.9" font-size="15.3" text-anchor="end" font-family="Liberation Serif, serif" stroke="#1a1a1a" stroke-width="0.22" fill="#1a1a1a">1.0</text>
<line x1="270.0" y1="174.5" x2="270.0" y2="172.3" stroke="#929292" stroke-width="0.8"/>
<text x="270.4" y="189.5" font-size="15.3" text-anchor="middle" font-family="Liberation Serif, serif" stroke="#1a1a1a" stroke-width="0.22" fill="#1a1a1a">0</text>
<line x1="293.7" y1="174.5" x2="293.7" y2="173.3" stroke="#929292" stroke-width="0.8"/>
<line x1="317.4" y1="174.5" x2="317.4" y2="172.3" stroke="#929292" stroke-width="0.8"/>
<text x="317.8" y="189.5" font-size="15.3" text-anchor="middle" font-family="Liberation Serif, serif" stroke="#1a1a1a" stroke-width="0.22" fill="#1a1a1a">1</text>
<line x1="341.2" y1="174.5" x2="341.2" y2="173.3" stroke="#929292" stroke-width="0.8"/>
<line x1="364.9" y1="174.5" x2="364.9" y2="172.3" stroke="#929292" stroke-width="0.8"/>
<text x="365.3" y="189.5" font-size="15.3" text-anchor="middle" font-family="Liberation Serif, serif" stroke="#1a1a1a" stroke-width="0.22" fill="#1a1a1a">2</text>
<line x1="388.6" y1="174.5" x2="388.6" y2="173.3" stroke="#929292" stroke-width="0.8"/>
<line x1="412.3" y1="174.5" x2="412.3" y2="172.3" stroke="#929292" stroke-width="0.8"/>
<text x="412.7" y="189.5" font-size="15.3" text-anchor="middle" font-family="Liberation Serif, serif" stroke="#1a1a1a" stroke-width="0.22" fill="#1a1a1a">3</text>
<line x1="436.1" y1="174.5" x2="436.1" y2="173.3" stroke="#929292" stroke-width="0.8"/>
<line x1="459.8" y1="174.5" x2="459.8" y2="172.3" stroke="#929292" stroke-width="0.8"/>
<text x="460.2" y="189.5" font-size="15.3" text-anchor="middle" font-family="Liberation Serif, serif" stroke="#1a1a1a" stroke-width="0.22" fill="#1a1a1a">4</text>
<line x1="483.5" y1="174.5" x2="483.5" y2="173.3" stroke="#929292" stroke-width="0.8"/>
<text x="382.1" y="206.4" font-size="15.3" text-anchor="middle" font-family="Liberation Serif, serif" stroke="#1a1a1a" stroke-width="0.22" fill="#1a1a1a">length/km</text>
<text transform="translate(239.8,105.5) rotate(-90)" font-size="15.3" text-anchor="middle" font-family="Liberation Serif, serif" stroke="#1a1a1a" stroke-width="0.22" fill="#1a1a1a">FVC</text>
<polyline fill="none" stroke="#3a3a3a" stroke-width="0.85" stroke-linejoin="round" points="270.6,138.1 271.5,160.9 272.9,164.7 275.0,163.9 276.6,156.5 278.3,163.3 279.7,166.2 281.8,162.1 283.0,156.3 284.4,161.5 286.2,166.2 287.9,159.8 289.4,168.9 291.4,166.2 292.8,163.9 294.4,149.0 295.9,165.6 297.3,166.8 299.1,163.9 300.8,166.8 302.0,169.7 303.7,168.0 305.3,165.0 307.3,166.2 309.0,163.3 310.8,166.8 312.5,167.4 314.3,162.7 316.0,165.0 317.2,165.6 318.6,123.4 319.6,123.4 321.0,160.9 322.5,161.5 324.0,160.4 325.4,163.9 327.2,160.4 328.9,162.1 331.3,164.5 333.6,166.8 336.2,168.0 337.4,160.9 338.9,156.5 340.7,160.9 342.1,153.3 343.2,153.0 345.3,166.8 346.3,151.6 347.7,163.3 348.9,157.4 350.6,165.6 352.1,172.7 353.3,170.3 354.5,164.5 356.1,163.9 357.3,165.6 358.8,162.1 360.0,164.5 361.2,158.6 362.7,168.0 364.3,169.4 366.2,163.9 368.2,168.0 370.0,164.5 371.7,166.2 372.9,163.9 374.6,166.2 376.8,167.4 378.7,166.2 379.9,162.7 381.4,166.8 385.0,164.8 386.8,159.6 388.2,165.7 389.5,161.3 391.2,166.6 393.0,168.4 394.7,161.3 396.5,164.0 398.8,158.7 400.0,165.7 402.7,164.0 405.3,163.1 407.1,161.3 408.8,162.2 409.7,153.7 411.1,164.8 413.2,166.6 415.0,168.4 416.4,165.7 417.6,170.1 418.5,157.8 419.9,168.4 422.1,167.5 424.2,167.8 426.5,171.9 428.7,174.5 430.9,172.8 433.0,170.1 435.3,165.7 437.0,164.0 438.8,160.4 440.0,164.0 441.4,130.5 443.6,88.2 445.0,89.1 445.8,93.5 447.1,85.6 448.0,81.1 448.8,100.5 450.2,103.2 451.7,110.2 452.9,109.3 453.8,121.7 455.2,164.0 456.4,166.6 458.2,168.4 459.9,170.1 462.6,171.0 465.2,169.3 467.0,167.5 468.2,123.4 469.3,141.1 470.5,133.1 472.3,134.0 474.0,130.5 475.3,127.0 476.3,141.9 478.1,142.8 479.9,144.6 482.0,155.2 483.4,110.2 485.1,162.2 486.4,156.0 487.6,162.2 488.7,156.6 489.9,160.4 491.1,166.6 492.9,164.0"/>
<rect x="269.3" y="258.0" width="223.7" height="132.0" fill="none" stroke="#929292" stroke-width="1.05"/>
<line x1="269.3" y1="390.0" x2="271.5" y2="390.0" stroke="#929292" stroke-width="0.8"/>
<text x="266.9" y="395.1" font-size="15.3" text-anchor="end" font-family="Liberation Serif, serif" stroke="#1a1a1a" stroke-width="0.22" fill="#1a1a1a">0.0</text>
<line x1="269.3" y1="376.8" x2="270.5" y2="376.8" stroke="#929292" stroke-width="0.8"/>
<line x1="269.3" y1="363.6" x2="271.5" y2="363.6" stroke="#929292" stroke-width="0.8"/>
<text x="266.9" y="368.7" font-size="15.3" text-anchor="end" font-family="Liberation Serif, serif" stroke="#1a1a1a" stroke-width="0.22" fill="#1a1a1a">0.2</text>
<line x1="269.3" y1="350.4" x2="270.5" y2="350.4" stroke="#929292" stroke-width="0.8"/>
<line x1="269.3" y1="337.2" x2="271.5" y2="337.2" stroke="#929292" stroke-width="0.8"/>
<text x="266.9" y="342.3" font-size="15.3" text-anchor="end" font-family="Liberation Serif, serif" stroke="#1a1a1a" stroke-width="0.22" fill="#1a1a1a">0.4</text>
<line x1="269.3" y1="324.0" x2="270.5" y2="324.0" stroke="#929292" stroke-width="0.8"/>
<line x1="269.3" y1="310.8" x2="271.5" y2="310.8" stroke="#929292" stroke-width="0.8"/>
<text x="266.9" y="315.9" font-size="15.3" text-anchor="end" font-family="Liberation Serif, serif" stroke="#1a1a1a" stroke-width="0.22" fill="#1a1a1a">0.6</text>
<line x1="269.3" y1="297.6" x2="270.5" y2="297.6" stroke="#929292" stroke-width="0.8"/>
<line x1="269.3" y1="284.4" x2="271.5" y2="284.4" stroke="#929292" stroke-width="0.8"/>
<text x="266.9" y="289.5" font-size="15.3" text-anchor="end" font-family="Liberation Serif, serif" stroke="#1a1a1a" stroke-width="0.22" fill="#1a1a1a">0.8</text>
<line x1="269.3" y1="271.2" x2="270.5" y2="271.2" stroke="#929292" stroke-width="0.8"/>
<line x1="269.3" y1="258.0" x2="271.5" y2="258.0" stroke="#929292" stroke-width="0.8"/>
<text x="266.9" y="263.1" font-size="15.3" text-anchor="end" font-family="Liberation Serif, serif" stroke="#1a1a1a" stroke-width="0.22" fill="#1a1a1a">1.0</text>
<line x1="269.3" y1="390.0" x2="269.3" y2="387.8" stroke="#929292" stroke-width="0.8"/>
<text x="269.7" y="405.0" font-size="15.3" text-anchor="middle" font-family="Liberation Serif, serif" stroke="#1a1a1a" stroke-width="0.22" fill="#1a1a1a">0</text>
<line x1="293.1" y1="390.0" x2="293.1" y2="388.8" stroke="#929292" stroke-width="0.8"/>
<line x1="316.9" y1="390.0" x2="316.9" y2="387.8" stroke="#929292" stroke-width="0.8"/>
<text x="317.3" y="405.0" font-size="15.3" text-anchor="middle" font-family="Liberation Serif, serif" stroke="#1a1a1a" stroke-width="0.22" fill="#1a1a1a">1</text>
<line x1="340.7" y1="390.0" x2="340.7" y2="388.8" stroke="#929292" stroke-width="0.8"/>
<line x1="364.5" y1="390.0" x2="364.5" y2="387.8" stroke="#929292" stroke-width="0.8"/>
<text x="364.9" y="405.0" font-size="15.3" text-anchor="middle" font-family="Liberation Serif, serif" stroke="#1a1a1a" stroke-width="0.22" fill="#1a1a1a">2</text>
<line x1="388.3" y1="390.0" x2="388.3" y2="388.8" stroke="#929292" stroke-width="0.8"/>
<line x1="412.1" y1="390.0" x2="412.1" y2="387.8" stroke="#929292" stroke-width="0.8"/>
<text x="412.5" y="405.0" font-size="15.3" text-anchor="middle" font-family="Liberation Serif, serif" stroke="#1a1a1a" stroke-width="0.22" fill="#1a1a1a">3</text>
<line x1="435.9" y1="390.0" x2="435.9" y2="388.8" stroke="#929292" stroke-width="0.8"/>
<line x1="459.7" y1="390.0" x2="459.7" y2="387.8" stroke="#929292" stroke-width="0.8"/>
<text x="460.1" y="405.0" font-size="15.3" text-anchor="middle" font-family="Liberation Serif, serif" stroke="#1a1a1a" stroke-width="0.22" fill="#1a1a1a">4</text>
<line x1="483.5" y1="390.0" x2="483.5" y2="388.8" stroke="#929292" stroke-width="0.8"/>
<text x="381.8" y="421.9" font-size="15.3" text-anchor="middle" font-family="Liberation Serif, serif" stroke="#1a1a1a" stroke-width="0.22" fill="#1a1a1a">length/km</text>
<text transform="translate(239.1,320.8) rotate(-90)" font-size="15.3" text-anchor="middle" font-family="Liberation Serif, serif" stroke="#1a1a1a" stroke-width="0.22" fill="#1a1a1a">FVC</text>
<polyline fill="none" stroke="#3a3a3a" stroke-width="0.85" stroke-linejoin="round" points="269.4,303.8 270.9,307.3 273.3,308.5 275.3,309.6 276.4,336.6 277.6,309.1 279.1,307.9 280.9,308.8 282.6,306.7 284.4,306.1 286.2,311.4 287.7,306.7 288.9,309.6 290.5,309.1 292.0,303.8 293.5,306.7 294.7,303.2 296.7,305.5 298.5,309.1 299.6,307.7 301.4,312.0 303.2,310.2 304.9,309.3 306.7,308.5 308.4,313.8 310.0,309.6 311.6,306.7 313.7,322.5 315.5,306.7 317.2,310.0 319.0,296.2 320.2,295.0 321.3,299.1 323.1,300.9 324.8,306.1 326.6,310.8 328.0,306.7 329.5,302.6 331.3,306.1 332.7,310.8 334.2,305.5 335.4,310.2 336.6,316.7 338.1,309.1 339.7,310.8 341.6,314.3 343.2,307.9 345.1,312.6 346.8,313.8 348.3,312.6 350.0,313.8 351.0,333.7 352.1,364.7 353.3,344.2 354.1,342.5 355.0,317.9 356.5,315.5 358.2,313.8 359.4,316.1 360.6,310.8 362.0,316.7 363.5,322.0 365.0,316.7 366.4,312.0 368.2,314.3 369.7,312.6 371.1,313.8 372.3,309.6 374.1,309.1 375.2,321.4 376.4,327.2 378.2,313.8 379.6,312.6 381.1,311.4 382.6,323.1 383.8,315.4 385.7,313.8 387.5,311.5 389.1,313.0 390.6,317.7 392.6,316.9 393.7,313.0 395.2,303.1 396.7,308.4 398.3,316.9 399.8,309.2 401.8,308.4 403.8,306.9 405.7,308.1 408.0,304.6 409.5,313.0 411.5,316.9 413.0,322.3 414.1,316.9 415.2,333.0 416.7,352.2 418.0,329.2 419.2,325.3 421.0,343.8 422.6,316.1 423.6,330.0 424.9,327.6 425.9,351.5 426.9,389.9 428.4,389.9 429.2,336.1 430.2,362.2 431.0,389.9 431.8,348.4 433.0,346.9 434.1,328.4 435.2,321.5 436.4,320.0 437.6,323.0 438.7,326.1 441.0,326.1 442.2,316.1 443.8,303.8 445.3,301.5 446.8,300.0 447.9,305.4 449.0,302.3 450.2,307.7 451.4,305.4 453.0,308.4 454.1,320.0 455.6,322.3 457.1,329.2 458.7,323.0 460.2,316.1 461.7,317.7 463.3,323.0 464.8,321.5 466.4,323.0 467.9,317.7 469.0,310.7 469.9,326.9 471.4,320.0 473.0,318.4 474.0,325.3 475.1,313.0 476.0,324.6 477.1,314.6 478.6,309.2 480.2,314.6 481.7,320.0 483.3,303.8 484.3,316.1 485.9,313.8 487.4,316.9 488.9,314.6 490.5,319.2 492.5,319.2"/>
<rect x="269.3" y="470.3" width="223.7" height="132.0" fill="none" stroke="#929292" stroke-width="1.05"/>
<line x1="269.3" y1="602.3" x2="271.5" y2="602.3" stroke="#929292" stroke-width="0.8"/>
<text x="266.9" y="607.4" font-size="15.3" text-anchor="end" font-family="Liberation Serif, serif" stroke="#1a1a1a" stroke-width="0.22" fill="#1a1a1a">0.0</text>
<line x1="269.3" y1="589.1" x2="270.5" y2="589.1" stroke="#929292" stroke-width="0.8"/>
<line x1="269.3" y1="575.9" x2="271.5" y2="575.9" stroke="#929292" stroke-width="0.8"/>
<text x="266.9" y="581.0" font-size="15.3" text-anchor="end" font-family="Liberation Serif, serif" stroke="#1a1a1a" stroke-width="0.22" fill="#1a1a1a">0.2</text>
<line x1="269.3" y1="562.7" x2="270.5" y2="562.7" stroke="#929292" stroke-width="0.8"/>
<line x1="269.3" y1="549.5" x2="271.5" y2="549.5" stroke="#929292" stroke-width="0.8"/>
<text x="266.9" y="554.6" font-size="15.3" text-anchor="end" font-family="Liberation Serif, serif" stroke="#1a1a1a" stroke-width="0.22" fill="#1a1a1a">0.4</text>
<line x1="269.3" y1="536.3" x2="270.5" y2="536.3" stroke="#929292" stroke-width="0.8"/>
<line x1="269.3" y1="523.1" x2="271.5" y2="523.1" stroke="#929292" stroke-width="0.8"/>
<text x="266.9" y="528.2" font-size="15.3" text-anchor="end" font-family="Liberation Serif, serif" stroke="#1a1a1a" stroke-width="0.22" fill="#1a1a1a">0.6</text>
<line x1="269.3" y1="509.9" x2="270.5" y2="509.9" stroke="#929292" stroke-width="0.8"/>
<line x1="269.3" y1="496.7" x2="271.5" y2="496.7" stroke="#929292" stroke-width="0.8"/>
<text x="266.9" y="501.8" font-size="15.3" text-anchor="end" font-family="Liberation Serif, serif" stroke="#1a1a1a" stroke-width="0.22" fill="#1a1a1a">0.8</text>
<line x1="269.3" y1="483.5" x2="270.5" y2="483.5" stroke="#929292" stroke-width="0.8"/>
<line x1="269.3" y1="470.3" x2="271.5" y2="470.3" stroke="#929292" stroke-width="0.8"/>
<text x="266.9" y="475.4" font-size="15.3" text-anchor="end" font-family="Liberation Serif, serif" stroke="#1a1a1a" stroke-width="0.22" fill="#1a1a1a">1.0</text>
<line x1="269.3" y1="602.3" x2="269.3" y2="600.0999999999999" stroke="#929292" stroke-width="0.8"/>
<text x="269.7" y="617.3" font-size="15.3" text-anchor="middle" font-family="Liberation Serif, serif" stroke="#1a1a1a" stroke-width="0.22" fill="#1a1a1a">0</text>
<line x1="293.1" y1="602.3" x2="293.1" y2="601.0999999999999" stroke="#929292" stroke-width="0.8"/>
<line x1="316.9" y1="602.3" x2="316.9" y2="600.0999999999999" stroke="#929292" stroke-width="0.8"/>
<text x="317.3" y="617.3" font-size="15.3" text-anchor="middle" font-family="Liberation Serif, serif" stroke="#1a1a1a" stroke-width="0.22" fill="#1a1a1a">1</text>
<line x1="340.7" y1="602.3" x2="340.7" y2="601.0999999999999" stroke="#929292" stroke-width="0.8"/>
<line x1="364.5" y1="602.3" x2="364.5" y2="600.0999999999999" stroke="#929292" stroke-width="0.8"/>
<text x="364.9" y="617.3" font-size="15.3" text-anchor="middle" font-family="Liberation Serif, serif" stroke="#1a1a1a" stroke-width="0.22" fill="#1a1a1a">2</text>
<line x1="388.3" y1="602.3" x2="388.3" y2="601.0999999999999" stroke="#929292" stroke-width="0.8"/>
<line x1="412.1" y1="602.3" x2="412.1" y2="600.0999999999999" stroke="#929292" stroke-width="0.8"/>
<text x="412.5" y="617.3" font-size="15.3" text-anchor="middle" font-family="Liberation Serif, serif" stroke="#1a1a1a" stroke-width="0.22" fill="#1a1a1a">3</text>
<line x1="435.9" y1="602.3" x2="435.9" y2="601.0999999999999" stroke="#929292" stroke-width="0.8"/>
<line x1="459.7" y1="602.3" x2="459.7" y2="600.0999999999999" stroke="#929292" stroke-width="0.8"/>
<text x="460.1" y="617.3" font-size="15.3" text-anchor="middle" font-family="Liberation Serif, serif" stroke="#1a1a1a" stroke-width="0.22" fill="#1a1a1a">4</text>
<line x1="483.5" y1="602.3" x2="483.5" y2="601.0999999999999" stroke="#929292" stroke-width="0.8"/>
<text x="381.8" y="634.2" font-size="15.3" text-anchor="middle" font-family="Liberation Serif, serif" stroke="#1a1a1a" stroke-width="0.22" fill="#1a1a1a">length/km</text>
<text transform="translate(239.1,533.1) rotate(-90)" font-size="15.3" text-anchor="middle" font-family="Liberation Serif, serif" stroke="#1a1a1a" stroke-width="0.22" fill="#1a1a1a">FVC</text>
<polyline fill="none" stroke="#3a3a3a" stroke-width="0.85" stroke-linejoin="round" points="269.4,514.3 270.6,510.8 272.1,510.0 273.6,510.8 275.0,509.1 276.2,509.6 277.6,505.8 279.1,507.9 280.3,507.7 281.5,512.0 282.6,506.1 283.8,510.2 285.3,508.1 286.8,509.6 288.5,507.3 290.3,510.8 292.0,506.1 293.8,505.8 296.1,505.5 297.9,507.7 299.6,507.3 302.0,506.7 303.7,506.5 305.5,507.9 307.3,509.6 308.7,519.6 309.3,507.3 310.8,509.6 311.9,507.9 313.7,537.8 314.6,524.3 315.8,506.1 317.2,507.3 318.4,507.9 319.6,502.6 321.3,502.3 322.5,503.0 324.0,502.3 325.2,505.0 326.6,512.6 328.0,511.4 329.5,506.1 331.3,505.5 332.7,506.1 334.2,503.2 335.7,506.1 337.1,505.3 338.9,505.5 340.4,512.6 342.4,512.3 343.9,509.1 345.1,505.0 346.3,509.6 347.5,509.1 348.9,514.3 350.0,511.4 351.0,534.8 352.1,568.2 353.3,541.9 354.1,538.4 355.0,509.6 356.5,507.3 358.2,509.1 360.0,507.3 361.5,506.1 362.9,508.5 364.3,509.1 365.9,510.2 367.4,506.7 369.0,505.8 370.5,506.7 372.1,505.5 373.5,506.5 374.9,506.7 375.8,512.6 377.0,518.2 378.2,509.1 379.3,516.1 380.7,506.1 382.3,509.6 384.1,506.1 386.5,506.9 388.8,506.1 391.1,507.7 393.4,505.4 395.7,504.6 396.7,506.9 398.0,520.0 399.5,506.1 401.8,505.4 403.4,506.9 405.4,504.3 407.2,506.1 408.7,506.9 410.0,511.5 411.0,509.2 412.6,510.4 414.1,510.0 415.2,536.1 416.4,537.6 417.3,546.9 418.3,518.4 419.5,516.1 421.0,530.7 422.6,510.8 423.5,523.0 424.1,512.3 425.3,525.4 426.4,533.8 427.2,558.4 427.5,588.4 428.7,592.2 429.5,598.3 430.6,590.7 431.8,572.2 433.0,558.4 434.1,547.6 435.2,514.6 436.4,523.0 437.6,519.2 438.7,523.8 439.8,517.7 441.0,512.3 442.2,523.8 443.3,516.1 444.8,510.8 446.4,512.3 447.9,510.8 449.0,517.7 450.2,510.8 451.8,510.0 453.0,508.5 454.1,514.6 455.6,521.5 457.1,525.4 458.7,521.5 460.2,512.3 461.7,509.2 463.3,510.0 464.4,517.7 465.6,510.8 467.1,515.4 468.4,520.0 469.4,523.8 471.0,518.4 472.5,520.7 474.0,520.0 475.6,518.4 476.3,506.9 477.6,509.2 478.2,519.2 479.4,520.7 481.3,521.5 482.5,523.0 483.1,532.3 484.0,515.4 485.3,519.2 486.0,508.5 487.4,512.3 488.6,510.8 490.2,514.6 491.7,511.5 493.0,509.2"/>
<rect x="761.0" y="43.2" width="225.0" height="132.1" fill="none" stroke="#929292" stroke-width="1.05"/>
<line x1="761.0" y1="175.3" x2="763.2" y2="175.3" stroke="#929292" stroke-width="0.8"/>
<text x="758.6" y="180.4" font-size="15.3" text-anchor="end" font-family="Liberation Serif, serif" stroke="#1a1a1a" stroke-width="0.22" fill="#1a1a1a">0.0</text>
<line x1="761.0" y1="162.1" x2="762.2" y2="162.1" stroke="#929292" stroke-width="0.8"/>
<line x1="761.0" y1="148.9" x2="763.2" y2="148.9" stroke="#929292" stroke-width="0.8"/>
<text x="758.6" y="154.0" font-size="15.3" text-anchor="end" font-family="Liberation Serif, serif" stroke="#1a1a1a" stroke-width="0.22" fill="#1a1a1a">0.2</text>
<line x1="761.0" y1="135.7" x2="762.2" y2="135.7" stroke="#929292" stroke-width="0.8"/>
<line x1="761.0" y1="122.5" x2="763.2" y2="122.5" stroke="#929292" stroke-width="0.8"/>
<text x="758.6" y="127.6" font-size="15.3" text-anchor="end" font-family="Liberation Serif, serif" stroke="#1a1a1a" stroke-width="0.22" fill="#1a1a1a">0.4</text>
<line x1="761.0" y1="109.2" x2="762.2" y2="109.2" stroke="#929292" stroke-width="0.8"/>
<line x1="761.0" y1="96.0" x2="763.2" y2="96.0" stroke="#929292" stroke-width="0.8"/>
<text x="758.6" y="101.1" font-size="15.3" text-anchor="end" font-family="Liberation Serif, serif" stroke="#1a1a1a" stroke-width="0.22" fill="#1a1a1a">0.6</text>
<line x1="761.0" y1="82.8" x2="762.2" y2="82.8" stroke="#929292" stroke-width="0.8"/>
<line x1="761.0" y1="69.6" x2="763.2" y2="69.6" stroke="#929292" stroke-width="0.8"/>
<text x="758.6" y="74.7" font-size="15.3" text-anchor="end" font-family="Liberation Serif, serif" stroke="#1a1a1a" stroke-width="0.22" fill="#1a1a1a">0.8</text>
<line x1="761.0" y1="56.4" x2="762.2" y2="56.4" stroke="#929292" stroke-width="0.8"/>
<line x1="761.0" y1="43.2" x2="763.2" y2="43.2" stroke="#929292" stroke-width="0.8"/>
<text x="758.6" y="48.3" font-size="15.3" text-anchor="end" font-family="Liberation Serif, serif" stroke="#1a1a1a" stroke-width="0.22" fill="#1a1a1a">1.0</text>
<line x1="761.0" y1="175.3" x2="761.0" y2="173.10000000000002" stroke="#929292" stroke-width="0.8"/>
<text x="761.4" y="190.3" font-size="15.3" text-anchor="middle" font-family="Liberation Serif, serif" stroke="#1a1a1a" stroke-width="0.22" fill="#1a1a1a">0</text>
<line x1="784.9" y1="175.3" x2="784.9" y2="174.10000000000002" stroke="#929292" stroke-width="0.8"/>
<line x1="808.9" y1="175.3" x2="808.9" y2="173.10000000000002" stroke="#929292" stroke-width="0.8"/>
<text x="809.3" y="190.3" font-size="15.3" text-anchor="middle" font-family="Liberation Serif, serif" stroke="#1a1a1a" stroke-width="0.22" fill="#1a1a1a">1</text>
<line x1="832.8" y1="175.3" x2="832.8" y2="174.10000000000002" stroke="#929292" stroke-width="0.8"/>
<line x1="856.7" y1="175.3" x2="856.7" y2="173.10000000000002" stroke="#929292" stroke-width="0.8"/>
<text x="857.1" y="190.3" font-size="15.3" text-anchor="middle" font-family="Liberation Serif, serif" stroke="#1a1a1a" stroke-width="0.22" fill="#1a1a1a">2</text>
<line x1="880.7" y1="175.3" x2="880.7" y2="174.10000000000002" stroke="#929292" stroke-width="0.8"/>
<line x1="904.6" y1="175.3" x2="904.6" y2="173.10000000000002" stroke="#929292" stroke-width="0.8"/>
<text x="905.0" y="190.3" font-size="15.3" text-anchor="middle" font-family="Liberation Serif, serif" stroke="#1a1a1a" stroke-width="0.22" fill="#1a1a1a">3</text>
<line x1="928.6" y1="175.3" x2="928.6" y2="174.10000000000002" stroke="#929292" stroke-width="0.8"/>
<line x1="952.5" y1="175.3" x2="952.5" y2="173.10000000000002" stroke="#929292" stroke-width="0.8"/>
<text x="952.9" y="190.3" font-size="15.3" text-anchor="middle" font-family="Liberation Serif, serif" stroke="#1a1a1a" stroke-width="0.22" fill="#1a1a1a">4</text>
<line x1="976.4" y1="175.3" x2="976.4" y2="174.10000000000002" stroke="#929292" stroke-width="0.8"/>
<text x="874.1" y="207.2" font-size="15.3" text-anchor="middle" font-family="Liberation Serif, serif" stroke="#1a1a1a" stroke-width="0.22" fill="#1a1a1a">length/km</text>
<text transform="translate(730.8,106.0) rotate(-90)" font-size="15.3" text-anchor="middle" font-family="Liberation Serif, serif" stroke="#1a1a1a" stroke-width="0.22" fill="#1a1a1a">FVC</text>
<polyline fill="none" stroke="#3a3a3a" stroke-width="0.85" stroke-linejoin="round" points="761.2,73.3 762.7,77.9 764.5,81.6 766.7,83.4 768.2,93.5 769.6,78.9 770.9,85.3 772.8,80.7 774.2,77.9 775.5,81.6 777.3,79.8 779.6,79.2 781.4,81.6 783.2,77.9 785.6,73.0 787.4,74.3 789.8,76.7 792.0,76.1 794.2,73.3 795.7,77.0 797.5,78.9 799.0,81.6 800.5,94.4 801.6,79.8 803.0,78.9 804.5,81.6 806.0,108.2 807.3,77.0 808.9,73.3 810.4,72.4 812.2,67.5 814.0,68.8 815.5,73.3 816.4,69.7 818.1,81.6 819.9,73.3 821.8,72.4 823.6,71.1 825.1,73.3 826.5,71.1 828.4,71.9 830.6,74.3 832.4,82.5 833.9,76.1 835.1,79.8 836.4,74.3 837.9,71.1 839.4,77.0 840.7,84.4 841.6,82.5 842.7,91.7 843.4,128.4 844.5,151.3 845.6,119.2 846.7,99.0 847.8,76.1 849.8,74.8 851.7,75.2 853.5,74.3 855.3,73.0 857.2,76.1 859.0,74.3 861.8,73.3 864.5,74.8 867.3,73.7 869.0,77.0 870.5,76.1 871.4,88.0 872.7,73.3 874.5,76.1 876.3,73.3 878.2,76.7 880.0,74.3 881.8,75.2 883.3,77.0 885.1,72.4 887.0,71.5 889.2,73.3 890.7,80.7 891.9,72.4 893.8,73.0 896.2,71.1 898.4,69.7 900.2,71.5 901.7,82.5 902.9,76.1 904.8,74.3 906.2,75.2 907.5,110.0 909.4,132.1 910.3,136.7 911.6,128.4 912.3,94.4 913.0,128.4 914.1,100.9 914.9,73.3 915.8,91.7 916.7,78.9 917.6,93.5 918.5,102.7 919.5,146.7 920.4,174.3 922.2,174.3 922.9,158.7 923.7,165.1 924.6,129.3 925.5,146.7 926.4,144.9 927.3,91.7 928.6,88.0 930.5,84.4 931.8,88.9 933.2,75.2 934.3,91.7 935.4,77.0 936.9,74.3 938.7,73.3 940.6,73.3 942.0,79.8 943.9,80.7 945.7,77.9 947.5,82.5 949.0,90.8 949.9,87.1 950.8,94.4 951.9,71.5 953.4,67.8 954.9,66.9 956.2,69.7 958.0,74.3 959.8,76.1 961.7,83.4 962.9,88.9 964.0,84.4 965.9,89.9 967.3,91.7 968.4,88.0 969.9,93.5 971.4,95.4 972.7,99.0 974.0,108.2 974.7,103.6 975.4,116.5 976.3,82.5 977.6,76.1 979.1,84.4 980.2,77.9 981.8,80.7 983.1,77.9 984.6,81.6 986.0,77.0"/>
<rect x="762.4" y="257.9" width="223.6" height="131.9" fill="none" stroke="#929292" stroke-width="1.05"/>
<line x1="762.4" y1="389.8" x2="764.6" y2="389.8" stroke="#929292" stroke-width="0.8"/>
<text x="760.0" y="394.9" font-size="15.3" text-anchor="end" font-family="Liberation Serif, serif" stroke="#1a1a1a" stroke-width="0.22" fill="#1a1a1a">0.0</text>
<line x1="762.4" y1="376.6" x2="763.6" y2="376.6" stroke="#929292" stroke-width="0.8"/>
<line x1="762.4" y1="363.4" x2="764.6" y2="363.4" stroke="#929292" stroke-width="0.8"/>
<text x="760.0" y="368.5" font-size="15.3" text-anchor="end" font-family="Liberation Serif, serif" stroke="#1a1a1a" stroke-width="0.22" fill="#1a1a1a">0.2</text>
<line x1="762.4" y1="350.2" x2="763.6" y2="350.2" stroke="#929292" stroke-width="0.8"/>
<line x1="762.4" y1="337.0" x2="764.6" y2="337.0" stroke="#929292" stroke-width="0.8"/>
<text x="760.0" y="342.1" font-size="15.3" text-anchor="end" font-family="Liberation Serif, serif" stroke="#1a1a1a" stroke-width="0.22" fill="#1a1a1a">0.4</text>
<line x1="762.4" y1="323.9" x2="763.6" y2="323.9" stroke="#929292" stroke-width="0.8"/>
<line x1="762.4" y1="310.7" x2="764.6" y2="310.7" stroke="#929292" stroke-width="0.8"/>
<text x="760.0" y="315.8" font-size="15.3" text-anchor="end" font-family="Liberation Serif, serif" stroke="#1a1a1a" stroke-width="0.22" fill="#1a1a1a">0.6</text>
<line x1="762.4" y1="297.5" x2="763.6" y2="297.5" stroke="#929292" stroke-width="0.8"/>
<line x1="762.4" y1="284.3" x2="764.6" y2="284.3" stroke="#929292" stroke-width="0.8"/>
<text x="760.0" y="289.4" font-size="15.3" text-anchor="end" font-family="Liberation Serif, serif" stroke="#1a1a1a" stroke-width="0.22" fill="#1a1a1a">0.8</text>
<line x1="762.4" y1="271.1" x2="763.6" y2="271.1" stroke="#929292" stroke-width="0.8"/>
<line x1="762.4" y1="257.9" x2="764.6" y2="257.9" stroke="#929292" stroke-width="0.8"/>
<text x="760.0" y="263.0" font-size="15.3" text-anchor="end" font-family="Liberation Serif, serif" stroke="#1a1a1a" stroke-width="0.22" fill="#1a1a1a">1.0</text>
<line x1="762.4" y1="389.8" x2="762.4" y2="387.6" stroke="#929292" stroke-width="0.8"/>
<text x="762.8" y="404.8" font-size="15.3" text-anchor="middle" font-family="Liberation Serif, serif" stroke="#1a1a1a" stroke-width="0.22" fill="#1a1a1a">0</text>
<line x1="786.2" y1="389.8" x2="786.2" y2="388.6" stroke="#929292" stroke-width="0.8"/>
<line x1="810.0" y1="389.8" x2="810.0" y2="387.6" stroke="#929292" stroke-width="0.8"/>
<text x="810.4" y="404.8" font-size="15.3" text-anchor="middle" font-family="Liberation Serif, serif" stroke="#1a1a1a" stroke-width="0.22" fill="#1a1a1a">1</text>
<line x1="833.8" y1="389.8" x2="833.8" y2="388.6" stroke="#929292" stroke-width="0.8"/>
<line x1="857.5" y1="389.8" x2="857.5" y2="387.6" stroke="#929292" stroke-width="0.8"/>
<text x="857.9" y="404.8" font-size="15.3" text-anchor="middle" font-family="Liberation Serif, serif" stroke="#1a1a1a" stroke-width="0.22" fill="#1a1a1a">2</text>
<line x1="881.3" y1="389.8" x2="881.3" y2="388.6" stroke="#929292" stroke-width="0.8"/>
<line x1="905.1" y1="389.8" x2="905.1" y2="387.6" stroke="#929292" stroke-width="0.8"/>
<text x="905.5" y="404.8" font-size="15.3" text-anchor="middle" font-family="Liberation Serif, serif" stroke="#1a1a1a" stroke-width="0.22" fill="#1a1a1a">3</text>
<line x1="928.9" y1="389.8" x2="928.9" y2="388.6" stroke="#929292" stroke-width="0.8"/>
<line x1="952.7" y1="389.8" x2="952.7" y2="387.6" stroke="#929292" stroke-width="0.8"/>
<text x="953.1" y="404.8" font-size="15.3" text-anchor="middle" font-family="Liberation Serif, serif" stroke="#1a1a1a" stroke-width="0.22" fill="#1a1a1a">4</text>
<line x1="976.5" y1="389.8" x2="976.5" y2="388.6" stroke="#929292" stroke-width="0.8"/>
<text x="874.8" y="421.7" font-size="15.3" text-anchor="middle" font-family="Liberation Serif, serif" stroke="#1a1a1a" stroke-width="0.22" fill="#1a1a1a">length/km</text>
<text transform="translate(732.2,320.7) rotate(-90)" font-size="15.3" text-anchor="middle" font-family="Liberation Serif, serif" stroke="#1a1a1a" stroke-width="0.22" fill="#1a1a1a">FVC</text>
<polyline fill="none" stroke="#3a3a3a" stroke-width="0.85" stroke-linejoin="round" points="762.5,376.1 763.9,377.2 765.4,384.8 767.2,382.5 769.0,381.3 770.7,382.7 772.5,382.5 774.0,385.4 775.4,382.5 777.2,383.1 778.3,385.4 780.1,379.2 781.5,386.6 783.0,385.4 784.2,383.7 785.7,386.0 787.1,373.1 788.9,377.2 791.2,382.5 793.0,380.2 794.2,378.4 795.9,380.2 797.1,379.6 798.8,379.2 800.0,384.3 801.4,386.0 802.9,384.8 804.1,387.8 805.9,387.2 807.3,389.3 808.5,385.4 810.0,383.7 811.7,372.0 812.9,374.3 814.7,372.0 816.4,377.8 817.6,374.3 819.0,376.1 820.5,380.2 821.7,382.5 823.2,380.2 824.6,374.3 826.4,372.0 827.6,370.8 829.3,374.3 830.5,373.7 832.2,376.1 834.0,379.6 834.9,378.4 836.1,381.3 837.3,374.9 838.5,368.2 839.9,376.1 841.0,376.6 842.2,373.1 843.4,379.0 844.6,389.3 846.3,389.3 847.1,386.0 848.1,369.0 849.8,369.0 851.6,370.8 853.3,370.2 855.1,369.0 856.5,366.7 858.0,371.4 859.6,367.3 861.0,369.0 862.7,366.7 864.2,368.4 865.9,367.9 867.4,368.4 868.6,372.5 869.0,373.1 870.4,371.4 871.6,367.9 872.8,373.7 873.9,367.3 875.4,366.7 877.2,366.1 879.0,367.3 880.7,366.1 881.9,365.5 883.3,367.3 884.8,369.0 886.3,367.3 888.0,367.9 889.9,368.4 891.0,369.0 891.9,381.3 892.7,370.2 894.2,369.0 896.0,367.9 897.7,366.7 899.2,366.3 900.6,368.4 902.4,370.8 903.6,376.1 904.7,370.8 905.9,370.2 907.1,376.6 908.3,386.0 909.4,387.8 910.3,389.8 911.8,388.9 912.9,386.6 914.5,386.0 915.3,373.1 916.5,380.2 917.6,383.7 918.8,386.6 920.0,389.8 926.4,389.8 927.6,379.0 928.2,383.7 929.4,376.6 930.5,375.5 932.3,382.5 934.4,372.5 935.6,379.6 936.7,363.2 938.1,362.6 939.3,366.7 940.7,362.3 941.7,361.4 943.1,363.2 944.6,364.9 945.8,366.1 946.6,375.5 947.8,385.4 948.7,387.8 949.9,386.6 951.0,380.2 952.0,386.0 952.8,381.3 953.6,380.7 954.6,389.8 955.7,389.8 956.7,382.5 957.8,386.0 958.7,381.9 959.8,386.6 960.6,389.3 961.6,379.0 962.5,373.7 963.9,372.5 965.7,371.4 967.2,369.6 968.4,367.3 969.2,376.6 970.0,373.7 971.2,380.2 972.1,386.6 973.9,387.8 975.1,387.2 975.9,389.8 976.6,369.0 977.8,378.4 979.2,379.0 980.9,379.6 982.4,378.4 983.6,381.3 984.4,384.8 985.3,381.9"/>
<defs><linearGradient id="lg" x1="0" y1="0" x2="0" y2="1"><stop offset="0" stop-color="#0b6418"/><stop offset="0.12" stop-color="#1a8a1a"/><stop offset="0.30" stop-color="#33c41a"/><stop offset="0.42" stop-color="#4ede12"/><stop offset="0.52" stop-color="#c6ee10"/><stop offset="0.60" stop-color="#fbf208"/><stop offset="0.70" stop-color="#f0c40a"/><stop offset="0.82" stop-color="#d8920a"/><stop offset="0.93" stop-color="#9a6a10"/><stop offset="1" stop-color="#6e4a12"/></linearGradient></defs>
<rect x="594" y="540.5" width="19.4" height="86" fill="url(#lg)"/>
<text x="593.2" y="529.3" font-size="17.9" font-family="Liberation Serif, serif" stroke="#1a1a1a" stroke-width="0.22" fill="#1a1a1a">FVC</text>
<text x="619.5" y="551.7" font-size="15.3" font-family="Liberation Serif, serif" stroke="#1a1a1a" stroke-width="0.22" fill="#1a1a1a">1.0</text>
<text x="621" y="627.4" font-size="15.3" font-family="Liberation Serif, serif" stroke="#1a1a1a" stroke-width="0.22" fill="#1a1a1a">0.0</text>
<rect x="693.2" y="607" width="117.3" height="8.1" fill="#fff" stroke="#111" stroke-width="0.8"/>
<rect x="693.2" y="607" width="14.7" height="8.1" fill="#000"/>
<rect x="722.5" y="607" width="29.3" height="8.1" fill="#000"/>
<rect x="781.2" y="607" width="29.3" height="8.1" fill="#000"/>
<text x="694.6" y="598" font-size="15" text-anchor="middle" font-family="Liberation Serif, serif" stroke="#1a1a1a" stroke-width="0.22" fill="#1a1a1a">0</text>
<text x="724.1" y="598" font-size="15" text-anchor="middle" font-family="Liberation Serif, serif" stroke="#1a1a1a" stroke-width="0.22" fill="#1a1a1a">1</text>
<text x="751.3" y="598" font-size="15" text-anchor="middle" font-family="Liberation Serif, serif" stroke="#1a1a1a" stroke-width="0.22" fill="#1a1a1a">2</text>
<text x="804.2" y="598" font-size="15.5" font-family="Liberation Serif, serif" stroke="#1a1a1a" stroke-width="0.22" fill="#1a1a1a">4 km</text>
<text x="747.8" y="532.4" font-size="11.8" text-anchor="middle" font-family="Liberation Sans, sans-serif" fill="#111" stroke="#111" stroke-width="0.35">N</text>
<polygon points="747.5,536.1 756.8,567 747.8,556" fill="#fff" stroke="#000" stroke-width="1.1" stroke-linejoin="miter"/>
<polygon points="747.5,536.1 738.4,567 747.8,556" fill="#000" stroke="#000" stroke-width="0.8"/>
</svg></body></html>
